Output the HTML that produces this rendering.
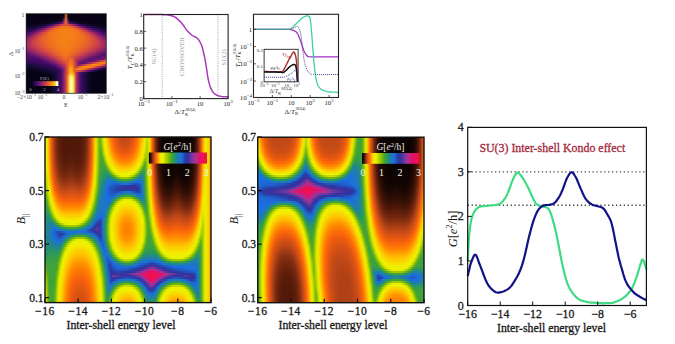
<!DOCTYPE html>
<html><head><meta charset="utf-8"><style>
html,body{margin:0;padding:0;background:#fff;width:675px;height:344px;overflow:hidden}
.hm{position:absolute;overflow:hidden}
.hm div{position:absolute;left:0;width:100%;height:2px}
</style></head><body>
<div class="hm" style="left:45px;top:137px;width:166px;height:166px"><div style="top:0px;background:linear-gradient(90deg,#ecf000 0px,#e8f000 2px,#ffad00 4px,#f8620b 6px,#c64a17 8px,#933513 10px,#73270f 12px,#611f0b 14px,#571b09 16px,#521908 18px,#511808 20px,#501808 22px,#501808 24px,#501808 26px,#501808 28px,#501808 30px,#501808 32px,#511908 34px,#541a09 36px,#5b1d0a 38px,#68220d 40px,#812d11 42px,#ab3f16 44px,#dd5412 46px,#fe8102 48px,#f8d900 50px,#cadf00 52px,#75b70f 54px,#80bb09 56px,#d2e500 58px,#f1ed00 60px,#fdcb00 62px,#ffa200 64px,#fd7f03 66px,#f9660a 68px,#e95a0f 70px,#d95313 72px,#cd4e15 74px,#c64b17 76px,#c34917 78px,#c24918 80px,#c34917 82px,#c84b16 84px,#d04f15 86px,#dd5412 88px,#ef5c0e 90px,#fa6d08 92px,#ff8800 94px,#ffae00 96px,#f9d400 98px,#edf000 100px,#bbd500 102px,#e8f000 104px,#ff9d00 106px,#e05611 108px,#923413 110px,#541a09 112px,#2d0d04 114px,#150602 116px,#0f0401 118px,#0c0401 120px,#0b0301 122px,#0a0301 124px,#0a0301 126px,#0a0301 128px,#0a0301 130px,#0a0301 132px,#0a0301 134px,#0a0301 136px,#0a0301 138px,#0a0301 140px,#0b0301 142px,#0c0401 144px,#0f0401 146px,#150602 148px,#2d0d04 150px,#541a09 152px,#923413 154px,#e05611 156px,#ff9d00 158px,#e8f000 160px,#f4e400 162px,#fec600 164px,#ff9e00 166px)"></div><div style="top:2px;background:linear-gradient(90deg,#ecf000 0px,#e8f000 2px,#ffad00 4px,#f8620b 6px,#c64a17 8px,#943513 10px,#73270f 12px,#611f0b 14px,#571b09 16px,#521908 18px,#511808 20px,#501808 22px,#501808 24px,#501808 26px,#501808 28px,#501808 30px,#501808 32px,#511908 34px,#541a09 36px,#5b1d0a 38px,#68220d 40px,#812d11 42px,#ab3f16 44px,#dd5512 46px,#fe8102 48px,#f8d900 50px,#cadf00 52px,#75b70f 54px,#7cb90b 56px,#cee300 58px,#f0ef00 60px,#fccc00 62px,#ffa500 64px,#fe8102 66px,#f96809 68px,#eb5b0f 70px,#db5312 72px,#cf4f15 74px,#c84c16 76px,#c54a17 78px,#c44a17 80px,#c54a17 82px,#ca4c16 84px,#d25014 86px,#df5511 88px,#f15d0d 90px,#fb6f07 92px,#ff8a00 94px,#ffb100 96px,#f9d600 98px,#ecf000 100px,#b7d400 102px,#e8f000 104px,#ff9d00 106px,#e05611 108px,#923413 110px,#551a09 112px,#2d0d04 114px,#150602 116px,#0f0401 118px,#0c0401 120px,#0b0301 122px,#0a0301 124px,#0a0301 126px,#0a0301 128px,#0a0301 130px,#0a0301 132px,#0a0301 134px,#0a0301 136px,#0a0301 138px,#0a0301 140px,#0b0301 142px,#0c0401 144px,#0f0401 146px,#150602 148px,#2d0d04 150px,#551a09 152px,#923413 154px,#e05611 156px,#ff9d00 158px,#e8f000 160px,#f4e400 162px,#fec500 164px,#ff9e00 166px)"></div><div style="top:4px;background:linear-gradient(90deg,#ecf000 0px,#e8f000 2px,#ffae00 4px,#f8620b 6px,#c64b17 8px,#943513 10px,#73270f 12px,#611f0b 14px,#571b09 16px,#531908 18px,#511808 20px,#501808 22px,#501808 24px,#501808 26px,#501808 28px,#501808 30px,#501808 32px,#511908 34px,#541a09 36px,#5b1d0a 38px,#69230d 40px,#812d11 42px,#ac3f16 44px,#dd5512 46px,#fe8202 48px,#f8d900 50px,#cadf00 52px,#75b70f 54px,#75b70f 56px,#cadf00 58px,#f0f000 60px,#fbcf00 62px,#ffa800 64px,#fe8401 66px,#fa6b09 68px,#ef5c0e 70px,#de5512 72px,#d25014 74px,#cb4d16 76px,#c84b16 78px,#c74b16 80px,#c84c16 82px,#cd4e15 84px,#d55113 86px,#e25711 88px,#f55f0d 90px,#fb7207 92px,#ff8e00 94px,#ffb500 96px,#f8d800 98px,#ebf000 100px,#b3d100 102px,#e8f000 104px,#ff9e00 106px,#e05611 108px,#933513 110px,#551a09 112px,#2d0e05 114px,#150602 116px,#0f0502 118px,#0c0401 120px,#0b0301 122px,#0a0301 124px,#0a0301 126px,#0a0301 128px,#0a0301 130px,#0a0301 132px,#0a0301 134px,#0a0301 136px,#0a0301 138px,#0a0301 140px,#0b0301 142px,#0c0401 144px,#0f0502 146px,#150602 148px,#2d0e05 150px,#551a09 152px,#933513 154px,#e05611 156px,#ff9e00 158px,#e8f000 160px,#f4e400 162px,#ffc500 164px,#ff9e00 166px)"></div><div style="top:6px;background:linear-gradient(90deg,#ecf000 0px,#e8f000 2px,#ffae00 4px,#f8620b 6px,#c64b17 8px,#943513 10px,#74270f 12px,#611f0b 14px,#571b09 16px,#531909 18px,#511808 20px,#501808 22px,#501808 24px,#501808 26px,#501808 28px,#501808 30px,#501808 32px,#521908 34px,#551a09 36px,#5c1d0a 38px,#69230d 40px,#822d11 42px,#ac3f16 44px,#de5512 46px,#fe8202 48px,#f8d900 50px,#c9df00 52px,#75b70f 54px,#6db413 56px,#c3db00 58px,#eef000 60px,#fad200 62px,#ffad00 64px,#ff8800 66px,#fb6f08 68px,#f35e0d 70px,#e25711 72px,#d65213 74px,#cf4e15 76px,#cc4d16 78px,#cb4d16 80px,#cc4d15 82px,#d14f14 84px,#d95313 86px,#e65810 88px,#f8610c 90px,#fc7605 92px,#ff9200 94px,#ffb900 96px,#f7dc00 98px,#eaf000 100px,#adce00 102px,#e8f000 104px,#ff9e00 106px,#e05611 108px,#933513 110px,#551a09 112px,#2d0e05 114px,#150602 116px,#0f0502 118px,#0c0401 120px,#0b0301 122px,#0a0301 124px,#0a0301 126px,#0a0301 128px,#0a0301 130px,#0a0301 132px,#0a0301 134px,#0a0301 136px,#0a0301 138px,#0a0301 140px,#0b0301 142px,#0c0401 144px,#0f0502 146px,#150602 148px,#2d0e05 150px,#551a09 152px,#933513 154px,#e05611 156px,#ff9e00 158px,#e8f000 160px,#f4e300 162px,#ffc500 164px,#ff9e00 166px)"></div><div style="top:8px;background:linear-gradient(90deg,#ecf000 0px,#e8f000 2px,#ffae00 4px,#f9630b 6px,#c74b17 8px,#953613 10px,#74280f 12px,#62200b 14px,#581b09 16px,#531909 18px,#511808 20px,#501808 22px,#501808 24px,#511808 26px,#501808 28px,#501808 30px,#511808 32px,#521908 34px,#551a09 36px,#5c1d0a 38px,#6a230d 40px,#832e11 42px,#ad4016 44px,#de5511 46px,#fe8202 48px,#f8da00 50px,#c9df00 52px,#75b70f 54px,#63b119 56px,#bcd600 58px,#edf000 60px,#f9d600 62px,#ffb300 64px,#ff8e00 66px,#fb7406 68px,#f8600c 70px,#e75910 72px,#db5412 74px,#d45114 76px,#d04f14 78px,#d04f15 80px,#d14f14 82px,#d65113 84px,#de5511 86px,#ec5b0f 88px,#f9650a 90px,#fd7b04 92px,#ff9800 94px,#ffbf00 96px,#f6e000 98px,#e8f000 100px,#a5cb00 102px,#e8f000 104px,#ff9e00 106px,#e15611 108px,#943513 110px,#561a09 112px,#2e0e05 114px,#160602 116px,#0f0502 118px,#0c0401 120px,#0b0301 122px,#0a0301 124px,#0a0301 126px,#0a0301 128px,#0a0301 130px,#0a0301 132px,#0a0301 134px,#0a0301 136px,#0a0301 138px,#0a0301 140px,#0b0301 142px,#0c0401 144px,#0f0502 146px,#160602 148px,#2e0e05 150px,#561a09 152px,#943513 154px,#e15611 156px,#ff9e00 158px,#e8f000 160px,#f4e300 162px,#ffc500 164px,#ff9e00 166px)"></div><div style="top:10px;background:linear-gradient(90deg,#ecf000 0px,#e8f000 2px,#ffaf00 4px,#f9640b 6px,#c84b16 8px,#963613 10px,#75280f 12px,#62200c 14px,#581c0a 16px,#531909 18px,#511908 20px,#501808 22px,#501808 24px,#511908 26px,#511808 28px,#501808 30px,#511808 32px,#521908 34px,#551a09 36px,#5d1d0a 38px,#6a230d 40px,#832e11 42px,#ae4016 44px,#df5511 46px,#fe8302 48px,#f7da00 50px,#c9df00 52px,#74b70f 54px,#56ad20 56px,#b3d100 58px,#ebf000 60px,#f7da00 62px,#ffba00 64px,#ff9500 66px,#fc7904 68px,#f9650a 70px,#ed5b0e 72px,#e15611 74px,#da5312 76px,#d65213 78px,#d65113 80px,#d75213 82px,#dc5412 84px,#e45810 86px,#f25d0d 88px,#fa6b09 90px,#fe8002 92px,#ff9f00 94px,#ffc500 96px,#f4e400 98px,#e4f000 100px,#a3c900 102px,#e8f000 104px,#ff9e00 106px,#e15611 108px,#943513 110px,#561b09 112px,#2e0e05 114px,#160702 116px,#0f0502 118px,#0c0401 120px,#0b0301 122px,#0a0301 124px,#0a0301 126px,#0a0301 128px,#0a0301 130px,#0b0301 132px,#0a0301 134px,#0a0301 136px,#0a0301 138px,#0a0301 140px,#0b0301 142px,#0c0401 144px,#0f0502 146px,#160702 148px,#2e0e05 150px,#561b09 152px,#943513 154px,#e15611 156px,#ff9e00 158px,#e8f000 160px,#f4e300 162px,#ffc500 164px,#ff9d00 166px)"></div><div style="top:12px;background:linear-gradient(90deg,#ecf000 0px,#e7f000 2px,#ffb000 4px,#f9640b 6px,#c84c16 8px,#983713 10px,#76280f 12px,#63200c 14px,#591c0a 16px,#541a09 18px,#521908 20px,#511808 22px,#511808 24px,#521908 26px,#511908 28px,#511808 30px,#511808 32px,#531908 34px,#561b09 36px,#5d1e0b 38px,#6b240d 40px,#852f11 42px,#af4116 44px,#e05611 46px,#fe8401 48px,#f7db00 50px,#c9de00 52px,#74b710 54px,#48a828 56px,#a8cc00 58px,#e9f000 60px,#f5e000 62px,#ffc200 64px,#ff9d00 66px,#fe8002 68px,#fa6c08 70px,#f55f0d 72px,#e9590f 74px,#e15611 76px,#de5512 78px,#dd5412 80px,#de5512 82px,#e35711 84px,#ec5b0f 86px,#f8610c 88px,#fb7107 90px,#ff8700 92px,#ffa700 94px,#fdcb00 96px,#f2ea00 98px,#dded00 100px,#a3c900 102px,#e8f000 104px,#ff9f00 106px,#e25611 108px,#953613 110px,#571b09 112px,#2f0e05 114px,#170702 116px,#100502 118px,#0d0401 120px,#0b0301 122px,#0a0301 124px,#0a0301 126px,#0a0301 128px,#0a0301 130px,#0b0301 132px,#0a0301 134px,#0a0301 136px,#0a0301 138px,#0a0301 140px,#0b0301 142px,#0d0401 144px,#100502 146px,#170702 148px,#2f0e05 150px,#571b09 152px,#953613 154px,#e25611 156px,#ff9f00 158px,#e8f000 160px,#f4e300 162px,#ffc500 164px,#ff9d00 166px)"></div><div style="top:14px;background:linear-gradient(90deg,#ebf000 0px,#e7f000 2px,#ffb100 4px,#f9650a 6px,#ca4c16 8px,#993714 10px,#782910 12px,#64210c 14px,#5a1c0a 16px,#551a09 18px,#521908 20px,#511908 22px,#521908 24px,#531909 26px,#521908 28px,#511908 30px,#521908 32px,#531909 34px,#571b09 36px,#5e1e0b 38px,#6d240d 40px,#862f11 42px,#b14216 44px,#e15611 46px,#fe8501 48px,#f7db00 50px,#c8de00 52px,#73b610 54px,#40a436 56px,#9bc600 58px,#e3f000 60px,#f3e600 62px,#fdc900 64px,#ffa600 66px,#ff8800 68px,#fb7406 70px,#f9650b 72px,#f15d0d 74px,#ea5a0f 76px,#e65810 78px,#e55810 80px,#e75910 82px,#eb5b0f 84px,#f45e0d 86px,#fa6909 88px,#fc7904 90px,#ff9000 92px,#ffb100 94px,#fbd100 96px,#f0f000 98px,#cfe400 100px,#a3c900 102px,#e8f000 104px,#ffa000 106px,#e25711 108px,#963613 110px,#581b0a 112px,#300e05 114px,#170702 116px,#100502 118px,#0d0401 120px,#0b0301 122px,#0a0301 124px,#0a0301 126px,#0a0301 128px,#0a0301 130px,#0b0301 132px,#0a0301 134px,#0a0301 136px,#0a0301 138px,#0a0301 140px,#0b0301 142px,#0d0401 144px,#100502 146px,#170702 148px,#300e05 150px,#581b0a 152px,#963613 154px,#e25711 156px,#ffa000 158px,#e8f000 160px,#f4e300 162px,#ffc500 164px,#ff9d00 166px)"></div><div style="top:16px;background:linear-gradient(90deg,#ebf000 0px,#e7f000 2px,#ffb300 4px,#f9670a 6px,#cb4d16 8px,#9b3814 10px,#792a10 12px,#66210c 14px,#5b1d0a 16px,#551a09 18px,#531909 20px,#521908 22px,#531909 24px,#551a09 26px,#541a09 28px,#521908 30px,#521908 32px,#541a09 34px,#581b09 36px,#601f0b 38px,#6e250e 40px,#883012 42px,#b34217 44px,#e35711 46px,#ff8601 48px,#f7dc00 50px,#c7dd00 52px,#72b611 54px,#40a337 56px,#8bbe03 58px,#d7e900 60px,#f1ee00 62px,#fbd000 64px,#ffb100 66px,#ff9200 68px,#fd7c03 70px,#fa6d08 72px,#f8620b 74px,#f35e0d 76px,#ef5c0e 78px,#ef5c0e 80px,#f05d0e 82px,#f55f0d 84px,#f9650a 86px,#fb7107 88px,#fe8202 90px,#ff9b00 92px,#ffbb00 94px,#f8d800 96px,#edf000 98px,#c0d800 100px,#a2c900 102px,#e8f000 104px,#ffa000 106px,#e35710 108px,#983713 110px,#591c0a 112px,#310f05 114px,#180702 116px,#100502 118px,#0d0401 120px,#0b0301 122px,#0b0301 124px,#0a0301 126px,#0a0301 128px,#0b0301 130px,#0c0301 132px,#0b0301 134px,#0a0301 136px,#0a0301 138px,#0b0301 140px,#0b0301 142px,#0d0401 144px,#100502 146px,#180702 148px,#310f05 150px,#591c0a 152px,#983713 154px,#e35710 156px,#ffa000 158px,#e8f000 160px,#f4e300 162px,#ffc500 164px,#ff9d00 166px)"></div><div style="top:18px;background:linear-gradient(90deg,#ebf000 0px,#e6f000 2px,#ffb500 4px,#f9680a 6px,#cd4d15 8px,#9d3914 10px,#7b2b10 12px,#67220c 14px,#5c1d0a 16px,#561b09 18px,#541a09 20px,#531909 22px,#541a09 24px,#571b09 26px,#551a09 28px,#531909 30px,#531909 32px,#551a09 34px,#591c0a 36px,#611f0b 38px,#70260e 40px,#8a3112 42px,#b64417 44px,#e45810 46px,#ff8800 48px,#f6de00 50px,#c6dd00 52px,#71b611 54px,#40a337 56px,#74b710 58px,#c5dc00 60px,#eef000 62px,#f8d800 64px,#ffbd00 66px,#ff9e00 68px,#ff8600 70px,#fc7705 72px,#fa6c08 74px,#f9650a 76px,#f8620b 78px,#f8610c 80px,#f8630b 82px,#f9670a 84px,#fb6f08 86px,#fd7b04 88px,#ff8d00 90px,#ffa700 92px,#fec600 94px,#f5e100 96px,#eaf000 98px,#afd000 100px,#a2c900 102px,#e7f000 104px,#ffa100 106px,#e45710 108px,#993714 110px,#5a1c0a 112px,#320f05 114px,#190803 116px,#100502 118px,#0d0401 120px,#0b0301 122px,#0b0301 124px,#0a0301 126px,#0a0301 128px,#0b0301 130px,#0c0401 132px,#0b0301 134px,#0a0301 136px,#0a0301 138px,#0b0301 140px,#0b0301 142px,#0d0401 144px,#100502 146px,#190803 148px,#320f05 150px,#5a1c0a 152px,#993714 154px,#e45710 156px,#ffa100 158px,#e7f000 160px,#f4e300 162px,#ffc500 164px,#ff9d00 166px)"></div><div style="top:20px;background:linear-gradient(90deg,#ebf000 0px,#e6f000 2px,#ffb700 4px,#fa6a09 6px,#cf4e15 8px,#a03a14 10px,#7e2c10 12px,#69230d 14px,#5e1e0b 16px,#581b09 18px,#551a09 20px,#541a09 22px,#561b09 24px,#591c0a 26px,#581b09 28px,#551a09 30px,#541a09 32px,#561b09 34px,#5a1c0a 36px,#63200c 38px,#72270e 40px,#8d3212 42px,#b94517 44px,#e65810 46px,#ff8a00 48px,#f6df00 50px,#c5dc00 52px,#6fb512 54px,#40a337 56px,#5aae1e 58px,#b2d100 60px,#eaf000 62px,#f5e100 64px,#fec800 66px,#ffac00 68px,#ff9300 70px,#fe8202 72px,#fc7705 74px,#fb7007 76px,#fa6d08 78px,#fa6c08 80px,#fa6e08 82px,#fb7207 84px,#fd7a04 86px,#ff8601 88px,#ff9a00 90px,#ffb400 92px,#fbcf00 94px,#f2ea00 96px,#e3f000 98px,#9cc600 100px,#a1c900 102px,#e7f000 104px,#ffa300 106px,#e55810 108px,#9b3814 110px,#5c1d0a 112px,#340f05 114px,#1a0803 116px,#110502 118px,#0d0401 120px,#0c0401 122px,#0b0301 124px,#0b0301 126px,#0b0301 128px,#0b0301 130px,#0d0401 132px,#0b0301 134px,#0b0301 136px,#0b0301 138px,#0b0301 140px,#0c0401 142px,#0d0401 144px,#110502 146px,#1a0803 148px,#340f05 150px,#5c1d0a 152px,#9b3814 154px,#e55810 156px,#ffa300 158px,#e7f000 160px,#f4e300 162px,#ffc500 164px,#ff9d00 166px)"></div><div style="top:22px;background:linear-gradient(90deg,#eaf000 0px,#e5f000 2px,#ffb900 4px,#fa6c08 6px,#d14f14 8px,#a33c15 10px,#802d11 12px,#6c240d 14px,#601f0b 16px,#591c0a 18px,#571b09 20px,#561b09 22px,#581c0a 24px,#5b1d0a 26px,#5a1c0a 28px,#571b09 30px,#561b09 32px,#581b09 34px,#5c1d0a 36px,#65210c 38px,#74280f 40px,#903312 42px,#bc4618 44px,#e9590f 46px,#ff8c00 48px,#f5e100 50px,#c4db00 52px,#6db413 54px,#40a338 56px,#43a531 58px,#9cc600 60px,#e2f000 62px,#f2eb00 64px,#fad200 66px,#ffbb00 68px,#ffa200 70px,#ff9000 72px,#fe8301 74px,#fd7c03 76px,#fc7904 78px,#fc7805 80px,#fc7a04 82px,#fd7e03 84px,#ff8601 86px,#ff9500 88px,#ffa900 90px,#ffc300 92px,#f8d900 94px,#eef000 96px,#cee300 98px,#83bc07 100px,#a1c800 102px,#e7f000 104px,#ffa400 106px,#e75910 108px,#9d3914 110px,#5e1e0b 112px,#351005 114px,#1c0803 116px,#110502 118px,#0e0401 120px,#0c0401 122px,#0b0301 124px,#0b0301 126px,#0b0301 128px,#0c0401 130px,#0e0401 132px,#0c0401 134px,#0b0301 136px,#0b0301 138px,#0b0301 140px,#0c0401 142px,#0e0401 144px,#110502 146px,#1c0803 148px,#351005 150px,#5e1e0b 152px,#9d3914 154px,#e75910 156px,#ffa400 158px,#e8f000 160px,#f4e300 162px,#ffc500 164px,#ff9d00 166px)"></div><div style="top:24px;background:linear-gradient(90deg,#eaf000 0px,#e4f000 2px,#ffbc00 4px,#fb6f08 6px,#d35014 8px,#a73d15 10px,#842e11 12px,#6e250e 14px,#62200b 16px,#5b1d0a 18px,#591c0a 20px,#591c0a 22px,#5b1d0a 24px,#5e1e0b 26px,#5d1e0a 28px,#5a1c0a 30px,#581c0a 32px,#5a1c0a 34px,#5e1e0b 36px,#67220c 38px,#77290f 40px,#933513 42px,#c04818 44px,#eb5b0f 46px,#ff8f00 48px,#f5e300 50px,#c2da00 52px,#6bb415 54px,#3fa338 56px,#3fa339 58px,#7fba09 60px,#cae000 62px,#edf000 64px,#f6dd00 66px,#fdc900 68px,#ffb300 70px,#ffa000 72px,#ff9300 74px,#ff8a00 76px,#ff8600 78px,#ff8601 80px,#ff8700 82px,#ff8c00 84px,#ff9600 86px,#ffa500 88px,#ffb900 90px,#fbcf00 92px,#f4e400 94px,#eaf000 96px,#b5d300 98px,#62b11a 100px,#a0c800 102px,#e6f000 104px,#ffa600 106px,#e8590f 108px,#9f3a14 110px,#601f0b 112px,#371005 114px,#1d0903 116px,#110502 118px,#0e0401 120px,#0c0401 122px,#0b0301 124px,#0b0301 126px,#0b0301 128px,#0d0401 130px,#0e0401 132px,#0d0401 134px,#0b0301 136px,#0b0301 138px,#0b0301 140px,#0c0401 142px,#0e0401 144px,#110502 146px,#1d0903 148px,#371005 150px,#601f0b 152px,#9f3a14 154px,#e8590f 156px,#ffa600 158px,#e8f000 160px,#f4e300 162px,#ffc500 164px,#ff9d00 166px)"></div><div style="top:26px;background:linear-gradient(90deg,#e9f000 0px,#e3f000 2px,#ffc000 4px,#fb7207 6px,#d65213 8px,#ab3f16 10px,#873012 12px,#71260e 14px,#65210c 16px,#5e1e0b 18px,#5b1d0a 20px,#5b1d0a 22px,#5f1e0b 24px,#62200b 26px,#611f0b 28px,#5d1d0a 30px,#5b1d0a 32px,#5c1d0a 34px,#611f0b 36px,#6a230d 38px,#7b2a10 40px,#973613 42px,#c34917 44px,#ee5c0e 46px,#ff9300 48px,#f4e500 50px,#c0d800 52px,#68b316 54px,#3fa339 56px,#3ea23b 58px,#5aae1e 60px,#aecf00 62px,#e9f000 64px,#f2e900 66px,#f9d500 68px,#ffc400 70px,#ffb200 72px,#ffa400 74px,#ff9c00 76px,#ff9800 78px,#ff9700 80px,#ff9900 82px,#ff9e00 84px,#ffa800 86px,#ffb700 88px,#fdc900 90px,#f7db00 92px,#f0f000 94px,#deef00 96px,#99c500 98px,#43a531 100px,#9fc800 102px,#e6f000 104px,#ffa700 106px,#ea5a0f 108px,#a23b15 110px,#62200b 112px,#391106 114px,#1f0903 116px,#120502 118px,#0f0401 120px,#0d0401 122px,#0c0301 124px,#0b0301 126px,#0c0401 128px,#0e0401 130px,#0f0502 132px,#0e0401 134px,#0c0401 136px,#0b0301 138px,#0c0301 140px,#0d0401 142px,#0f0401 144px,#120502 146px,#1f0903 148px,#391106 150px,#62200b 152px,#a23b15 154px,#ea5a0f 156px,#ffa700 158px,#e8f000 160px,#f4e300 162px,#ffc500 164px,#ff9d00 166px)"></div><div style="top:28px;background:linear-gradient(90deg,#e9f000 0px,#e2f000 2px,#ffc400 4px,#fc7506 6px,#da5312 8px,#b04116 10px,#8b3112 12px,#75280f 14px,#68220d 16px,#611f0b 18px,#5e1e0b 20px,#5f1e0b 22px,#62200c 24px,#66210c 26px,#65210c 28px,#601f0b 30px,#5e1e0b 32px,#5f1e0b 34px,#64200c 36px,#6d250e 38px,#7f2c11 40px,#9c3814 42px,#c64a17 44px,#f25d0d 46px,#ff9700 48px,#f3e800 50px,#bed700 52px,#65b218 54px,#3ea23b 56px,#3da23d 58px,#3ea23b 60px,#8fc001 62px,#d2e500 64px,#edf000 66px,#f5e200 68px,#fad100 70px,#ffc500 72px,#ffb800 74px,#ffaf00 76px,#ffab00 78px,#ffaa00 80px,#ffac00 82px,#ffb100 84px,#ffbb00 86px,#fec800 88px,#f9d600 90px,#f3e800 92px,#ebf000 94px,#bed700 96px,#73b610 98px,#41a435 100px,#9ec700 102px,#e6f000 104px,#ffa900 106px,#ec5b0f 108px,#a53c15 110px,#64210c 112px,#3b1206 114px,#210a03 116px,#130602 118px,#0f0502 120px,#0d0401 122px,#0c0401 124px,#0c0401 126px,#0d0401 128px,#0f0401 130px,#100502 132px,#0f0401 134px,#0d0401 136px,#0c0401 138px,#0c0401 140px,#0d0401 142px,#0f0502 144px,#130602 146px,#210a03 148px,#3b1206 150px,#64210c 152px,#a53c15 154px,#ec5b0f 156px,#ffa900 158px,#e8f000 160px,#f4e300 162px,#ffc500 164px,#ff9d00 166px)"></div><div style="top:30px;background:linear-gradient(90deg,#e8f000 0px,#e1f000 2px,#fec700 4px,#fc7805 6px,#dd5512 8px,#b54317 10px,#903313 12px,#792a10 14px,#6c240d 16px,#65210c 18px,#62200b 20px,#63200c 22px,#67220c 24px,#6a230d 26px,#69230d 28px,#65210c 30px,#62200b 32px,#63200c 34px,#67220c 36px,#71260e 38px,#832e11 40px,#a13b14 42px,#c94c16 44px,#f65f0c 46px,#ff9b00 48px,#f2eb00 50px,#bbd600 52px,#62b11a 54px,#3da23d 56px,#3ba140 58px,#399f44 60px,#5fb01b 62px,#adcf00 64px,#e7f000 66px,#f0f000 68px,#f6df00 70px,#fad300 72px,#fdca00 74px,#ffc400 76px,#ffc000 78px,#ffbf00 80px,#ffc100 82px,#ffc500 84px,#fccc00 86px,#f9d600 88px,#f4e400 90px,#eef000 92px,#daec00 94px,#9ac500 96px,#46a72b 98px,#40a436 100px,#9dc700 102px,#e5f000 104px,#ffac00 106px,#ee5c0e 108px,#a83e15 110px,#67220c 112px,#3e1206 114px,#230a03 116px,#130602 118px,#100502 120px,#0e0401 122px,#0d0401 124px,#0c0401 126px,#0d0401 128px,#100502 130px,#110502 132px,#100502 134px,#0d0401 136px,#0c0401 138px,#0d0401 140px,#0e0401 142px,#100502 144px,#130602 146px,#230a03 148px,#3e1206 150px,#67220c 152px,#a83e15 154px,#ee5c0e 156px,#ffac00 158px,#e8f000 160px,#f5e300 162px,#ffc500 164px,#ff9d00 166px)"></div><div style="top:32px;background:linear-gradient(90deg,#e7f000 0px,#dfef00 2px,#fdca00 4px,#fd7c03 6px,#e25611 8px,#bb4617 10px,#953613 12px,#7e2c10 14px,#70260e 16px,#69230d 18px,#66220c 20px,#68220d 22px,#6c240d 24px,#70260e 26px,#6e250e 28px,#6a230d 30px,#67220c 32px,#67220c 34px,#6c240d 36px,#76280f 38px,#883012 40px,#a63d15 42px,#cd4e15 44px,#f8620b 46px,#ffa000 48px,#f1ee00 50px,#b8d400 52px,#5eaf1c 54px,#3ba140 56px,#389f45 58px,#359d4b 60px,#3ca13f 62px,#82bb08 64px,#c3da00 66px,#eaf000 68px,#f0ef00 70px,#f5e200 72px,#f8d900 74px,#fad300 76px,#fbd000 78px,#fbd000 80px,#fbd100 82px,#f9d500 84px,#f7db00 86px,#f4e500 88px,#eff000 90px,#e6f000 92px,#b0d000 94px,#68b316 96px,#319b53 98px,#40a338 100px,#9cc600 102px,#e4f000 104px,#ffae00 106px,#f05d0e 108px,#ab3f16 110px,#6a230d 112px,#401306 114px,#250b04 116px,#140602 118px,#100502 120px,#0e0401 122px,#0d0401 124px,#0d0401 126px,#0e0401 128px,#110502 130px,#130602 132px,#110502 134px,#0e0401 136px,#0d0401 138px,#0d0401 140px,#0e0401 142px,#100502 144px,#140602 146px,#250b04 148px,#401306 150px,#6a230d 152px,#ab3f16 154px,#f05d0e 156px,#ffae00 158px,#e8f000 160px,#f5e300 162px,#ffc500 164px,#ff9c00 166px)"></div><div style="top:34px;background:linear-gradient(90deg,#e4f000 0px,#dbec00 2px,#fcce00 4px,#fe8102 6px,#e65810 8px,#c14818 10px,#9b3814 12px,#832e11 14px,#75280f 16px,#6e250e 18px,#6b240d 20px,#6d240e 22px,#72260e 24px,#75280f 26px,#74270f 28px,#6f250e 30px,#6c240d 32px,#6c240d 34px,#70260e 36px,#7b2a10 38px,#8e3212 40px,#ad4016 42px,#d25014 44px,#f9660a 46px,#ffa600 48px,#eff000 50px,#b5d200 52px,#59ae1f 54px,#39a044 56px,#359d4b 58px,#309b54 60px,#2c985c 62px,#47a829 64px,#95c200 66px,#cce100 68px,#eaf000 70px,#eff000 72px,#f2e900 74px,#f4e300 76px,#f5e100 78px,#f5e000 80px,#f5e100 82px,#f4e500 84px,#f2eb00 86px,#eef000 88px,#e8f000 90px,#bcd600 92px,#7fba0a 94px,#3da23d 96px,#2a9760 98px,#3fa339 100px,#9bc500 102px,#e4f000 104px,#ffb100 106px,#f35e0d 108px,#af4116 110px,#6e250e 112px,#431407 114px,#280c04 116px,#170702 118px,#110502 120px,#0f0401 122px,#0e0401 124px,#0e0401 126px,#0f0502 128px,#120502 130px,#140602 132px,#120502 134px,#0f0502 136px,#0e0401 138px,#0e0401 140px,#0f0401 142px,#110502 144px,#170702 146px,#280c04 148px,#431407 150px,#6e250e 152px,#af4116 154px,#f35e0d 156px,#ffb100 158px,#e8f000 160px,#f5e300 162px,#ffc500 164px,#ff9c00 166px)"></div><div style="top:36px;background:linear-gradient(90deg,#e2f000 0px,#d7e900 2px,#fad200 4px,#ff8601 6px,#eb5b0f 8px,#c64a17 10px,#a23b15 12px,#893112 14px,#7a2a10 16px,#73270f 18px,#71260e 20px,#73270f 22px,#782910 24px,#7c2b10 26px,#7a2a10 28px,#75280f 30px,#72260e 32px,#71260e 34px,#76280f 36px,#812d11 38px,#943513 40px,#b44317 42px,#d75213 44px,#fa6b09 46px,#ffac00 48px,#eef000 50px,#b1d100 52px,#54ac21 54px,#369e49 56px,#319b53 58px,#2a975f 60px,#27936b 62px,#2b985e 64px,#52ab23 66px,#96c300 68px,#c6dd00 70px,#e8f000 72px,#ecf000 74px,#eef000 76px,#eff000 78px,#eff000 80px,#eff000 82px,#eef000 84px,#ebf000 86px,#e3f000 88px,#b8d400 90px,#84bc07 92px,#43a532 94px,#269171 96px,#269270 98px,#3ea23b 100px,#99c500 102px,#e3f000 104px,#ffb400 106px,#f65f0c 108px,#b34317 110px,#71260e 112px,#471507 114px,#2b0d04 116px,#190803 118px,#120502 120px,#100502 122px,#0f0401 124px,#0f0502 126px,#110502 128px,#140602 130px,#180702 132px,#140602 134px,#110502 136px,#0f0502 138px,#0f0401 140px,#100502 142px,#120502 144px,#190803 146px,#2b0d04 148px,#471507 150px,#71260e 152px,#b34317 154px,#f65f0c 156px,#ffb400 158px,#e8f000 160px,#f5e300 162px,#ffc400 164px,#ff9c00 166px)"></div><div style="top:38px;background:linear-gradient(90deg,#deef00 0px,#d3e600 2px,#f9d700 4px,#ff8c00 6px,#f15d0d 8px,#cb4d16 10px,#aa3e15 12px,#903413 14px,#812d11 16px,#792a10 18px,#782910 20px,#7a2a10 22px,#7f2c11 24px,#832e11 26px,#812d11 28px,#7d2b10 30px,#782910 32px,#782910 34px,#7c2b10 36px,#883012 38px,#9b3814 40px,#bb4617 42px,#dc5412 44px,#fb7007 46px,#ffb200 48px,#ecf000 50px,#adce00 52px,#4eaa25 54px,#339c4f 56px,#2c985d 58px,#27936d 60px,#258d7e 62px,#23888a 64px,#2c985c 66px,#4aa927 68px,#86bd05 70px,#afcf00 72px,#cde200 74px,#e1f000 76px,#e7f000 78px,#e8f000 80px,#e6f000 82px,#ddee00 84px,#c5dc00 86px,#a4ca00 88px,#75b70f 90px,#41a436 92px,#27926e 94px,#22868f 96px,#248a84 98px,#3da23d 100px,#97c400 102px,#e2f000 104px,#ffb800 106px,#f8610c 108px,#b84517 110px,#75280f 112px,#4a1607 114px,#2e0e05 116px,#1c0803 118px,#130602 120px,#110502 122px,#100502 124px,#100502 126px,#120502 128px,#170702 130px,#1c0803 132px,#170702 134px,#120502 136px,#100502 138px,#100502 140px,#110502 142px,#130602 144px,#1c0803 146px,#2e0e05 148px,#4a1607 150px,#75280f 152px,#b84517 154px,#f8610c 156px,#ffb800 158px,#e8f000 160px,#f5e300 162px,#ffc400 164px,#ff9c00 166px)"></div><div style="top:40px;background:linear-gradient(90deg,#d8ea00 0px,#cee300 2px,#f7dc00 4px,#ff9300 6px,#f7600c 8px,#d14f14 10px,#b24216 12px,#983713 14px,#893012 16px,#812d11 18px,#7f2c11 20px,#822d11 22px,#873012 24px,#8b3112 26px,#893112 28px,#852f11 30px,#802d11 32px,#7f2c11 34px,#842e11 36px,#8f3312 38px,#a33c15 40px,#c34917 42px,#e25711 44px,#fc7605 46px,#ffba00 48px,#eaf000 50px,#a8cc00 52px,#48a828 54px,#309a56 56px,#279568 58px,#258d7e 60px,#228592 62px,#2080a2 64px,#20809f 66px,#27936b 68px,#3ca13e 70px,#5caf1d 72px,#81bb09 74px,#98c400 76px,#a1c900 78px,#a3ca00 80px,#9fc800 82px,#93c100 84px,#77b80e 86px,#4eaa24 88px,#359d4b 90px,#258e7a 92px,#1f7dac 94px,#1f7ea7 96px,#21829b 98px,#3ca13f 100px,#95c300 102px,#e1f000 104px,#ffbc00 106px,#f9640b 108px,#bd4718 110px,#7a2a10 112px,#4e1808 114px,#310f05 116px,#1f0903 118px,#140602 120px,#120502 122px,#110502 124px,#120502 126px,#140602 128px,#1c0803 130px,#210a03 132px,#1c0803 134px,#140602 136px,#120502 138px,#110502 140px,#120502 142px,#140602 144px,#1f0903 146px,#310f05 148px,#4e1808 150px,#7a2a10 152px,#bd4718 154px,#f9640b 156px,#ffbc00 158px,#e8f000 160px,#f5e300 162px,#ffc400 164px,#ff9c00 166px)"></div><div style="top:42px;background:linear-gradient(90deg,#d1e500 0px,#c9df00 2px,#f5e100 4px,#ff9b00 6px,#f9650a 8px,#d75213 10px,#bb4617 12px,#a13b14 14px,#913413 16px,#893112 18px,#883012 20px,#8b3112 22px,#903313 24px,#933513 26px,#923413 28px,#8d3212 30px,#893012 32px,#883012 34px,#8c3212 36px,#983713 38px,#ac4016 40px,#c94c16 42px,#e9590f 44px,#fd7c04 46px,#ffc200 48px,#e7f000 50px,#a3c900 52px,#45a62e 54px,#2c985d 56px,#269074 58px,#22868f 60px,#1f7ea6 62px,#1e7bb5 64px,#1d78bf 66px,#1e7cb1 68px,#23878d 70px,#279469 72px,#349d4e 74px,#3ea23c 76px,#43a532 78px,#44a630 80px,#42a434 82px,#3ba140 84px,#309a55 86px,#269073 88px,#218399 90px,#1d79bc 92px,#1c77c6 94px,#1d79bd 96px,#20819e 98px,#3aa042 100px,#93c200 102px,#e0f000 104px,#ffc000 106px,#f9670a 108px,#c24918 110px,#7f2c11 112px,#531909 114px,#351005 116px,#230a03 118px,#170702 120px,#130602 122px,#120502 124px,#130602 126px,#180702 128px,#210a03 130px,#260b04 132px,#210a03 134px,#180702 136px,#130602 138px,#120502 140px,#130602 142px,#170702 144px,#230a03 146px,#351005 148px,#531909 150px,#7f2c11 152px,#c24918 154px,#f9670a 156px,#ffc000 158px,#e8f000 160px,#f5e300 162px,#ffc400 164px,#ff9c00 166px)"></div><div style="top:44px;background:linear-gradient(90deg,#c9df00 0px,#c3da00 2px,#f3e700 4px,#ffa300 6px,#fa6c08 8px,#de5512 10px,#c34917 12px,#aa3f16 14px,#9a3814 16px,#923413 18px,#913413 20px,#943513 22px,#993714 24px,#9d3914 26px,#9c3814 28px,#973613 30px,#923413 32px,#913413 34px,#953613 36px,#a13b14 38px,#b64417 40px,#cf4f15 42px,#f05d0e 44px,#fe8301 46px,#fec800 48px,#e4f000 50px,#9dc700 52px,#41a434 54px,#289665 56px,#248c80 58px,#2080a0 60px,#1e7ab7 62px,#1c76c8 64px,#1b73d4 66px,#1a71db 68px,#1b74d1 70px,#1e7ab9 72px,#1f7ea7 74px,#218398 76px,#22878e 78px,#23878c 80px,#228690 82px,#21829c 84px,#1f7dac 86px,#1d78c0 88px,#1b72d9 90px,#1c6ad8 92px,#1a70e0 94px,#1b73d5 96px,#2080a1 98px,#39a044 100px,#91c000 102px,#ddee00 104px,#ffc400 106px,#fa6b09 108px,#c54a17 110px,#842e11 112px,#571b09 114px,#3a1106 116px,#270c04 118px,#1b0803 120px,#150602 122px,#140602 124px,#160702 126px,#1d0903 128px,#260b04 130px,#2b0d04 132px,#260b04 134px,#1d0903 136px,#160702 138px,#140602 140px,#150602 142px,#1b0803 144px,#270c04 146px,#3a1106 148px,#571b09 150px,#842e11 152px,#c54a17 154px,#fa6b09 156px,#ffc400 158px,#e8f000 160px,#f5e300 162px,#ffc400 164px,#ff9c00 166px)"></div><div style="top:46px;background:linear-gradient(90deg,#c1d900 0px,#bcd600 2px,#f1ee00 4px,#ffac00 6px,#fb7306 8px,#e65810 10px,#ca4c16 12px,#b54317 14px,#a53c15 16px,#9d3914 18px,#9b3814 20px,#9f3a14 22px,#a43c15 24px,#a73d15 26px,#a63d15 28px,#a13b14 30px,#9d3914 32px,#9b3814 34px,#a03a14 36px,#ab3f16 38px,#c14818 40px,#d75213 42px,#f8600c 44px,#ff8b00 46px,#fbcf00 48px,#e1f000 50px,#97c300 52px,#3ea23c 54px,#27936d 56px,#23878c 58px,#1f7dac 60px,#1c77c6 62px,#1b72da 64px,#1c6ad9 66px,#1e63d1 68px,#1f5fcb 70px,#205bc7 72px,#1d65d3 74px,#1a6fde 76px,#1a71db 78px,#1b72da 80px,#1a71dd 82px,#1b6cdb 84px,#1e61ce 86px,#2352bd 88px,#254ab4 90px,#2350ba 92px,#2158c4 94px,#1d66d5 96px,#207fa3 98px,#379f47 100px,#8ebf01 102px,#dbec00 104px,#fec800 106px,#fb6f07 108px,#ca4c16 110px,#8a3112 112px,#5c1d0a 114px,#3e1306 116px,#2b0d04 118px,#1f0903 120px,#190803 122px,#180702 124px,#1b0803 126px,#230a03 128px,#2c0d04 130px,#300e05 132px,#2c0d04 134px,#230a03 136px,#1b0803 138px,#180702 140px,#190803 142px,#1f0903 144px,#2b0d04 146px,#3e1306 148px,#5c1d0a 150px,#8a3112 152px,#ca4c16 154px,#fb6f07 156px,#fec800 158px,#e8f000 160px,#f5e300 162px,#ffc400 164px,#ff9c00 166px)"></div><div style="top:48px;background:linear-gradient(90deg,#b8d400 0px,#b5d300 2px,#eef000 4px,#ffb600 6px,#fd7b04 8px,#ee5c0e 10px,#d25014 12px,#c04818 14px,#b04116 16px,#a83e15 18px,#a73d15 20px,#aa3f15 22px,#af4116 24px,#b24216 26px,#b14216 28px,#ac4016 30px,#a83e15 32px,#a73d15 34px,#ab3f16 36px,#b74417 38px,#c84c16 40px,#df5511 42px,#f9670a 44px,#ff9500 46px,#f9d500 48px,#dbec00 50px,#90c000 52px,#39a043 54px,#269075 56px,#218397 58px,#1e7ab7 60px,#1b73d2 62px,#1c69d8 64px,#1f5dca 66px,#2256c1 68px,#2350ba 70px,#254bb5 72px,#2646af 74px,#2841a8 76px,#2a3ba1 78px,#2b39a0 80px,#2c39a0 82px,#2e37a0 84px,#3036a0 86px,#2f37a0 88px,#2d38a0 90px,#2a3aa0 92px,#2744ab 94px,#1d64d2 96px,#1f7fa6 98px,#369e4a 100px,#8abe04 102px,#d8ea00 104px,#fdcb00 106px,#fb7306 108px,#ce4e15 110px,#903413 112px,#62200b 114px,#431407 116px,#300e05 118px,#240b04 120px,#1e0903 122px,#1d0903 124px,#210a03 126px,#290c04 128px,#320f05 130px,#361005 132px,#320f05 134px,#290c04 136px,#210a03 138px,#1d0903 140px,#1e0903 142px,#240b04 144px,#300e05 146px,#431407 148px,#62200b 150px,#903413 152px,#ce4e15 154px,#fb7306 156px,#fdcb00 158px,#e8f000 160px,#f5e300 162px,#ffc400 164px,#ff9c00 166px)"></div><div style="top:50px;background:linear-gradient(90deg,#adcf00 0px,#adcf00 2px,#ebf000 4px,#ffc100 6px,#fe8401 8px,#f75f0c 10px,#db5312 12px,#c84c16 14px,#bc4618 16px,#b44317 18px,#b34216 20px,#b64417 22px,#bb4617 24px,#be4718 26px,#bd4718 28px,#b84517 30px,#b44317 32px,#b34216 34px,#b74417 36px,#c24918 38px,#d04f14 40px,#e75910 42px,#fb7007 44px,#ff9f00 46px,#f7dd00 48px,#d3e600 50px,#85bc06 52px,#359d4c 54px,#258d7c 56px,#2080a0 58px,#1d78bf 60px,#1a71db 62px,#1e61cf 64px,#2255c0 66px,#244eb7 68px,#2648b0 70px,#2742aa 72px,#293da3 74px,#2c39a0 76px,#2f37a0 78px,#3235a0 80px,#3434a0 82px,#3633a0 84px,#3732a0 86px,#3633a0 88px,#3434a0 90px,#3036a0 92px,#2b39a0 94px,#1e62d0 96px,#1f7ea8 98px,#349d4e 100px,#85bc06 102px,#d5e700 104px,#fbcf00 106px,#fc7805 108px,#d35014 110px,#973713 112px,#68220d 114px,#491607 116px,#351005 118px,#290c04 120px,#230a03 122px,#220a03 124px,#270c04 126px,#2f0e05 128px,#381106 130px,#3d1206 132px,#381106 134px,#2f0e05 136px,#270c04 138px,#220a03 140px,#230a03 142px,#290c04 144px,#351005 146px,#491607 148px,#68220d 150px,#973713 152px,#d35014 154px,#fc7805 156px,#fbcf00 158px,#e8f000 160px,#f5e300 162px,#ffc400 164px,#ff9c00 166px)"></div><div style="top:52px;background:linear-gradient(90deg,#a2c900 0px,#a5ca00 2px,#e8f000 4px,#fdca00 6px,#ff8e00 8px,#f9670a 10px,#e45710 12px,#d14f14 14px,#c64b17 16px,#c14818 18px,#c04818 20px,#c24918 22px,#c54a17 24px,#c74b17 26px,#c64b17 28px,#c34917 30px,#c14818 32px,#c04818 34px,#c34917 36px,#cb4d16 38px,#d95313 40px,#f15d0e 42px,#fc7805 44px,#ffab00 46px,#f4e500 48px,#cadf00 50px,#79b80d 52px,#309a55 54px,#248a84 56px,#1f7fa6 58px,#1d77c5 60px,#1a6fdf 62px,#1f5eca 64px,#2353bd 66px,#254cb5 68px,#2647af 70px,#2842a9 72px,#293ca3 74px,#2c39a0 76px,#2f37a0 78px,#2c39a0 80px,#2b39a0 82px,#2c39a0 84px,#2e37a0 86px,#3335a0 88px,#3434a0 90px,#3036a0 92px,#2b39a0 94px,#1f60cd 96px,#1f7dab 98px,#329c52 100px,#81bb09 102px,#d1e500 104px,#fad300 106px,#fd7d03 108px,#d85213 110px,#9f3a14 112px,#6e250e 114px,#4f1808 116px,#3b1206 118px,#2e0e05 120px,#290c04 122px,#280c04 124px,#2d0d04 126px,#361005 128px,#3f1306 130px,#431407 132px,#3f1306 134px,#361005 136px,#2d0d04 138px,#280c04 140px,#290c04 142px,#2e0e05 144px,#3b1206 146px,#4f1808 148px,#6e250e 150px,#9f3a14 152px,#d85213 154px,#fd7d03 156px,#fad300 158px,#e8f000 160px,#f5e300 162px,#ffc400 164px,#ff9c00 166px)"></div><div style="top:54px;background:linear-gradient(90deg,#96c300 0px,#9bc600 2px,#e3f000 4px,#fad200 6px,#ff9900 8px,#fb7107 10px,#ee5c0e 12px,#db5312 14px,#cf4f15 16px,#ca4c16 18px,#c94c16 20px,#cb4d16 22px,#ce4e15 24px,#d04f15 26px,#cf4e15 28px,#cc4d15 30px,#ca4c16 32px,#c94c16 34px,#cc4d15 36px,#d45114 38px,#e35710 40px,#f8620b 42px,#fe8202 44px,#ffb700 46px,#f1ed00 48px,#c0d800 50px,#6cb414 52px,#2b975f 54px,#23878c 56px,#1f7dab 58px,#1c76c9 60px,#1b6edd 62px,#1f5ecb 64px,#2255c0 66px,#2350ba 68px,#244db6 70px,#254ab2 72px,#244db7 74px,#1f5ecb 76px,#1c6bda 78px,#1a71dd 80px,#1b72da 82px,#1a71dc 84px,#1b6cdb 86px,#1f60cd 88px,#244fb9 90px,#2a3ba1 92px,#2744ab 94px,#1f5dca 96px,#1f7cae 98px,#309a56 100px,#7bb90b 102px,#cde200 104px,#f8d700 106px,#fe8202 108px,#dd5512 110px,#a63d15 112px,#75280f 114px,#561a09 116px,#411306 118px,#341005 120px,#2f0e05 122px,#2f0e05 124px,#341005 126px,#3d1206 128px,#461507 130px,#4a1607 132px,#461507 134px,#3d1206 136px,#341005 138px,#2f0e05 140px,#2f0e05 142px,#341005 144px,#411306 146px,#561a09 148px,#75280f 150px,#a63d15 152px,#dd5512 154px,#fe8202 156px,#f8d700 158px,#e8f000 160px,#f5e300 162px,#ffc400 164px,#ff9c00 166px)"></div><div style="top:56px;background:linear-gradient(90deg,#85bc06 0px,#91c100 2px,#dbec00 4px,#f7db00 6px,#ffa600 8px,#fd7b04 10px,#f8600c 12px,#e55810 14px,#d95313 16px,#d45114 18px,#d35014 20px,#d45114 22px,#d75213 24px,#d95313 26px,#d85213 28px,#d65113 30px,#d35014 32px,#d35014 34px,#d65113 36px,#de5511 38px,#ee5c0e 40px,#fa6c08 42px,#ff8d00 44px,#ffc400 46px,#edf000 48px,#b6d300 50px,#5eaf1c 52px,#27946a 54px,#218495 56px,#1e7cb1 58px,#1c75cc 60px,#1b6edd 62px,#1e61ce 64px,#205bc7 66px,#2159c5 68px,#2159c4 70px,#1b6ddc 72px,#1c76c7 74px,#1f7cb0 76px,#20819e 78px,#228691 80px,#23878c 82px,#228690 84px,#20819c 86px,#1f7dae 88px,#1d77c4 90px,#1a70df 92px,#2158c4 94px,#1d65d3 96px,#1e7cb2 98px,#2d995a 100px,#76b70e 102px,#c9df00 104px,#f7dc00 106px,#ff8700 108px,#e35711 110px,#af4116 112px,#7d2b10 114px,#5d1d0a 116px,#481507 118px,#3b1206 120px,#351005 122px,#361005 124px,#3b1206 126px,#441507 128px,#4e1708 130px,#521908 132px,#4e1708 134px,#441507 136px,#3b1206 138px,#361005 140px,#351005 142px,#3b1206 144px,#481507 146px,#5d1d0a 148px,#7d2b10 150px,#af4116 152px,#e35711 154px,#ff8700 156px,#f7dc00 158px,#e8f000 160px,#f5e300 162px,#ffc400 164px,#ff9c00 166px)"></div><div style="top:58px;background:linear-gradient(90deg,#71b611 0px,#82bb08 2px,#cfe400 4px,#f4e500 6px,#ffb400 8px,#ff8501 10px,#fa6b09 12px,#f05d0e 14px,#e45810 16px,#de5511 18px,#dd5512 20px,#df5511 22px,#e15611 24px,#e35711 26px,#e25711 28px,#e05611 30px,#de5512 32px,#dd5512 34px,#e15611 36px,#e95a0f 38px,#f8610c 40px,#fc7705 42px,#ff9a00 44px,#fccd00 46px,#eaf000 48px,#aacd00 50px,#4faa24 52px,#268f77 54px,#2080a0 56px,#1e7ab7 58px,#1c74cf 60px,#1a6fdf 62px,#1d66d5 64px,#1d64d2 66px,#1d66d4 68px,#1c75cc 70px,#1f7ea7 72px,#248c7f 74px,#2c985c 76px,#39a043 78px,#41a434 80px,#44a630 82px,#42a533 84px,#3ba041 86px,#2e9959 88px,#258e7b 90px,#207fa4 92px,#1c76c8 94px,#1b73d5 96px,#1e7bb5 98px,#2b985f 100px,#70b512 102px,#c5dc00 104px,#f5e100 106px,#ff8e00 108px,#e95a0f 110px,#b84417 112px,#852f11 114px,#64210c 116px,#4f1808 118px,#421407 120px,#3d1206 122px,#3d1206 124px,#431407 126px,#4d1708 128px,#561a09 130px,#591c0a 132px,#561a09 134px,#4d1708 136px,#431407 138px,#3d1206 140px,#3d1206 142px,#421407 144px,#4f1808 146px,#64210c 148px,#852f11 150px,#b84417 152px,#e95a0f 154px,#ff8e00 156px,#f5e100 158px,#e8f000 160px,#f5e300 162px,#ffc400 164px,#ff9c00 166px)"></div><div style="top:60px;background:linear-gradient(90deg,#5bae1d 0px,#71b611 2px,#c3da00 4px,#f0ef00 6px,#ffc200 8px,#ff9300 10px,#fc7606 12px,#f9640b 14px,#f05c0e 16px,#ea5a0f 18px,#e8590f 20px,#ea5a0f 22px,#ec5b0f 24px,#ed5b0e 26px,#ed5b0e 28px,#eb5a0f 30px,#e9590f 32px,#e9590f 34px,#ec5b0f 36px,#f55f0d 38px,#fa6b09 40px,#fe8202 42px,#ffa800 44px,#f9d700 46px,#e4f000 48px,#9ec700 50px,#44a62f 52px,#248a84 54px,#1f7ea8 56px,#1d79bd 58px,#1b74d0 60px,#1a70de 62px,#1b6ddd 64px,#1a6fdf 66px,#1d77c3 68px,#228593 70px,#2c985d 72px,#44a630 74px,#6db414 76px,#8fc000 78px,#9ec700 80px,#a3ca00 82px,#9fc800 84px,#92c100 86px,#71b611 88px,#46a72c 90px,#2e9958 92px,#22878e 94px,#1d79bd 96px,#1f7cb0 98px,#289664 100px,#6ab315 102px,#c0d800 104px,#f3e600 106px,#ff9600 108px,#f05c0e 110px,#c14818 112px,#8e3312 114px,#6c240d 116px,#571b09 118px,#4a1607 120px,#451507 122px,#461507 124px,#4c1708 126px,#551a09 128px,#5e1e0b 130px,#62200b 132px,#5e1e0b 134px,#551a09 136px,#4c1708 138px,#461507 140px,#451507 142px,#4a1607 144px,#571b09 146px,#6c240d 148px,#8e3312 150px,#c14818 152px,#f05c0e 154px,#ff9600 156px,#f3e600 158px,#e8f000 160px,#f5e200 162px,#ffc400 164px,#ff9c00 166px)"></div><div style="top:62px;background:linear-gradient(90deg,#46a72c 0px,#5fb01b 2px,#b5d200 4px,#ecf000 6px,#fccd00 8px,#ffa100 10px,#fe8102 12px,#fb6f08 14px,#f9640b 16px,#f65f0c 18px,#f45e0d 20px,#f55f0d 22px,#f7600c 24px,#f8600c 26px,#f8600c 28px,#f65f0c 30px,#f45e0d 32px,#f45e0d 34px,#f8600c 36px,#f96809 38px,#fc7705 40px,#ff8f00 42px,#ffb700 44px,#f5e100 46px,#d9eb00 48px,#91c000 50px,#3ca13e 52px,#228592 54px,#1f7cb0 56px,#1d77c2 58px,#1b74d1 60px,#1b71da 62px,#1b71da 64px,#1c76c7 66px,#228690 68px,#329c51 70px,#5aae1e 72px,#96c300 74px,#bcd600 76px,#d9eb00 78px,#e5f000 80px,#e8f000 82px,#e6f000 84px,#dbec00 86px,#bfd800 88px,#9ac500 90px,#61b01a 92px,#359d4b 94px,#23888a 96px,#21829b 98px,#27946a 100px,#63b119 102px,#bbd600 104px,#f2ec00 106px,#ff9e00 108px,#f75f0c 110px,#c74b16 112px,#983713 114px,#75280f 116px,#5f1e0b 118px,#521908 120px,#4d1708 122px,#4e1708 124px,#551a09 126px,#5e1e0b 128px,#66220c 130px,#6a230d 132px,#66220c 134px,#5e1e0b 136px,#551a09 138px,#4e1708 140px,#4d1708 142px,#521908 144px,#5f1e0b 146px,#75280f 148px,#983713 150px,#c74b16 152px,#f75f0c 154px,#ff9e00 156px,#f2ec00 158px,#e8f000 160px,#f5e200 162px,#ffc400 164px,#ff9c00 166px)"></div><div style="top:64px;background:linear-gradient(90deg,#3da23c 0px,#4ca926 2px,#a6cb00 4px,#e7f000 6px,#f8d800 8px,#ffb100 10px,#ff8f00 12px,#fd7b04 14px,#fb6f07 16px,#fa6909 18px,#f9680a 20px,#f9680a 22px,#fa6a09 24px,#fa6b09 26px,#fa6b09 28px,#fa6909 30px,#f9680a 32px,#f9680a 34px,#fa6c08 36px,#fc7406 38px,#fe8301 40px,#ff9e00 42px,#fec600 44px,#f1ed00 46px,#cadf00 48px,#7dba0b 50px,#349d4d 52px,#2080a1 54px,#1e7bb6 56px,#1c77c5 58px,#1b74d1 60px,#1b73d5 62px,#1b74d1 64px,#20819e 66px,#2f9a57 68px,#5eaf1c 70px,#a2c900 72px,#d3e600 74px,#e9f000 76px,#ecf000 78px,#edf000 80px,#edf000 82px,#edf000 84px,#ecf000 86px,#e9f000 88px,#d8ea00 90px,#a7cb00 92px,#66b218 94px,#339c50 96px,#248a84 98px,#269270 100px,#5caf1d 102px,#b6d300 104px,#eff000 106px,#ffa600 108px,#f9650a 110px,#ce4e15 112px,#a23b15 114px,#7e2c10 116px,#68220d 118px,#5b1d0a 120px,#561b09 122px,#571b09 124px,#5e1e0b 126px,#67220c 128px,#6f250e 130px,#73270f 132px,#6f250e 134px,#67220c 136px,#5e1e0b 138px,#571b09 140px,#561b09 142px,#5b1d0a 144px,#68220d 146px,#7e2c10 148px,#a23b15 150px,#ce4e15 152px,#f9650a 154px,#ffa600 156px,#eff000 158px,#e8f000 160px,#f5e200 162px,#ffc400 164px,#ff9c00 166px)"></div><div style="top:66px;background:linear-gradient(90deg,#3ca13f 0px,#40a436 2px,#96c300 4px,#ddee00 6px,#f4e300 8px,#ffc100 10px,#ff9f00 12px,#ff8800 14px,#fd7c04 16px,#fc7606 18px,#fb7306 20px,#fb7406 22px,#fc7506 24px,#fc7605 26px,#fc7605 28px,#fc7406 30px,#fb7306 32px,#fc7406 34px,#fc7805 36px,#fe8102 38px,#ff9200 40px,#ffaf00 42px,#fad100 44px,#edf000 46px,#b9d500 48px,#67b217 50px,#2b985e 52px,#1f7ea8 54px,#1e79ba 56px,#1c76c8 58px,#1c74cf 60px,#1c74cf 62px,#1e7bb4 64px,#27936c 66px,#4ca926 68px,#9cc600 70px,#d6e800 72px,#eaf000 74px,#eef000 76px,#f0ef00 78px,#f2eb00 80px,#f2ea00 82px,#f2eb00 84px,#f1ee00 86px,#eef000 88px,#ebf000 90px,#dbec00 92px,#a2c900 94px,#55ac21 96px,#289665 98px,#289665 100px,#54ac21 102px,#b0d000 104px,#edf000 106px,#ffaf00 108px,#fa6c08 110px,#d65113 112px,#ad4016 114px,#883012 116px,#71260e 118px,#65210c 120px,#601f0b 122px,#611f0b 124px,#68220c 126px,#71260e 128px,#792a10 130px,#7d2b10 132px,#792a10 134px,#71260e 136px,#68220c 138px,#611f0b 140px,#601f0b 142px,#65210c 144px,#71260e 146px,#883012 148px,#ad4016 150px,#d65113 152px,#fa6c08 154px,#ffaf00 156px,#edf000 158px,#e8f000 160px,#f5e200 162px,#ffc400 164px,#ff9c00 166px)"></div><div style="top:68px;background:linear-gradient(90deg,#3aa043 0px,#3aa042 2px,#80bb09 4px,#cae000 6px,#f0f000 8px,#fcce00 10px,#ffb000 12px,#ff9800 14px,#ff8900 16px,#fe8202 18px,#fe8002 20px,#fe8002 22px,#fe8102 24px,#fe8202 26px,#fe8202 28px,#fe8002 30px,#fe8003 32px,#fe8102 34px,#fe8501 36px,#ff8f00 38px,#ffa200 40px,#ffc000 42px,#f6dd00 44px,#e7f000 46px,#a7cb00 48px,#50ab24 50px,#269171 52px,#1f7dad 54px,#1d79be 56px,#1c76c9 58px,#1c75cd 60px,#1c75ca 62px,#228690 64px,#3ba041 66px,#84bc07 68px,#c7dd00 70px,#eaf000 72px,#eff000 74px,#f2e900 76px,#f4e300 78px,#f6df00 80px,#f6de00 82px,#f6df00 84px,#f5e300 86px,#f2e900 88px,#eff000 90px,#ebf000 92px,#cde200 94px,#8dbf02 96px,#3fa339 98px,#2e9a58 100px,#4ca926 102px,#aacd00 104px,#eaf000 106px,#ffb800 108px,#fb7406 110px,#dd5512 112px,#b84517 114px,#933513 116px,#7c2b10 118px,#6f250e 120px,#6a230d 122px,#6b240d 124px,#72270e 126px,#7b2a10 128px,#832e11 130px,#872f11 132px,#832e11 134px,#7b2a10 136px,#72270e 138px,#6b240d 140px,#6a230d 142px,#6f250e 144px,#7c2b10 146px,#933513 148px,#b84517 150px,#dd5512 152px,#fb7406 154px,#ffb800 156px,#eaf000 158px,#e8f000 160px,#f5e200 162px,#ffc400 164px,#ff9c00 166px)"></div><div style="top:70px;background:linear-gradient(90deg,#379e49 0px,#379e48 2px,#65b218 4px,#b6d300 6px,#ebf000 8px,#f7da00 10px,#ffc100 12px,#ffa900 14px,#ff9a00 16px,#ff9100 18px,#ff8e00 20px,#ff8e00 22px,#ff8f00 24px,#ff9000 26px,#ff8f00 28px,#ff8e00 30px,#ff8d00 32px,#ff8f00 34px,#ff9500 36px,#ffa000 38px,#ffb400 40px,#fccd00 42px,#f2ea00 44px,#d9eb00 46px,#93c200 48px,#40a436 50px,#248a85 52px,#1e7bb2 54px,#1d78c2 56px,#1c75cb 58px,#1c75cd 60px,#1e7ab7 62px,#27946a 64px,#58ad1f 66px,#acce00 68px,#e7f000 70px,#eef000 72px,#f3e800 74px,#f6df00 76px,#f8d800 78px,#f9d400 80px,#fad300 82px,#f9d400 84px,#f8d800 86px,#f6de00 88px,#f3e700 90px,#eff000 92px,#e9f000 94px,#b2d100 96px,#62b11a 98px,#349d4e 100px,#46a72c 102px,#a3ca00 104px,#e7f000 106px,#ffc200 108px,#fd7c04 110px,#e65810 112px,#c34917 114px,#9f3a14 116px,#873011 118px,#7a2a10 120px,#75280f 122px,#76280f 124px,#7d2b10 126px,#862f11 128px,#8e3312 130px,#913413 132px,#8e3312 134px,#862f11 136px,#7d2b10 138px,#76280f 140px,#75280f 142px,#7a2a10 144px,#873011 146px,#9f3a14 148px,#c34917 150px,#e65810 152px,#fd7c04 154px,#ffc200 156px,#e7f000 158px,#e8f000 160px,#f5e200 162px,#ffc400 164px,#ff9c00 166px)"></div><div style="top:72px;background:linear-gradient(90deg,#339c50 0px,#339c4f 2px,#49a827 4px,#a0c800 6px,#e2f000 8px,#f3e700 10px,#fbcf00 12px,#ffbb00 14px,#ffab00 16px,#ffa200 18px,#ff9e00 20px,#ff9e00 22px,#ff9e00 24px,#ff9f00 26px,#ff9f00 28px,#ff9e00 30px,#ff9e00 32px,#ffa000 34px,#ffa600 36px,#ffb200 38px,#fec600 40px,#f7da00 42px,#edf000 44px,#c2d900 46px,#77b80e 48px,#349d4d 50px,#21829b 52px,#1e7ab8 54px,#1c76c7 56px,#1c75ce 58px,#1c75cd 60px,#20809f 62px,#369e49 64px,#82bb08 66px,#cce100 68px,#ebf000 70px,#f1ec00 72px,#f6df00 74px,#f9d500 76px,#fcce00 78px,#fdca00 80px,#fdc900 82px,#fdca00 84px,#fcce00 86px,#f9d400 88px,#f6de00 90px,#f2ea00 92px,#ecf000 94px,#d3e600 96px,#8cbf02 98px,#3ba141 100px,#41a434 102px,#9cc600 104px,#e4f000 106px,#fdca00 108px,#fe8401 110px,#ee5c0e 112px,#cb4d16 114px,#ab3f16 116px,#933513 118px,#852f11 120px,#802d11 122px,#822d11 124px,#893012 126px,#913413 128px,#993714 130px,#9c3914 132px,#993714 134px,#913413 136px,#893012 138px,#822d11 140px,#802d11 142px,#852f11 144px,#933513 146px,#ab3f16 148px,#cb4d16 150px,#ee5c0e 152px,#fe8401 154px,#fdca00 156px,#e4f000 158px,#e8f000 160px,#f5e200 162px,#ffc400 164px,#ff9c00 166px)"></div><div style="top:74px;background:linear-gradient(90deg,#2e9959 0px,#2f9a57 2px,#3ba140 4px,#85bc06 6px,#cae000 8px,#eef000 10px,#f7dc00 12px,#fdcb00 14px,#ffbe00 16px,#ffb400 18px,#ffb000 20px,#ffaf00 22px,#ffaf00 24px,#ffb000 26px,#ffaf00 28px,#ffaf00 30px,#ffaf00 32px,#ffb200 34px,#ffb800 36px,#ffc500 38px,#fad300 40px,#f3e800 42px,#e7f000 44px,#a9cc00 46px,#58ad1f 48px,#289664 50px,#1f7dad 52px,#1d78c0 54px,#1c75ce 56px,#1b73d3 58px,#1c75ce 60px,#248b82 62px,#46a72d 64px,#a0c800 66px,#e4f000 68px,#eff000 70px,#f4e300 72px,#f9d600 74px,#fccc00 76px,#ffc500 78px,#ffbf00 80px,#ffbe00 82px,#ffbf00 84px,#ffc400 86px,#fdcb00 88px,#f9d500 90px,#f5e200 92px,#eff000 94px,#e8f000 96px,#a7cc00 98px,#4ca926 100px,#3da23d 102px,#95c200 104px,#e0f000 106px,#fbd100 108px,#ff8d00 110px,#f7600c 112px,#d45014 114px,#b94517 116px,#a03a14 118px,#923413 120px,#8d3212 122px,#8e3312 124px,#953513 126px,#9d3914 128px,#a53c15 130px,#a83e15 132px,#a53c15 134px,#9d3914 136px,#953513 138px,#8e3312 140px,#8d3212 142px,#923413 144px,#a03a14 146px,#b94517 148px,#d45014 150px,#f7600c 152px,#ff8d00 154px,#fbd100 156px,#e0f000 158px,#e8f000 160px,#f5e200 162px,#ffc400 164px,#ff9c00 166px)"></div><div style="top:76px;background:linear-gradient(90deg,#299761 0px,#2a9760 2px,#2d995a 4px,#61b01a 6px,#aecf00 8px,#e8f000 10px,#f2ea00 12px,#f8d800 14px,#fccd00 16px,#fec600 18px,#ffc200 20px,#ffc000 22px,#ffc000 24px,#ffc100 26px,#ffc100 28px,#ffc000 30px,#ffc100 32px,#ffc400 34px,#fdc900 36px,#fad200 38px,#f5e000 40px,#eef000 42px,#cfe300 44px,#8dbf02 46px,#40a437 48px,#248c7f 50px,#1e7ab8 52px,#1c75cb 54px,#1b72d8 56px,#1a71db 58px,#1d79bc 60px,#27946a 62px,#60b01b 64px,#b7d300 66px,#eaf000 68px,#f1ec00 70px,#f7dc00 72px,#fbce00 74px,#ffc400 76px,#ffb900 78px,#ffb300 80px,#ffb100 82px,#ffb200 84px,#ffb800 86px,#ffc300 88px,#fccd00 90px,#f7da00 92px,#f2eb00 94px,#ebf000 96px,#bed700 98px,#6ab315 100px,#3ea23b 102px,#8cbf02 104px,#d7ea00 106px,#f8d900 108px,#ff9800 110px,#f9680a 112px,#dd5412 114px,#c44a17 116px,#ad4016 118px,#9f3a14 120px,#9a3814 122px,#9b3814 124px,#a23b15 126px,#aa3f15 128px,#b14216 130px,#b44317 132px,#b14216 134px,#aa3f15 136px,#a23b15 138px,#9b3814 140px,#9a3814 142px,#9f3a14 144px,#ad4016 146px,#c44a17 148px,#dd5412 150px,#f9680a 152px,#ff9800 154px,#f8d900 156px,#d7ea00 158px,#e8f000 160px,#f5e200 162px,#ffc400 164px,#ff9c00 166px)"></div><div style="top:78px;background:linear-gradient(90deg,#27946a 0px,#279469 2px,#279568 4px,#42a532 6px,#8fc000 8px,#cee300 10px,#edf000 12px,#f3e600 14px,#f7da00 16px,#fad300 18px,#fbcf00 20px,#fcce00 22px,#fcce00 24px,#fcce00 26px,#fcce00 28px,#fcce00 30px,#fbce00 32px,#fbd100 34px,#f9d600 36px,#f6e000 38px,#f1ee00 40px,#e7f000 42px,#aecf00 44px,#65b218 46px,#309b55 48px,#20819c 50px,#1c76c7 52px,#1b72da 54px,#1b6cdb 56px,#1c6bda 58px,#1f7dad 60px,#309a55 62px,#7ab90c 64px,#cae000 66px,#ecf000 68px,#f3e600 70px,#f9d500 72px,#fec800 74px,#ffb900 76px,#ffae00 78px,#ffa700 80px,#ffa500 82px,#ffa700 84px,#ffad00 86px,#ffb800 88px,#fec600 90px,#fad400 92px,#f4e400 94px,#edf000 96px,#d2e500 98px,#84bc07 100px,#3fa33a 102px,#80bb09 104px,#cfe300 106px,#f5e100 108px,#ffa400 110px,#fb7107 112px,#e75910 114px,#cd4e15 116px,#bb4617 118px,#ad4016 120px,#a73d15 122px,#a93e15 124px,#af4116 126px,#b74417 128px,#be4718 130px,#c04818 132px,#be4718 134px,#b74417 136px,#af4116 138px,#a93e15 140px,#a73d15 142px,#ad4016 144px,#bb4617 146px,#cd4e15 148px,#e75910 150px,#fb7107 152px,#ffa400 154px,#f5e100 156px,#cfe300 158px,#e8f000 160px,#f5e200 162px,#ffc400 164px,#ff9c00 166px)"></div><div style="top:80px;background:linear-gradient(90deg,#269172 0px,#269172 2px,#269172 4px,#309b54 6px,#62b11a 8px,#a9cd00 10px,#e3f000 12px,#eef000 14px,#f3e800 16px,#f5e100 18px,#f7dd00 20px,#f7db00 22px,#f7db00 24px,#f7db00 26px,#f7db00 28px,#f7db00 30px,#f7dc00 32px,#f6de00 34px,#f4e400 36px,#f1ee00 38px,#ebf000 40px,#c7dd00 42px,#8abe03 44px,#42a533 46px,#269076 48px,#1e7bb4 50px,#1b72da 52px,#1d66d4 54px,#1f5ecb 56px,#1c6ad8 58px,#2080a0 60px,#399f45 62px,#8fc001 64px,#daec00 66px,#eef000 68px,#f5e100 70px,#fbd000 72px,#ffc100 74px,#ffb000 76px,#ffa400 78px,#ff9d00 80px,#ff9b00 82px,#ff9d00 84px,#ffa300 86px,#ffae00 88px,#ffbf00 90px,#fbce00 92px,#f6df00 94px,#eff000 96px,#e1f000 98px,#97c300 100px,#3fa338 102px,#73b610 104px,#c5dc00 106px,#f2e900 108px,#ffb000 110px,#fd7b04 112px,#f15d0e 114px,#d75213 116px,#c74b17 118px,#bc4617 120px,#b64417 122px,#b74417 124px,#bd4718 126px,#c34917 128px,#c74b16 130px,#c94c16 132px,#c74b16 134px,#c34917 136px,#bd4718 138px,#b74417 140px,#b64417 142px,#bc4617 144px,#c74b17 146px,#d75213 148px,#f15d0e 150px,#fd7b04 152px,#ffb000 154px,#f2e900 156px,#c5dc00 158px,#e8f000 160px,#f5e200 162px,#ffc400 164px,#ff9c00 166px)"></div><div style="top:82px;background:linear-gradient(90deg,#258f78 0px,#258e7a 2px,#258d7c 4px,#258e79 6px,#3ea23b 8px,#7cb90b 10px,#b8d400 12px,#e8f000 14px,#edf000 16px,#f0ef00 18px,#f2eb00 20px,#f3e800 22px,#f3e800 24px,#f3e800 26px,#f3e800 28px,#f3e800 30px,#f2e900 32px,#f1ec00 34px,#eff000 36px,#ebf000 38px,#d4e700 40px,#9dc600 42px,#57ad20 44px,#2e9959 46px,#21829a 48px,#1c75cd 50px,#1e62d0 52px,#2254bf 54px,#244db7 56px,#1a71de 58px,#228593 60px,#40a337 62px,#9bc600 64px,#e4f000 66px,#f0f000 68px,#f7dd00 70px,#fdcb00 72px,#ffb900 74px,#ffa800 76px,#ff9c00 78px,#ff9400 80px,#ff9200 82px,#ff9400 84px,#ff9b00 86px,#ffa700 88px,#ffb700 90px,#fdca00 92px,#f7db00 94px,#f1ee00 96px,#e7f000 98px,#a3c900 100px,#45a62e 102px,#66b217 104px,#bbd600 106px,#eff000 108px,#ffbc00 110px,#fe8501 112px,#f9630b 114px,#e15611 116px,#d14f14 118px,#c74b17 120px,#c34917 122px,#c44a17 124px,#c74b16 126px,#cc4d15 128px,#d04f15 130px,#d14f14 132px,#d04f15 134px,#cc4d15 136px,#c74b16 138px,#c44a17 140px,#c34917 142px,#c74b17 144px,#d14f14 146px,#e15611 148px,#f9630b 150px,#fe8501 152px,#ffbc00 154px,#eff000 156px,#bbd600 158px,#e8f000 160px,#f5e200 162px,#ffc400 164px,#ff9c00 166px)"></div><div style="top:84px;background:linear-gradient(90deg,#258d7e 0px,#248b81 2px,#238987 4px,#228690 6px,#289566 8px,#45a62d 10px,#85bc06 12px,#b8d400 14px,#e3f000 16px,#eaf000 18px,#ecf000 20px,#edf000 22px,#eef000 24px,#eef000 26px,#eef000 28px,#eef000 30px,#edf000 32px,#ecf000 34px,#e9f000 36px,#cfe300 38px,#a0c800 40px,#63b119 42px,#369e49 44px,#248a83 46px,#1e7ab8 48px,#1c6ad9 50px,#254cb5 52px,#293fa6 54px,#2a3ba1 56px,#1b72d6 58px,#238988 60px,#45a72d 62px,#a5ca00 64px,#e8f000 66px,#f1ed00 68px,#f8d900 70px,#fec800 72px,#ffb300 74px,#ffa200 76px,#ff9500 78px,#ff8d00 80px,#ff8a00 82px,#ff8c00 84px,#ff9400 86px,#ffa000 88px,#ffb200 90px,#fec600 92px,#f8d700 94px,#f2eb00 96px,#e9f000 98px,#acce00 100px,#4daa25 102px,#58ad1f 104px,#b0d000 106px,#ecf000 108px,#fec700 110px,#ff9000 112px,#fa6d08 114px,#ec5b0f 116px,#db5412 118px,#d14f14 120px,#cd4e15 122px,#cd4e15 124px,#d14f14 126px,#d55113 128px,#d95313 130px,#da5312 132px,#d95313 134px,#d55113 136px,#d14f14 138px,#cd4e15 140px,#cd4e15 142px,#d14f14 144px,#db5412 146px,#ec5b0f 148px,#fa6d08 150px,#ff9000 152px,#fec700 154px,#ecf000 156px,#b0d000 158px,#e8f000 160px,#f5e200 162px,#ffc400 164px,#ff9c00 166px)"></div><div style="top:86px;background:linear-gradient(90deg,#248b82 0px,#238987 2px,#228690 4px,#20809f 6px,#218496 8px,#2a9761 10px,#44a630 12px,#78b80d 14px,#a5ca00 16px,#c5db00 18px,#dced00 20px,#e5f000 22px,#e7f000 24px,#e8f000 26px,#e8f000 28px,#e6f000 30px,#e2f000 32px,#d1e500 34px,#b6d300 36px,#92c100 38px,#5caf1d 40px,#379e48 42px,#258e7b 44px,#1f7dad 46px,#1b72d7 48px,#2353bd 50px,#2d38a0 52px,#3235a0 54px,#283fa6 56px,#1b74d1 58px,#248b81 60px,#4ba926 62px,#acce00 64px,#e9f000 66px,#f2eb00 68px,#f9d700 70px,#ffc500 72px,#ffaf00 74px,#ff9d00 76px,#ff8f00 78px,#ff8700 80px,#fe8501 82px,#ff8700 84px,#ff8e00 86px,#ff9b00 88px,#ffad00 90px,#ffc300 92px,#f9d500 94px,#f2e900 96px,#eaf000 98px,#b3d200 100px,#56ad20 102px,#49a827 104px,#a5cb00 106px,#e8f000 108px,#fbd100 110px,#ff9d00 112px,#fc7705 114px,#f7600c 116px,#e65810 118px,#dc5412 120px,#d85213 122px,#d85213 124px,#db5312 126px,#df5511 128px,#e25711 130px,#e45710 132px,#e25711 134px,#df5511 136px,#db5312 138px,#d85213 140px,#d85213 142px,#dc5412 144px,#e65810 146px,#f7600c 148px,#fc7705 150px,#ff9d00 152px,#fbd100 154px,#e8f000 156px,#a5cb00 158px,#e8f000 160px,#f5e200 162px,#ffc400 164px,#ff9c00 166px)"></div><div style="top:88px;background:linear-gradient(90deg,#238a86 0px,#23878d 2px,#218299 4px,#1f7ea9 6px,#1d79bc 8px,#21829a 10px,#27926e 12px,#389f45 14px,#51ab23 16px,#76b70f 18px,#91c000 20px,#9dc600 22px,#a2c900 24px,#a3ca00 26px,#a3c900 28px,#a0c800 30px,#98c400 32px,#85bc06 34px,#64b118 36px,#42a533 38px,#2e9959 40px,#248a84 42px,#1f7dad 44px,#1b74d1 46px,#205cc9 48px,#2a3aa0 50px,#3831a0 52px,#4131a0 54px,#2842aa 56px,#1c75cd 58px,#258d7c 60px,#51ab23 62px,#b0d000 64px,#eaf000 66px,#f2e900 68px,#f9d500 70px,#ffc300 72px,#ffac00 74px,#ff9a00 76px,#ff8c00 78px,#fe8401 80px,#fe8102 82px,#fe8301 84px,#ff8b00 86px,#ff9800 88px,#ffaa00 90px,#ffc100 92px,#fad300 94px,#f3e700 96px,#ebf000 98px,#b8d400 100px,#5caf1d 102px,#42a434 104px,#99c500 106px,#e1f000 108px,#f7da00 110px,#ffab00 112px,#fe8202 114px,#fa6a09 116px,#f15d0d 118px,#e75910 120px,#e25711 122px,#e25711 124px,#e55810 126px,#e9590f 128px,#ec5b0f 130px,#ed5b0e 132px,#ec5b0f 134px,#e9590f 136px,#e55810 138px,#e25711 140px,#e25711 142px,#e75910 144px,#f15d0d 146px,#fa6a09 148px,#fe8202 150px,#ffab00 152px,#f7da00 154px,#e1f000 156px,#a3ca00 158px,#e8f000 160px,#f5e200 162px,#ffc400 164px,#ff9c00 166px)"></div><div style="top:90px;background:linear-gradient(90deg,#238889 0px,#228592 2px,#2080a1 4px,#1e7cb2 6px,#1c76c8 8px,#1c76c9 10px,#1f7dad 12px,#228690 14px,#269170 16px,#2f9a56 18px,#3aa043 20px,#40a436 22px,#43a531 24px,#44a630 26px,#44a630 28px,#42a533 30px,#3ea23c 32px,#359d4c 34px,#299762 36px,#248c80 38px,#2080a0 40px,#1d79bb 42px,#1b72d8 44px,#205cc9 46px,#2840a7 48px,#3533a0 50px,#5235a0 52px,#4a33a0 54px,#2744ab 56px,#1c75cc 58px,#258e79 60px,#54ac21 62px,#b2d100 64px,#eaf000 66px,#f3e900 68px,#f9d400 70px,#ffc200 72px,#ffab00 74px,#ff9800 76px,#ff8a00 78px,#fe8202 80px,#fd7f03 82px,#fe8102 84px,#ff8900 86px,#ff9700 88px,#ffa900 90px,#ffbf00 92px,#fad200 94px,#f3e600 96px,#ebf000 98px,#bad500 100px,#5fb01b 102px,#40a337 104px,#8bbe03 106px,#d5e800 108px,#f4e400 110px,#ffb900 112px,#ff8f00 114px,#fc7506 116px,#f9650b 118px,#f25e0d 120px,#ee5c0e 122px,#ed5b0e 124px,#ef5c0e 126px,#f35e0d 128px,#f65f0c 130px,#f7600c 132px,#f65f0c 134px,#f35e0d 136px,#ef5c0e 138px,#ed5b0e 140px,#ee5c0e 142px,#f25e0d 144px,#f9650b 146px,#fc7506 148px,#ff8f00 150px,#ffb900 152px,#f4e400 154px,#d5e800 156px,#a3ca00 158px,#e8f000 160px,#f5e200 162px,#ffc400 164px,#ff9c00 166px)"></div><div style="top:92px;background:linear-gradient(90deg,#23888b 0px,#218495 2px,#207fa5 4px,#1e7ab8 6px,#1b74d1 8px,#1d67d5 10px,#1b6ddd 12px,#1c74cf 14px,#1d79bd 16px,#1f7dac 18px,#20819f 20px,#228593 22px,#22878d 24px,#23878c 26px,#23878c 28px,#22868f 30px,#218398 32px,#207fa5 34px,#1e7bb4 36px,#1c77c6 38px,#1b72d9 40px,#1d64d2 42px,#2351bb 44px,#2a3ba1 46px,#3434a0 48px,#4833a0 50px,#5e37a0 52px,#4a33a0 54px,#2744ac 56px,#1c75cb 58px,#258e79 60px,#55ac21 62px,#b3d100 64px,#eaf000 66px,#f3e800 68px,#fad400 70px,#ffc100 72px,#ffab00 74px,#ff9800 76px,#ff8a00 78px,#fe8102 80px,#fd7e03 82px,#fe8102 84px,#ff8900 86px,#ff9600 88px,#ffa900 90px,#ffbf00 92px,#fad200 94px,#f3e600 96px,#ebf000 98px,#bad500 100px,#5fb01b 102px,#40a337 104px,#79b80d 106px,#c7dd00 108px,#f1ee00 110px,#fec700 112px,#ff9d00 114px,#fe8002 116px,#fb7007 118px,#f9660a 120px,#f8610c 122px,#f8600c 124px,#f8620b 126px,#f9650b 128px,#f9670a 130px,#f96809 132px,#f9670a 134px,#f9650b 136px,#f8620b 138px,#f8600c 140px,#f8610c 142px,#f9660a 144px,#fb7007 146px,#fe8002 148px,#ff9d00 150px,#fec700 152px,#f1ee00 154px,#c7dd00 156px,#a3ca00 158px,#e8f000 160px,#f5e200 162px,#ffc400 164px,#ff9c00 166px)"></div><div style="top:94px;background:linear-gradient(90deg,#23878c 0px,#218397 2px,#1f7ea7 4px,#1d79bc 6px,#1b72d6 8px,#1e62cf 10px,#2450ba 12px,#254bb4 14px,#2256c1 16px,#1e61ce 18px,#1c6ad9 20px,#1a70df 22px,#1a71db 24px,#1b72da 26px,#1b71da 28px,#1a71dc 30px,#1a70de 32px,#1b71da 34px,#1b71da 36px,#1a70de 38px,#1b6bdb 40px,#1e63d1 42px,#205ac6 44px,#244fb8 46px,#2840a7 48px,#2f37a0 50px,#3931a0 52px,#4a33a0 54px,#2743ab 56px,#1c75cc 58px,#258e7a 60px,#53ac22 62px,#b1d100 64px,#eaf000 66px,#f2e900 68px,#f9d500 70px,#ffc200 72px,#ffab00 74px,#ff9900 76px,#ff8b00 78px,#fe8302 80px,#fe8003 82px,#fe8202 84px,#ff8a00 86px,#ff9700 88px,#ffa900 90px,#ffc000 92px,#fad300 94px,#f3e700 96px,#ebf000 98px,#b9d500 100px,#5eaf1c 102px,#40a337 104px,#65b218 106px,#b8d400 108px,#ecf000 110px,#fbd100 112px,#ffac00 114px,#ff8d00 116px,#fd7b04 118px,#fb7107 120px,#fa6c08 122px,#fa6b09 124px,#fa6c08 126px,#fb6f08 128px,#fb7107 130px,#fb7207 132px,#fb7107 134px,#fb6f08 136px,#fa6c08 138px,#fa6b09 140px,#fa6c08 142px,#fb7107 144px,#fd7b04 146px,#ff8d00 148px,#ffac00 150px,#fbd100 152px,#ecf000 154px,#b8d400 156px,#a3ca00 158px,#e8f000 160px,#f5e200 162px,#ffc400 164px,#ff9c00 166px)"></div><div style="top:96px;background:linear-gradient(90deg,#23878c 0px,#218397 2px,#1f7ea7 4px,#1d79bc 6px,#1b72d6 8px,#1e62cf 10px,#2450ba 12px,#2743ab 14px,#293ca2 16px,#2b39a0 18px,#2352bc 20px,#1c69d7 22px,#1b74d1 24px,#1d79be 26px,#1f7dad 28px,#20809f 30px,#228592 32px,#23878d 34px,#23878d 36px,#228592 38px,#20809f 40px,#1f7dad 42px,#1d79be 44px,#1b74d1 46px,#1c69d7 48px,#2352bc 50px,#2b39a0 52px,#3732a0 54px,#2841a8 56px,#1c74cf 58px,#258d7e 60px,#4faa24 62px,#aecf00 64px,#e9f000 66px,#f2ea00 68px,#f9d600 70px,#ffc400 72px,#ffae00 74px,#ff9b00 76px,#ff8d00 78px,#ff8501 80px,#fe8302 82px,#fe8501 84px,#ff8c00 86px,#ff9a00 88px,#ffac00 90px,#ffc200 92px,#fad400 94px,#f3e800 96px,#eaf000 98px,#b6d300 100px,#59ae1e 102px,#40a337 104px,#50ab23 106px,#a8cc00 108px,#e8f000 110px,#f7dc00 112px,#ffbb00 114px,#ff9c00 116px,#ff8700 118px,#fd7c04 120px,#fc7705 122px,#fc7606 124px,#fc7705 126px,#fc7905 128px,#fd7b04 130px,#fd7c04 132px,#fd7b04 134px,#fc7905 136px,#fc7705 138px,#fc7606 140px,#fc7705 142px,#fd7c04 144px,#ff8700 146px,#ff9c00 148px,#ffbb00 150px,#f7dc00 152px,#e8f000 154px,#a8cc00 156px,#a3ca00 158px,#e8f000 160px,#f5e200 162px,#ffc400 164px,#ff9c00 166px)"></div><div style="top:98px;background:linear-gradient(90deg,#23888b 0px,#218496 2px,#207fa5 4px,#1e7ab8 6px,#1b74d2 8px,#1d67d5 10px,#2256c1 12px,#254ab3 14px,#2743ab 16px,#2157c2 18px,#1b71da 20px,#1e79ba 22px,#21829c 24px,#258e79 26px,#2c985c 28px,#389f46 30px,#40a437 32px,#44a630 34px,#44a630 36px,#40a437 38px,#389f46 40px,#2c985c 42px,#258e79 44px,#21829c 46px,#1e79ba 48px,#1b71da 50px,#2157c2 52px,#2b39a0 54px,#293da4 56px,#1b73d3 58px,#248a84 60px,#48a829 62px,#a9cc00 64px,#e9f000 66px,#f1ec00 68px,#f8d800 70px,#fec600 72px,#ffb100 74px,#ff9f00 76px,#ff9200 78px,#ff8a00 80px,#ff8700 82px,#ff8900 84px,#ff9100 86px,#ff9e00 88px,#ffaf00 90px,#ffc500 92px,#f9d600 94px,#f2ea00 96px,#eaf000 98px,#b0d000 100px,#52ab23 102px,#40a338 104px,#42a533 106px,#97c300 108px,#ddee00 110px,#f3e700 112px,#fdc900 114px,#ffab00 116px,#ff9500 118px,#ff8800 120px,#fe8202 122px,#fe8102 124px,#fe8102 126px,#fe8301 128px,#fe8501 130px,#ff8601 132px,#fe8501 134px,#fe8301 136px,#fe8102 138px,#fe8102 140px,#fe8202 142px,#ff8800 144px,#ff9500 146px,#ffab00 148px,#fdc900 150px,#f3e700 152px,#ddee00 154px,#97c300 156px,#a3ca00 158px,#e8f000 160px,#f5e200 162px,#ffc400 164px,#ff9c00 166px)"></div><div style="top:100px;background:linear-gradient(90deg,#23888a 0px,#228592 2px,#2080a1 4px,#1e7bb2 6px,#1c76c9 8px,#1a70df 10px,#1e61ce 12px,#2256c2 14px,#2352bc 16px,#1b71da 18px,#1e7bb3 20px,#238987 22px,#2e995a 24px,#43a531 26px,#68b316 28px,#8bbe03 30px,#9cc600 32px,#a3c900 34px,#a3c900 36px,#9cc600 38px,#8bbe03 40px,#68b316 42px,#43a531 44px,#2e995a 46px,#238987 48px,#1e7bb3 50px,#1b71da 52px,#2352bc 54px,#2b3aa0 56px,#1b72da 58px,#23878d 60px,#43a532 62px,#a0c800 64px,#e6f000 66px,#f0ef00 68px,#f7db00 70px,#fdc900 72px,#ffb600 74px,#ffa500 76px,#ff9800 78px,#ff9000 80px,#ff8e00 82px,#ff9000 84px,#ff9700 86px,#ffa300 88px,#ffb400 90px,#fec800 92px,#f8d900 94px,#f1ed00 96px,#e8f000 98px,#a8cc00 100px,#48a829 102px,#3fa338 104px,#3fa338 106px,#80bb09 108px,#cadf00 110px,#eff000 112px,#fad300 114px,#ffbb00 116px,#ffa500 118px,#ff9700 120px,#ff9000 122px,#ff8d00 124px,#ff8d00 126px,#ff8f00 128px,#ff9100 130px,#ff9200 132px,#ff9100 134px,#ff8f00 136px,#ff8d00 138px,#ff8d00 140px,#ff9000 142px,#ff9700 144px,#ffa500 146px,#ffbb00 148px,#fad300 150px,#eff000 152px,#cadf00 154px,#80bb09 156px,#a3ca00 158px,#e8f000 160px,#f5e300 162px,#ffc400 164px,#ff9c00 166px)"></div><div style="top:102px;background:linear-gradient(90deg,#238987 0px,#22878e 2px,#21829a 4px,#1f7eaa 6px,#1d79bc 8px,#1c74d0 10px,#1a70e0 12px,#1d67d6 14px,#1b6cdb 16px,#1e7ab8 18px,#238a86 20px,#339c50 22px,#55ac21 24px,#90c000 26px,#b6d300 28px,#d5e700 30px,#e4f000 32px,#e8f000 34px,#e8f000 36px,#e4f000 38px,#d5e700 40px,#b6d300 42px,#90c000 44px,#55ac21 46px,#339c50 48px,#238a86 50px,#1e7ab8 52px,#1b6cdb 54px,#2744ac 56px,#1b6edd 58px,#218299 60px,#3ca23e 62px,#96c300 64px,#e1f000 66px,#eff000 68px,#f6df00 70px,#fcce00 72px,#ffbd00 74px,#ffac00 76px,#ffa000 78px,#ff9800 80px,#ff9600 82px,#ff9800 84px,#ff9f00 86px,#ffaa00 88px,#ffbb00 90px,#fccc00 92px,#f7dd00 94px,#f0f000 96px,#e4f000 98px,#9dc700 100px,#41a435 102px,#3fa339 104px,#3fa339 106px,#66b217 108px,#b5d300 110px,#ebf000 112px,#f6df00 114px,#fdc900 116px,#ffb400 118px,#ffa600 120px,#ff9e00 122px,#ff9b00 124px,#ff9b00 126px,#ff9c00 128px,#ff9e00 130px,#ff9f00 132px,#ff9e00 134px,#ff9c00 136px,#ff9b00 138px,#ff9b00 140px,#ff9e00 142px,#ffa600 144px,#ffb400 146px,#fdc900 148px,#f6df00 150px,#ebf000 152px,#b5d300 154px,#66b217 156px,#a3ca00 158px,#e8f000 160px,#f5e300 162px,#ffc400 164px,#ff9c00 166px)"></div><div style="top:104px;background:linear-gradient(90deg,#248a84 0px,#238889 2px,#228591 4px,#2080a0 6px,#1f7cae 8px,#1d79be 10px,#1c75ca 12px,#1b73d3 14px,#1c76c8 16px,#228494 18px,#2f9a57 20px,#55ac21 22px,#98c400 24px,#c9df00 26px,#e8f000 28px,#ebf000 30px,#ecf000 32px,#ecf000 34px,#ecf000 36px,#ecf000 38px,#ebf000 40px,#e8f000 42px,#c9df00 44px,#98c400 46px,#55ac21 48px,#2f9a57 50px,#228494 52px,#1c76c8 54px,#205bc7 56px,#1d65d3 58px,#1f7ea6 60px,#349d4d 62px,#85bc06 64px,#d3e600 66px,#edf000 68px,#f4e300 70px,#fad300 72px,#ffc500 74px,#ffb400 76px,#ffa900 78px,#ffa200 80px,#ffa000 82px,#ffa100 84px,#ffa800 86px,#ffb300 88px,#ffc300 90px,#fbd100 92px,#f5e200 94px,#eef000 96px,#daec00 98px,#8fc000 100px,#3fa33a 102px,#3ea33a 104px,#3ea33a 106px,#4aa927 108px,#9fc800 110px,#e2f000 112px,#f2ea00 114px,#fad400 116px,#ffc400 118px,#ffb600 120px,#ffad00 122px,#ffa900 124px,#ffa900 126px,#ffaa00 128px,#ffab00 130px,#ffac00 132px,#ffab00 134px,#ffaa00 136px,#ffa900 138px,#ffa900 140px,#ffad00 142px,#ffb600 144px,#ffc400 146px,#fad400 148px,#f2ea00 150px,#e2f000 152px,#9fc800 154px,#4aa927 156px,#a3ca00 158px,#e8f000 160px,#f5e300 162px,#ffc400 164px,#ff9c00 166px)"></div><div style="top:106px;background:linear-gradient(90deg,#248c80 0px,#248b83 2px,#238988 4px,#228592 6px,#20809f 8px,#1f7dab 10px,#1e7bb5 12px,#1d79bb 14px,#1f7dab 16px,#27936c 18px,#46a72c 20px,#90c000 22px,#c8de00 24px,#e9f000 26px,#ecf000 28px,#eef000 30px,#f0f000 32px,#f0f000 34px,#f0f000 36px,#f0f000 38px,#eef000 40px,#ecf000 42px,#e9f000 44px,#c8de00 46px,#90c000 48px,#46a72c 50px,#27936c 52px,#1f7dab 54px,#1a70df 56px,#215ac6 58px,#1e7bb4 60px,#2b985f 62px,#6db413 64px,#c1d900 66px,#ebf000 68px,#f2e900 70px,#f8d900 72px,#fdcb00 74px,#ffbe00 76px,#ffb300 78px,#ffad00 80px,#ffab00 82px,#ffac00 84px,#ffb200 86px,#ffbd00 88px,#fdca00 90px,#f8d700 92px,#f3e700 94px,#ecf000 96px,#c8de00 98px,#78b80d 100px,#3ea23c 102px,#3da23c 104px,#3da23c 106px,#3da23c 108px,#85bc06 110px,#cae000 112px,#edf000 114px,#f6df00 116px,#fbcf00 118px,#ffc500 120px,#ffbd00 122px,#ffb800 124px,#ffb700 126px,#ffb800 128px,#ffb900 130px,#ffba00 132px,#ffb900 134px,#ffb800 136px,#ffb700 138px,#ffb800 140px,#ffbd00 142px,#ffc500 144px,#fbcf00 146px,#f6df00 148px,#edf000 150px,#cae000 152px,#85bc06 154px,#44a630 156px,#a3ca00 158px,#e8f000 160px,#f5e300 162px,#ffc400 164px,#ff9c00 166px)"></div><div style="top:108px;background:linear-gradient(90deg,#258d7c 0px,#258d7d 2px,#248c7f 4px,#248a84 6px,#23878d 8px,#218396 10px,#20809f 12px,#207fa4 14px,#23878c 16px,#389f47 18px,#74b70f 20px,#b8d400 22px,#e8f000 24px,#edf000 26px,#f0f000 28px,#f2ea00 30px,#f3e700 32px,#f3e600 34px,#f3e600 36px,#f3e700 38px,#f2ea00 40px,#f0f000 42px,#edf000 44px,#e8f000 46px,#b8d400 48px,#74b70f 50px,#389f47 52px,#23878c 54px,#1c76c7 56px,#2157c2 58px,#1d77c5 60px,#269076 62px,#52ab23 64px,#acce00 66px,#e9f000 68px,#f0f000 70px,#f6e000 72px,#fad200 74px,#fec800 76px,#ffbf00 78px,#ffb900 80px,#ffb700 82px,#ffb900 84px,#ffbe00 86px,#fec700 88px,#fbd100 90px,#f6de00 92px,#f1ee00 94px,#e9f000 96px,#b3d200 98px,#5caf1d 100px,#3ca13f 102px,#3ca13f 104px,#3ca13f 106px,#3ca13f 108px,#63b119 110px,#afd000 112px,#e8f000 114px,#f2eb00 116px,#f7db00 118px,#fbd000 120px,#fdca00 122px,#fec600 124px,#ffc500 126px,#fec600 128px,#fec600 130px,#fec600 132px,#fec600 134px,#fec600 136px,#ffc500 138px,#fec600 140px,#fdca00 142px,#fbd000 144px,#f7db00 146px,#f2eb00 148px,#e8f000 150px,#afd000 152px,#63b119 154px,#44a630 156px,#a3ca00 158px,#e8f000 160px,#f5e300 162px,#ffc400 164px,#ff9c00 166px)"></div><div style="top:110px;background:linear-gradient(90deg,#258f77 0px,#258f77 2px,#268f76 4px,#258f78 6px,#258d7b 8px,#248b81 10px,#238986 12px,#23888a 14px,#27946a 16px,#4daa25 18px,#9dc700 20px,#ddee00 22px,#ecf000 24px,#f1ef00 26px,#f3e600 28px,#f5e100 30px,#f6de00 32px,#f6dd00 34px,#f6dd00 36px,#f6de00 38px,#f5e100 40px,#f3e600 42px,#f1ef00 44px,#ecf000 46px,#ddee00 48px,#9dc700 50px,#4daa25 52px,#27946a 54px,#1f7cb0 56px,#1c69d8 58px,#1b72d8 60px,#228690 62px,#3ea23a 64px,#94c200 66px,#daec00 68px,#edf000 70px,#f3e700 72px,#f7da00 74px,#fbd000 76px,#fdc900 78px,#fec600 80px,#ffc400 82px,#ffc500 84px,#fdc900 86px,#fbd000 88px,#f8d900 90px,#f3e600 92px,#eef000 94px,#e1f000 96px,#9bc500 98px,#43a532 100px,#39a044 102px,#39a044 104px,#399f44 106px,#39a044 108px,#44a62f 110px,#93c100 112px,#d2e600 114px,#edf000 116px,#f3e700 118px,#f7dc00 120px,#f9d500 122px,#fbd100 124px,#fbd000 126px,#fbcf00 128px,#fbd000 130px,#fbd000 132px,#fbd000 134px,#fbcf00 136px,#fbd000 138px,#fbd100 140px,#f9d500 142px,#f7dc00 144px,#f3e700 146px,#edf000 148px,#d2e600 150px,#93c100 152px,#44a62f 154px,#44a630 156px,#a3ca00 158px,#e8f000 160px,#f5e300 162px,#ffc400 164px,#ff9c00 166px)"></div><div style="top:112px;background:linear-gradient(90deg,#269172 0px,#269270 2px,#27926e 4px,#27936c 6px,#27936c 8px,#27926e 10px,#269171 12px,#269173 14px,#359d4c 16px,#74b70f 18px,#bdd600 20px,#eaf000 22px,#f0f000 24px,#f3e600 26px,#f6de00 28px,#f8d800 30px,#f9d500 32px,#f9d400 34px,#f9d400 36px,#f9d500 38px,#f8d800 40px,#f6de00 42px,#f3e600 44px,#f0f000 46px,#eaf000 48px,#bdd600 50px,#74b70f 52px,#359d4c 54px,#218397 56px,#1b73d4 58px,#1c68d7 60px,#1f7dab 62px,#2e9959 64px,#6eb513 66px,#bcd600 68px,#eaf000 70px,#f0f000 72px,#f4e400 74px,#f8da00 76px,#fad300 78px,#fbcf00 80px,#fcce00 82px,#fbcf00 84px,#fad300 86px,#f8d900 88px,#f5e200 90px,#f0ef00 92px,#eaf000 94px,#c3da00 96px,#77b80e 98px,#359e4b 100px,#359d4b 102px,#359d4c 104px,#349d4d 106px,#359d4d 108px,#359d4c 110px,#6ab315 112px,#b0d000 114px,#e8f000 116px,#eff000 118px,#f3e700 120px,#f6e000 122px,#f7dc00 124px,#f8da00 126px,#f8da00 128px,#f8da00 130px,#f8da00 132px,#f8da00 134px,#f8da00 136px,#f8da00 138px,#f7dc00 140px,#f6e000 142px,#f3e700 144px,#eff000 146px,#e8f000 148px,#b0d000 150px,#6ab315 152px,#389f46 154px,#44a630 156px,#a3ca00 158px,#e8f000 160px,#f5e300 162px,#ffc400 164px,#ff9c00 166px)"></div><div style="top:114px;background:linear-gradient(90deg,#27936c 0px,#279469 2px,#289665 4px,#299762 6px,#2a9760 8px,#2a975f 10px,#2a9760 12px,#2a9761 14px,#44a630 16px,#97c300 18px,#daec00 20px,#edf000 22px,#f2e900 24px,#f6dd00 26px,#f9d500 28px,#fbd000 30px,#fccd00 32px,#fccc00 34px,#fccc00 36px,#fccd00 38px,#fbd000 40px,#f9d500 42px,#f6dd00 44px,#f2e900 46px,#edf000 48px,#daec00 50px,#97c300 52px,#44a630 54px,#258d7c 56px,#1d78c1 58px,#1c6bda 60px,#1d77c5 62px,#258d7c 64px,#45a62d 66px,#9ac500 68px,#dbed00 70px,#ecf000 72px,#f1ed00 74px,#f4e400 76px,#f6de00 78px,#f8da00 80px,#f8d900 82px,#f8da00 84px,#f6dd00 86px,#f4e300 88px,#f1ec00 90px,#edf000 92px,#e1f000 94px,#a1c800 96px,#4ba926 98px,#2f9a56 100px,#2f9a57 102px,#2e9958 104px,#2d995a 106px,#2e9959 108px,#2e9a58 110px,#43a531 112px,#8bbe03 114px,#c6dc00 116px,#eaf000 118px,#eff000 120px,#f2eb00 122px,#f3e700 124px,#f4e500 126px,#f4e400 128px,#f4e400 130px,#f4e400 132px,#f4e400 134px,#f4e400 136px,#f4e500 138px,#f3e700 140px,#f2eb00 142px,#eff000 144px,#eaf000 146px,#c6dc00 148px,#8bbe03 150px,#43a531 152px,#339c4f 154px,#44a630 156px,#a3c900 158px,#e8f000 160px,#f5e300 162px,#ffc400 164px,#ff9c00 166px)"></div><div style="top:116px;background:linear-gradient(90deg,#289664 0px,#2a9761 2px,#2c985d 4px,#2e9959 6px,#309a56 8px,#309b54 10px,#319b53 12px,#319b53 14px,#5eaf1c 16px,#b0d000 18px,#e9f000 20px,#f0f000 22px,#f5e100 24px,#f9d500 26px,#fccd00 28px,#fec800 30px,#ffc500 32px,#ffc400 34px,#ffc400 36px,#ffc500 38px,#fec800 40px,#fccd00 42px,#f9d500 44px,#f5e100 46px,#f0f000 48px,#e9f000 50px,#b0d000 52px,#5eaf1c 54px,#299762 56px,#1f7cae 58px,#1c68d7 60px,#1a71dd 62px,#207fa4 64px,#309a56 66px,#69b316 68px,#b2d100 70px,#e7f000 72px,#edf000 74px,#f0ef00 76px,#f2e900 78px,#f4e500 80px,#f4e400 82px,#f4e500 84px,#f3e800 86px,#f1ee00 88px,#edf000 90px,#e8f000 92px,#b8d400 94px,#72b611 96px,#339c4f 98px,#289567 100px,#279469 102px,#27946b 104px,#27936d 106px,#27936c 108px,#27946a 110px,#2f9a57 112px,#56ad20 114px,#9bc500 116px,#d0e400 118px,#eaf000 120px,#edf000 122px,#eff000 124px,#f0f000 126px,#f0ef00 128px,#f1ee00 130px,#f1ee00 132px,#f1ee00 134px,#f0ef00 136px,#f0f000 138px,#eff000 140px,#edf000 142px,#eaf000 144px,#d0e400 146px,#9bc500 148px,#56ad20 150px,#2f9a57 152px,#2d995b 154px,#44a630 156px,#a3c900 158px,#e8f000 160px,#f5e300 162px,#ffc400 164px,#ff9c00 166px)"></div><div style="top:118px;background:linear-gradient(90deg,#309a56 0px,#2e9959 2px,#309a55 4px,#329c51 6px,#349d4e 8px,#359d4b 10px,#369e4a 12px,#369e4a 14px,#7dba0b 16px,#c7dd00 18px,#ecf000 20px,#f3e800 22px,#f8d900 24px,#fcce00 26px,#ffc500 28px,#ffbe00 30px,#ffba00 32px,#ffb800 34px,#ffb800 36px,#ffba00 38px,#ffbe00 40px,#ffc500 42px,#fcce00 44px,#f8d900 46px,#f3e800 48px,#ecf000 50px,#c7dd00 52px,#7dba0b 54px,#359e4b 56px,#21829c 58px,#1a71dc 60px,#1c6ad9 62px,#1d77c5 64px,#248a85 66px,#3da23d 68px,#80bb09 70px,#bcd600 72px,#e8f000 74px,#ecf000 76px,#eef000 78px,#eff000 80px,#f0f000 82px,#f0f000 84px,#eef000 86px,#ecf000 88px,#e8f000 90px,#c1d900 92px,#88bd05 94px,#40a436 96px,#258d7d 98px,#248c7f 100px,#248b82 102px,#248a85 104px,#238889 106px,#238988 108px,#248a84 110px,#248b81 112px,#369e4a 114px,#60b01b 116px,#9dc600 118px,#cbe000 120px,#e8f000 122px,#eaf000 124px,#ecf000 126px,#ecf000 128px,#ecf000 130px,#ecf000 132px,#ecf000 134px,#ecf000 136px,#ecf000 138px,#eaf000 140px,#e8f000 142px,#cbe000 144px,#9dc600 146px,#60b01b 148px,#369e4a 150px,#26926f 152px,#27936b 154px,#44a630 156px,#a3c900 158px,#e8f000 160px,#f5e300 162px,#ffc400 164px,#ff9c00 166px)"></div><div style="top:120px;background:linear-gradient(90deg,#3ca13f 0px,#329c51 2px,#349d4e 4px,#369e4a 6px,#379f47 8px,#399f45 10px,#39a043 12px,#41a435 14px,#96c300 16px,#ddee00 18px,#eff000 20px,#f5e100 22px,#fad200 24px,#fec600 26px,#ffbb00 28px,#ffb300 30px,#ffaf00 32px,#ffad00 34px,#ffad00 36px,#ffaf00 38px,#ffb300 40px,#ffbb00 42px,#fec600 44px,#fad200 46px,#f5e100 48px,#eff000 50px,#ddee00 52px,#96c300 54px,#41a435 56px,#238a86 58px,#1c75cc 60px,#1f5ecb 62px,#1b6cdb 64px,#1e7bb3 66px,#269173 68px,#42a533 70px,#82bb08 72px,#b5d200 74px,#deee00 76px,#e9f000 78px,#eaf000 80px,#ebf000 82px,#eaf000 84px,#e9f000 86px,#e1f000 88px,#b9d500 90px,#89be04 92px,#45a72d 94px,#27936c 96px,#21829a 98px,#20819e 100px,#2080a1 102px,#207fa5 104px,#1f7eaa 106px,#1f7eaa 108px,#207fa5 110px,#2080a1 112px,#258d7b 114px,#369e4b 116px,#57ad20 118px,#8dbf01 120px,#b1d100 122px,#cee200 124px,#e1f000 126px,#e6f000 128px,#e8f000 130px,#e8f000 132px,#e8f000 134px,#e6f000 136px,#e1f000 138px,#cee200 140px,#b1d100 142px,#8dbf01 144px,#57ad20 146px,#369e4b 148px,#258d7b 150px,#248a85 152px,#248c80 154px,#44a630 156px,#a3c900 158px,#e8f000 160px,#f5e300 162px,#ffc400 164px,#ff9c00 166px)"></div><div style="top:122px;background:linear-gradient(90deg,#47a829 0px,#369e4a 2px,#379f47 4px,#399f44 6px,#3aa042 8px,#3ba140 10px,#3ca13f 12px,#51ab23 14px,#a9cd00 16px,#e8f000 18px,#f1ed00 20px,#f8da00 22px,#fdcb00 24px,#ffbd00 26px,#ffb100 28px,#ffa900 30px,#ffa400 32px,#ffa300 34px,#ffa300 36px,#ffa400 38px,#ffa900 40px,#ffb100 42px,#ffbd00 44px,#fdcb00 46px,#f8da00 48px,#f1ed00 50px,#e8f000 52px,#a9cd00 54px,#51ab23 56px,#269172 58px,#1d79be 60px,#2256c1 62px,#205dca 64px,#1a71dd 66px,#1f7dab 68px,#269171 70px,#3ea23b 72px,#6cb414 74px,#9ac500 76px,#b4d200 78px,#c5db00 80px,#cadf00 82px,#c6dc00 84px,#b6d300 86px,#9dc600 88px,#71b611 90px,#41a435 92px,#27936b 94px,#1f7ea7 96px,#1e7bb5 98px,#1e7ab9 100px,#1d78be 102px,#1d77c4 104px,#1c75cc 106px,#1c75cc 108px,#1d77c4 110px,#1d79be 112px,#1f7dac 114px,#248a85 116px,#2c985c 118px,#40a437 120px,#5fb01b 122px,#80bb09 124px,#96c300 126px,#9fc700 128px,#a3c900 130px,#a3ca00 132px,#a3c900 134px,#9fc700 136px,#96c300 138px,#80bb09 140px,#5fb01b 142px,#40a437 144px,#2c985c 146px,#248a85 148px,#2080a0 150px,#20819c 152px,#23878c 154px,#44a630 156px,#a3c900 158px,#e8f000 160px,#f5e300 162px,#ffc400 164px,#ff9c00 166px)"></div><div style="top:124px;background:linear-gradient(90deg,#5eaf1c 0px,#39a044 2px,#3aa042 4px,#3ba140 6px,#3ca13e 8px,#3da23d 10px,#3da23c 12px,#68b316 14px,#bbd600 16px,#ebf000 18px,#f3e600 20px,#fad300 22px,#ffc400 24px,#ffb300 26px,#ffa700 28px,#ff9f00 30px,#ff9a00 32px,#ff9800 34px,#ff9800 36px,#ff9a00 38px,#ff9f00 40px,#ffa700 42px,#ffb300 44px,#ffc400 46px,#fad300 48px,#f3e600 50px,#ebf000 52px,#bbd600 54px,#68b316 56px,#2b985f 58px,#1e7cb0 60px,#1e61ce 62px,#244fb9 64px,#1f60cd 66px,#1a71dc 68px,#1e7cb1 70px,#248b83 72px,#2f9a56 74px,#42a532 76px,#5bae1d 78px,#6fb512 80px,#75b70f 82px,#70b512 84px,#5eaf1c 86px,#44a62f 88px,#319b52 90px,#258c7e 92px,#1f7dad 94px,#1c75cd 96px,#1b74d1 98px,#1b72d7 100px,#1a70df 102px,#1c69d8 104px,#1f60cd 106px,#1f5ecb 108px,#1c69d7 110px,#1a70df 112px,#1b72d7 114px,#1d79bb 116px,#2080a2 118px,#248b83 120px,#289566 122px,#339c4f 124px,#3ca13e 126px,#42a434 128px,#44a630 130px,#44a630 132px,#44a630 134px,#42a434 136px,#3ca13e 138px,#339c4f 140px,#289566 142px,#248b83 144px,#2080a2 146px,#1e7bb4 148px,#1e7cb2 150px,#1f7dae 152px,#23878d 154px,#44a630 156px,#a3c900 158px,#e8f000 160px,#f5e300 162px,#ffc500 164px,#ff9c00 166px)"></div><div style="top:126px;background:linear-gradient(90deg,#74b70f 0px,#3ba140 2px,#3ca13e 4px,#3da23d 6px,#3ea23b 8px,#3ea23a 10px,#3fa33a 12px,#7eba0a 14px,#cce100 16px,#edf000 18px,#f6e000 20px,#fccd00 22px,#ffbb00 24px,#ffaa00 26px,#ff9d00 28px,#ff9500 30px,#ff9100 32px,#ff8f00 34px,#ff8f00 36px,#ff9100 38px,#ff9500 40px,#ff9d00 42px,#ffaa00 44px,#ffbb00 46px,#fccd00 48px,#f6e000 50px,#edf000 52px,#cce100 54px,#7eba0a 56px,#349d4e 58px,#207fa3 60px,#1b6bda 62px,#2743aa 64px,#2353be 66px,#1e63d1 68px,#1a70e0 70px,#1d77c5 72px,#1f7ea7 74px,#238988 76px,#269270 78px,#2a9761 80px,#2c985d 82px,#2a9760 84px,#27926e 86px,#248a85 88px,#207fa4 90px,#1d77c2 92px,#1b6ede 94px,#1c69d8 96px,#1e63d0 98px,#205bc7 100px,#2352bc 102px,#2646af 104px,#2b3aa0 106px,#2c39a0 108px,#2744ac 110px,#2351bb 112px,#205bc7 114px,#1d65d3 116px,#1b72da 118px,#1c76c8 120px,#1e7ab7 122px,#1f7ea7 124px,#21829a 126px,#228691 128px,#23878d 130px,#23878c 132px,#23878d 134px,#228691 136px,#21829a 138px,#1f7ea7 140px,#1e7bb6 142px,#1c76c6 144px,#1d77c5 146px,#1d77c3 148px,#1d78c1 150px,#1d79bc 152px,#23878d 154px,#44a630 156px,#a3c900 158px,#e8f000 160px,#f5e300 162px,#ffc500 164px,#ff9c00 166px)"></div><div style="top:128px;background:linear-gradient(90deg,#88bd04 0px,#3da23d 2px,#3ea23c 4px,#3ea23b 6px,#3fa33a 8px,#3fa339 10px,#3fa339 12px,#92c100 14px,#dbec00 16px,#f0f000 18px,#f8da00 20px,#fec700 22px,#ffb200 24px,#ffa100 26px,#ff9400 28px,#ff8c00 30px,#ff8800 32px,#ff8601 34px,#ff8601 36px,#ff8800 38px,#ff8c00 40px,#ff9400 42px,#ffa100 44px,#ffb200 46px,#fec700 48px,#f8da00 50px,#f0f000 52px,#dbec00 54px,#92c100 56px,#3ca13e 58px,#228494 60px,#1b71da 62px,#293ca2 64px,#2648b1 66px,#2158c4 68px,#1d65d3 70px,#1b6ddc 72px,#1a70df 74px,#1b73d2 76px,#1d77c2 78px,#1e7ab9 80px,#1e7bb5 82px,#1e7ab8 84px,#1d78c1 86px,#1b74d1 88px,#1c6bda 90px,#1f5eca 92px,#2158c3 94px,#2350ba 96px,#2647af 98px,#2a3ba1 100px,#2f37a0 102px,#3632a0 104px,#4532a0 106px,#4b34a0 108px,#3831a0 110px,#3036a0 112px,#2a3aa0 114px,#2746ae 116px,#2450ba 118px,#2158c4 120px,#1f5fcb 122px,#1e64d2 124px,#1b6cdc 126px,#1a71de 128px,#1b71db 130px,#1b71da 132px,#1b71da 134px,#1b72da 136px,#1b72d8 138px,#1b72d7 140px,#1b73d5 142px,#1b73d4 144px,#1b73d2 146px,#1c74d0 148px,#1c75cd 150px,#1c76c8 152px,#23878d 154px,#44a630 156px,#a3c900 158px,#e8f000 160px,#f5e300 162px,#ffc500 164px,#ff9d00 166px)"></div><div style="top:130px;background:linear-gradient(90deg,#98c400 0px,#40a337 2px,#3ea33a 4px,#3fa339 6px,#3fa339 8px,#3fa338 10px,#44a62f 12px,#9fc800 14px,#e5f000 16px,#f2eb00 18px,#f9d400 20px,#ffc000 22px,#ffa900 24px,#ff9800 26px,#ff8c00 28px,#fe8401 30px,#fe8002 32px,#fd7f03 34px,#fd7f03 36px,#fe8002 38px,#fe8401 40px,#ff8c00 42px,#ff9800 44px,#ffa900 46px,#ffc000 48px,#f9d400 50px,#f2eb00 52px,#e5f000 54px,#9fc800 56px,#44a62f 58px,#248a85 60px,#1c74d0 62px,#2744ac 64px,#283fa7 66px,#244fb9 68px,#205bc7 70px,#1e62d0 72px,#1d66d4 74px,#1d67d5 76px,#1d66d4 78px,#1d64d2 80px,#1e62cf 82px,#1f5ecb 84px,#205ac6 86px,#2255c0 88px,#244fb9 90px,#2647b0 92px,#293ea5 94px,#2d38a0 96px,#3334a0 98px,#3a30a0 100px,#5035a0 102px,#693aa0 104px,#8a3599 106px,#923497 108px,#72399e 110px,#5636a0 112px,#3e31a0 114px,#3434a0 116px,#2e38a0 118px,#293da4 120px,#2647b0 122px,#2450ba 124px,#2256c1 126px,#205bc8 128px,#1f60cd 130px,#1e63d1 132px,#1d66d5 134px,#1c69d8 136px,#1b6bda 138px,#1b6ddd 140px,#1a6fdf 142px,#1a70df 144px,#1a71dd 146px,#1b71da 148px,#1b72d7 150px,#1b74d1 152px,#23878d 154px,#44a630 156px,#a3c900 158px,#e8f000 160px,#f4e300 162px,#ffc500 164px,#ff9d00 166px)"></div><div style="top:132px;background:linear-gradient(90deg,#a4ca00 0px,#47a72a 2px,#3fa339 4px,#3fa338 6px,#3fa338 8px,#40a338 10px,#50ab23 12px,#acce00 14px,#e9f000 16px,#f3e600 18px,#fbcf00 20px,#ffb800 22px,#ffa200 24px,#ff9000 26px,#fe8401 28px,#fd7d03 30px,#fc7a04 32px,#fc7805 34px,#fc7805 36px,#fc7a04 38px,#fd7d03 40px,#fe8401 42px,#ff9000 44px,#ffa200 46px,#ffb800 48px,#fbcf00 50px,#f3e600 52px,#e9f000 54px,#acce00 56px,#50ab23 58px,#258f77 60px,#1c77c6 62px,#254cb6 64px,#2c39a0 66px,#2744ac 68px,#244fb9 70px,#2256c1 72px,#2159c4 74px,#2159c5 76px,#2157c3 78px,#2254bf 80px,#2351bb 82px,#254cb5 84px,#2646ae 86px,#293fa6 88px,#2c39a0 90px,#3036a0 92px,#3632a0 94px,#4232a0 96px,#5937a0 98px,#76389d 100px,#983395 102px,#b92a8a 104px,#d11a7a 106px,#c02585 108px,#b12f8f 110px,#9f3294 112px,#7f379b 114px,#6038a0 116px,#4733a0 118px,#3732a0 120px,#3136a0 122px,#2c39a0 124px,#283fa6 126px,#2647af 128px,#244db7 130px,#2352bd 132px,#2157c2 134px,#205ac6 136px,#1f5eca 138px,#1f60cd 140px,#1e63d0 142px,#1d65d3 144px,#1c68d6 146px,#1b6bda 148px,#1a6fdf 150px,#1b72da 152px,#23878d 154px,#44a630 156px,#a2c900 158px,#e8f000 160px,#f4e300 162px,#ffc500 164px,#ff9d00 166px)"></div><div style="top:134px;background:linear-gradient(90deg,#afd000 0px,#55ac21 2px,#3fa338 4px,#40a338 6px,#40a338 8px,#40a337 10px,#60b01b 12px,#b7d400 14px,#ebf000 16px,#f5e100 18px,#fdca00 20px,#ffb100 22px,#ff9a00 24px,#ff8900 26px,#fd7e03 28px,#fc7705 30px,#fb7306 32px,#fb7207 34px,#fb7207 36px,#fb7306 38px,#fc7705 40px,#fd7e03 42px,#ff8900 44px,#ff9a00 46px,#ffb100 48px,#fdca00 50px,#f5e100 52px,#ebf000 54px,#b7d400 56px,#60b01b 58px,#27946a 60px,#1d79bc 62px,#2254bf 64px,#3334a0 66px,#2e38a0 68px,#2a3ba1 70px,#2840a7 72px,#2842a9 74px,#2841a8 76px,#293ea5 78px,#2a3aa0 80px,#2c39a0 82px,#2f37a0 84px,#3235a0 86px,#3632a0 88px,#3f31a0 90px,#5135a0 92px,#6739a0 94px,#86369a 96px,#aa3191 98px,#c62282 100px,#e0106f 102px,#e8105e 104px,#e61062 106px,#e2106b 108px,#db1373 110px,#d11a7a 112px,#cb1e7e 114px,#b42e8e 116px,#903597 118px,#6e399f 120px,#5536a0 122px,#4131a0 124px,#3732a0 126px,#3235a0 128px,#2e37a0 130px,#2b39a0 132px,#293da3 134px,#2842a9 136px,#2646ae 138px,#254ab3 140px,#244eb7 142px,#2351bc 144px,#2255c0 146px,#205ac6 148px,#1e61ce 150px,#1b71db 152px,#23878d 154px,#44a530 156px,#a2c900 158px,#e8f000 160px,#f4e300 162px,#ffc500 164px,#ff9d00 166px)"></div><div style="top:136px;background:linear-gradient(90deg,#b9d500 0px,#62b11a 2px,#40a338 4px,#40a338 6px,#40a337 8px,#40a337 10px,#6eb513 12px,#c2da00 14px,#edf000 16px,#f7dd00 18px,#fec600 20px,#ffaa00 22px,#ff9300 24px,#fe8302 26px,#fc7805 28px,#fb7107 30px,#fa6d08 32px,#fa6c08 34px,#fa6c08 36px,#fa6d08 38px,#fb7107 40px,#fc7805 42px,#fe8302 44px,#ff9300 46px,#ffaa00 48px,#fec600 50px,#f7dd00 52px,#edf000 54px,#c2da00 56px,#6eb513 58px,#2b985e 60px,#1e7bb3 62px,#205bc7 64px,#3533a0 66px,#3f31a0 68px,#3931a0 70px,#3732a0 72px,#3732a0 74px,#3831a0 76px,#3a30a0 78px,#3f31a0 80px,#4833a0 82px,#5235a0 84px,#5f38a0 86px,#70399f 88px,#873699 90px,#a43293 92px,#b92a8a 94px,#c91f7f 96px,#dd1272 98px,#e61062 100px,#ee104f 102px,#f0104a 104px,#f0104a 106px,#ed1051 108px,#ea1058 110px,#e8105c 112px,#e7105f 114px,#e61062 116px,#df1171 118px,#c62282 120px,#ac3191 122px,#8d3598 124px,#74399e 126px,#6038a0 128px,#5235a0 130px,#4633a0 132px,#3d31a0 134px,#3831a0 136px,#3633a0 138px,#3334a0 140px,#3135a0 142px,#2f37a0 144px,#2c39a0 146px,#293da4 148px,#2649b1 150px,#1b71db 152px,#23878d 154px,#43a531 156px,#a2c900 158px,#e8f000 160px,#f4e300 162px,#ffc500 164px,#ff9d00 166px)"></div><div style="top:138px;background:linear-gradient(90deg,#c3da00 0px,#6eb513 2px,#40a337 4px,#40a337 6px,#40a337 8px,#40a337 10px,#7bb90b 12px,#cce100 14px,#eef000 16px,#f8d800 18px,#ffc000 20px,#ffa300 22px,#ff8c00 24px,#fd7d03 26px,#fb7206 28px,#fa6c09 30px,#f9680a 32px,#f9660a 34px,#f9660a 36px,#f9680a 38px,#fa6c09 40px,#fb7206 42px,#fd7d03 44px,#ff8c00 46px,#ffa300 48px,#ffc000 50px,#f8d800 52px,#eef000 54px,#cce100 56px,#7bb90b 58px,#319b54 60px,#1f7dab 62px,#1e61cf 64px,#3235a0 66px,#693aa0 68px,#6339a0 70px,#5836a0 72px,#4d34a0 74px,#4432a0 76px,#3c30a0 78px,#3931a0 80px,#3831a0 82px,#3931a0 84px,#3e31a0 86px,#4833a0 88px,#5536a0 90px,#6539a0 92px,#7c379c 94px,#9b3395 96px,#bb2888 98px,#d91575 100px,#e71060 102px,#f0104a 104px,#f0104a 106px,#f0104a 108px,#f0104a 110px,#eb1055 112px,#e31069 114px,#ce1c7c 116px,#b32e8e 118px,#903597 120px,#71399e 122px,#5a37a0 124px,#4933a0 126px,#3d31a0 128px,#3931a0 130px,#3831a0 132px,#3931a0 134px,#3d31a0 136px,#4833a0 138px,#5636a0 140px,#4f34a0 142px,#4633a0 144px,#3b30a0 146px,#3533a0 148px,#2b39a0 150px,#1a71db 152px,#23878d 154px,#43a531 156px,#a2c900 158px,#e7f000 160px,#f4e300 162px,#ffc500 164px,#ff9d00 166px)"></div><div style="top:140px;background:linear-gradient(90deg,#cbe000 0px,#7ab90c 2px,#40a337 4px,#40a337 6px,#40a337 8px,#40a337 10px,#88bd05 12px,#d5e800 14px,#f0f000 16px,#f9d500 18px,#ffba00 20px,#ff9d00 22px,#ff8700 24px,#fc7805 26px,#fa6d08 28px,#f9660a 30px,#f8630b 32px,#f8610c 34px,#f8610c 36px,#f8630b 38px,#f9660a 40px,#fa6d08 42px,#fc7805 44px,#ff8700 46px,#ff9d00 48px,#ffba00 50px,#f9d500 52px,#f0f000 54px,#d5e800 56px,#88bd05 58px,#369e4a 60px,#207fa4 62px,#1d67d6 64px,#3036a0 66px,#4532a0 68px,#3533a0 70px,#2f37a0 72px,#2a3ba2 74px,#2646ae 76px,#244fb9 78px,#2254bf 80px,#2256c1 82px,#2254be 84px,#244db7 86px,#2743aa 88px,#2c39a0 90px,#3334a0 92px,#4031a0 94px,#5f38a0 96px,#893699 98px,#b72b8b 100px,#db1373 102px,#e9105b 104px,#f0104a 106px,#f0104a 108px,#ea1058 110px,#e1106e 112px,#c22484 114px,#9a3395 116px,#6d3a9f 118px,#4a33a0 120px,#3533a0 122px,#2d38a0 124px,#2743ab 126px,#244eb8 128px,#2254bf 130px,#2255c0 132px,#2254be 134px,#244eb7 136px,#2744ab 138px,#2c39a0 140px,#3334a0 142px,#3d31a0 144px,#3c30a0 146px,#3533a0 148px,#2b39a0 150px,#1a71db 152px,#22878d 154px,#43a531 156px,#a2c900 158px,#e7f000 160px,#f4e300 162px,#ffc500 164px,#ff9d00 166px)"></div><div style="top:142px;background:linear-gradient(90deg,#d3e600 0px,#84bc07 2px,#40a337 4px,#40a337 6px,#40a337 8px,#40a337 10px,#92c100 12px,#deee00 14px,#f1ec00 16px,#fbd100 18px,#ffb400 20px,#ff9800 22px,#fe8202 24px,#fb7306 26px,#f96809 28px,#f8610c 30px,#f55f0d 32px,#f45e0d 34px,#f45e0d 36px,#f55f0d 38px,#f8610c 40px,#f96809 42px,#fb7306 44px,#fe8202 46px,#ff9800 48px,#ffb400 50px,#fbd100 52px,#f1ec00 54px,#deee00 56px,#92c100 58px,#3ba041 60px,#21819c 62px,#1b6ddc 64px,#2e38a0 66px,#2c39a0 68px,#244db7 70px,#1e62cf 72px,#1a71dd 74px,#1c75cc 76px,#1d78c0 78px,#1e7ab8 80px,#1e7ab6 82px,#1e7ab9 84px,#1d78c1 86px,#1c74cf 88px,#1b6ede 90px,#215ac5 92px,#2840a8 94px,#3434a0 96px,#5135a0 98px,#82379b 100px,#b72b8b 102px,#de1171 104px,#ea1058 106px,#e8105c 108px,#dc1373 110px,#b72b8b 112px,#85369a 114px,#5536a0 116px,#3533a0 118px,#293fa5 120px,#215ac5 122px,#1a70e0 124px,#1c75cc 126px,#1d78bf 128px,#1e7ab8 130px,#1e7ab6 132px,#1e7ab9 134px,#1d78c0 136px,#1c75ce 138px,#1a6fdf 140px,#205cc8 142px,#2745ad 144px,#2d38a0 146px,#293da3 148px,#2648b0 150px,#1a71db 152px,#22878d 154px,#43a531 156px,#a2c900 158px,#e7f000 160px,#f4e300 162px,#ffc500 164px,#ff9d00 166px)"></div><div style="top:144px;background:linear-gradient(90deg,#daeb00 0px,#8dbf02 2px,#40a337 4px,#40a337 6px,#40a337 8px,#40a337 10px,#99c500 12px,#e3f000 14px,#f2e900 16px,#fccd00 18px,#ffaf00 20px,#ff9200 22px,#fd7e03 24px,#fb6f08 26px,#f9640b 28px,#f55f0d 30px,#f05d0e 32px,#ef5c0e 34px,#ef5c0e 36px,#f05d0e 38px,#f55f0d 40px,#f9640b 42px,#fb6f08 44px,#fd7e03 46px,#ff9200 48px,#ffaf00 50px,#fccd00 52px,#f2e900 54px,#e3f000 56px,#99c500 58px,#3fa339 60px,#228594 62px,#1a71de 64px,#293ea5 66px,#1f5ecb 68px,#1b73d4 70px,#1e7ab6 72px,#21829c 74px,#248c80 76px,#27936b 78px,#2a9760 80px,#2c985d 82px,#2a9760 84px,#27936b 86px,#248b81 88px,#20809f 90px,#1d79bc 92px,#1a71dd 94px,#2351bc 96px,#3037a0 98px,#4b34a0 100px,#81379b 102px,#b92a8a 104px,#e0106f 106px,#d41878 108px,#ae3091 110px,#75389e 112px,#4332a0 114px,#2d38a0 116px,#2157c2 118px,#1b72d7 120px,#1e7bb5 122px,#228495 124px,#258e79 126px,#289567 128px,#2b985f 130px,#2c985d 132px,#2a9760 134px,#27936c 136px,#248c80 138px,#20819c 140px,#1e7ab8 142px,#1b72d7 144px,#215ac6 146px,#2159c4 148px,#1f5fcc 150px,#1a71db 152px,#22878e 154px,#43a531 156px,#a2c900 158px,#e7f000 160px,#f4e300 162px,#ffc500 164px,#ff9d00 166px)"></div><div style="top:146px;background:linear-gradient(90deg,#e0f000 0px,#94c200 2px,#40a337 4px,#40a337 6px,#40a337 8px,#43a531 10px,#a0c800 12px,#e6f000 14px,#f3e600 16px,#fdca00 18px,#ffab00 20px,#ff8e00 22px,#fc7904 24px,#fa6b09 26px,#f8600c 28px,#f05d0e 30px,#ec5b0f 32px,#ea5a0f 34px,#ea5a0f 36px,#ec5b0f 38px,#f05d0e 40px,#f8600c 42px,#fa6b09 44px,#fc7904 46px,#ff8e00 48px,#ffab00 50px,#fdca00 52px,#f3e600 54px,#e6f000 56px,#a0c800 58px,#43a531 60px,#23878c 62px,#1b72d8 64px,#1f61ce 66px,#1c76c8 68px,#2080a1 70px,#269173 72px,#359d4b 74px,#46a72b 76px,#61b01a 78px,#71b611 80px,#75b70f 82px,#72b611 84px,#63b119 86px,#47a829 88px,#369e4a 90px,#269073 92px,#207fa5 94px,#1c74cf 96px,#2158c3 98px,#2f37a0 100px,#4e34a0 102px,#873699 104px,#be2686 106px,#a83192 108px,#6c3aa0 110px,#3a30a0 112px,#293fa6 114px,#1d67d5 116px,#1d79be 118px,#22868f 120px,#2b985e 122px,#3fa339 124px,#55ac21 126px,#6ab315 128px,#73b610 130px,#75b70f 132px,#70b512 134px,#62b11a 136px,#48a828 138px,#379f47 140px,#27926e 142px,#20819d 144px,#1d77c5 146px,#1c68d7 148px,#1b6cdc 150px,#1a71db 152px,#22878e 154px,#43a531 156px,#a2c900 158px,#e7f000 160px,#f4e300 162px,#ffc500 164px,#ff9d00 166px)"></div><div style="top:148px;background:linear-gradient(90deg,#e3f000 0px,#99c500 2px,#40a337 4px,#40a337 6px,#40a337 8px,#47a72a 10px,#a6cb00 12px,#e8f000 14px,#f4e300 16px,#fec700 18px,#ffa600 20px,#ff8900 22px,#fc7605 24px,#f9670a 26px,#f45e0d 28px,#ec5b0f 30px,#e75910 32px,#e65810 34px,#e65810 36px,#e75910 38px,#ec5b0f 40px,#f45e0d 42px,#f9670a 44px,#fc7605 46px,#ff8900 48px,#ffa600 50px,#fec700 52px,#f4e300 54px,#e8f000 56px,#a6cb00 58px,#47a72a 60px,#248a85 62px,#1b73d3 64px,#1c75cc 66px,#21819c 68px,#299663 70px,#44a630 72px,#77b80e 74px,#a0c800 76px,#b9d400 78px,#c6dd00 80px,#cadf00 82px,#c7dd00 84px,#bbd500 86px,#a3c900 88px,#7cb90b 90px,#46a72c 92px,#2a9760 94px,#20819d 96px,#1c74cf 98px,#2254be 100px,#3235a0 102px,#5a37a0 104px,#903597 106px,#70399f 108px,#3a30a0 110px,#2841a8 112px,#1b6ddc 114px,#1e7bb2 116px,#258f77 118px,#3ca13e 120px,#68b316 122px,#96c300 124px,#b1d000 126px,#c1d900 128px,#c9de00 130px,#cadf00 132px,#c6dc00 134px,#bad500 136px,#a5ca00 138px,#82bb08 140px,#4daa25 142px,#309a55 144px,#22878e 146px,#1d78c1 148px,#1a71dc 150px,#1b73d6 152px,#22878e 154px,#43a531 156px,#a2c900 158px,#e7f000 160px,#f4e300 162px,#ffc500 164px,#ff9d00 166px)"></div><div style="top:150px;background:linear-gradient(90deg,#e5f000 0px,#9ec700 2px,#41a435 4px,#40a337 6px,#40a337 8px,#4ca926 10px,#acce00 12px,#e9f000 14px,#f5e000 16px,#ffc500 18px,#ffa200 20px,#ff8601 22px,#fb7206 24px,#f9640b 26px,#f05d0e 28px,#e8590f 30px,#e35710 32px,#e25711 34px,#e25711 36px,#e35710 38px,#e8590f 40px,#f05d0e 42px,#f9640b 44px,#fb7206 46px,#ff8601 48px,#ffa200 50px,#ffc500 52px,#f5e000 54px,#e9f000 56px,#acce00 58px,#4ca926 60px,#248c7f 62px,#1c74ce 64px,#1f7ea8 66px,#279568 68px,#46a72b 70px,#8abe03 72px,#bbd500 74px,#e2f000 76px,#e9f000 78px,#ebf000 80px,#ebf000 82px,#ebf000 84px,#eaf000 86px,#e4f000 88px,#bfd700 90px,#90c000 92px,#4aa927 94px,#289663 96px,#1f7ea6 98px,#1a71db 100px,#2745ad 102px,#3931a0 104px,#4d34a0 106px,#4833a0 108px,#2b39a0 110px,#1d67d5 112px,#1e7bb5 114px,#269074 116px,#41a434 118px,#81bb09 120px,#b3d200 122px,#dbec00 124px,#e9f000 126px,#eaf000 128px,#ebf000 130px,#ebf000 132px,#ebf000 134px,#eaf000 136px,#e6f000 138px,#c8de00 140px,#9dc600 142px,#5eaf1c 144px,#329c51 146px,#228592 148px,#1c75ca 150px,#1c74cf 152px,#22878e 154px,#43a531 156px,#a1c900 158px,#e7f000 160px,#f4e300 162px,#ffc500 164px,#ff9e00 166px)"></div><div style="top:152px;background:linear-gradient(90deg,#e7f000 0px,#a2c900 2px,#44a630 4px,#40a337 6px,#40a337 8px,#53ac22 10px,#b1d000 12px,#eaf000 14px,#f6de00 16px,#ffc200 18px,#ff9f00 20px,#fe8302 22px,#fb6f07 24px,#f8600c 26px,#ec5b0e 28px,#e45810 30px,#e05611 32px,#de5512 34px,#de5512 36px,#e05611 38px,#e45810 40px,#ec5b0e 42px,#f8600c 44px,#fb6f07 46px,#fe8302 48px,#ff9f00 50px,#ffc200 52px,#f6de00 54px,#eaf000 56px,#b1d000 58px,#53ac22 60px,#258e79 62px,#1d78be 64px,#248c7f 66px,#3ea33a 68px,#82bb08 70px,#bed700 72px,#e8f000 74px,#ecf000 76px,#eff000 78px,#f0f000 80px,#f0ef00 82px,#f0f000 84px,#eff000 86px,#edf000 88px,#e9f000 90px,#c3da00 92px,#8abe04 94px,#42a434 96px,#258e79 98px,#1e79ba 100px,#1f5fcc 102px,#293da3 104px,#2f37a0 106px,#3036a0 108px,#2256c2 110px,#1d77c4 112px,#248a84 114px,#3da23d 116px,#7fba09 118px,#bbd600 120px,#e8f000 122px,#ecf000 124px,#eef000 126px,#f0f000 128px,#f1ee00 130px,#f1ee00 132px,#f0ef00 134px,#eff000 136px,#edf000 138px,#eaf000 140px,#d6e800 142px,#a0c800 144px,#58ad1f 146px,#2b985e 148px,#1f7fa6 150px,#1c76c7 152px,#22878e 154px,#43a532 156px,#a1c900 158px,#e7f000 160px,#f4e300 162px,#ffc500 164px,#ff9e00 166px)"></div><div style="top:154px;background:linear-gradient(90deg,#e8f000 0px,#a6cb00 2px,#46a72c 4px,#40a337 6px,#40a337 8px,#59ae1e 10px,#b5d300 12px,#ebf000 14px,#f7dc00 16px,#ffbf00 18px,#ff9c00 20px,#fe8002 22px,#fa6d08 24px,#f55f0d 26px,#e95a0f 28px,#e15611 30px,#dd5412 32px,#db5412 34px,#db5412 36px,#dd5412 38px,#e15611 40px,#e95a0f 42px,#f55f0d 44px,#fa6d08 46px,#fe8002 48px,#ff9c00 50px,#ffbf00 52px,#f7dc00 54px,#ebf000 56px,#b5d300 58px,#59ae1e 60px,#269074 62px,#207fa3 64px,#2f9a58 66px,#64b118 68px,#aecf00 70px,#e6f000 72px,#edf000 74px,#f1ec00 76px,#f4e600 78px,#f5e300 80px,#f5e200 82px,#f5e200 84px,#f4e500 86px,#f2eb00 88px,#eef000 90px,#e8f000 92px,#b4d200 94px,#6db413 96px,#329c51 98px,#20819d 100px,#1b72d9 102px,#205dc9 104px,#2353be 106px,#2352bc 108px,#1a70df 110px,#207fa3 112px,#309a56 114px,#68b316 116px,#b1d000 118px,#e7f000 120px,#edf000 122px,#f1ed00 124px,#f3e600 126px,#f5e200 128px,#f5e000 130px,#f5e000 132px,#f5e100 134px,#f4e400 136px,#f2e900 138px,#eff000 140px,#ebf000 142px,#cfe300 144px,#92c100 146px,#43a531 148px,#258d7b 150px,#1d79bc 152px,#22868e 154px,#43a532 156px,#a1c900 158px,#e7f000 160px,#f4e400 162px,#ffc500 164px,#ff9e00 166px)"></div><div style="top:156px;background:linear-gradient(90deg,#e9f000 0px,#a9cc00 2px,#48a828 4px,#40a337 6px,#40a337 8px,#5eaf1c 10px,#b9d500 12px,#ecf000 14px,#f7da00 16px,#ffbc00 18px,#ff9900 20px,#fd7e03 22px,#fa6a09 24px,#f35e0d 26px,#e65810 28px,#de5511 30px,#da5312 32px,#d85213 34px,#d85213 36px,#da5312 38px,#de5511 40px,#e65810 42px,#f35e0d 44px,#fa6a09 46px,#fd7e03 48px,#ff9900 50px,#ffbc00 52px,#f7da00 54px,#ecf000 56px,#b9d500 58px,#5eaf1c 60px,#26926f 62px,#248b83 64px,#41a435 66px,#92c100 68px,#d3e600 70px,#ecf000 72px,#f2eb00 74px,#f5e000 76px,#f8d900 78px,#f9d600 80px,#f9d500 82px,#f9d600 84px,#f8d900 86px,#f6df00 88px,#f2e900 90px,#edf000 92px,#d9eb00 94px,#98c400 96px,#45a62e 98px,#258e7b 100px,#1d78c1 102px,#1b73d6 104px,#1a71de 106px,#1a71de 108px,#1d77c4 110px,#258d7d 112px,#45a62e 114px,#98c400 116px,#daeb00 118px,#ecf000 120px,#f2eb00 122px,#f5e100 124px,#f8d900 126px,#f9d500 128px,#fad300 130px,#fad300 132px,#fad400 134px,#f9d700 136px,#f7dd00 138px,#f4e500 140px,#eff000 142px,#e9f000 144px,#b9d400 146px,#6eb513 148px,#309b55 150px,#207fa4 152px,#22868f 154px,#43a532 156px,#a1c800 158px,#e7f000 160px,#f4e400 162px,#fec500 164px,#ff9e00 166px)"></div><div style="top:158px;background:linear-gradient(90deg,#eaf000 0px,#abce00 2px,#4ba926 4px,#40a337 6px,#40a337 8px,#63b119 10px,#bcd600 12px,#edf000 14px,#f8d900 16px,#ffb900 18px,#ff9600 20px,#fd7c04 22px,#f9680a 24px,#f05d0e 26px,#e45710 28px,#dc5412 30px,#d75213 32px,#d65113 34px,#d65113 36px,#d75213 38px,#dc5412 40px,#e45710 42px,#f05d0e 44px,#f9680a 46px,#fd7c04 48px,#ff9600 50px,#ffb900 52px,#f8d900 54px,#edf000 56px,#bcd600 58px,#63b119 60px,#27936b 62px,#289665 64px,#5daf1c 66px,#afcf00 68px,#e8f000 70px,#f0ef00 72px,#f6df00 74px,#f9d400 76px,#fccd00 78px,#fdca00 80px,#fdc900 82px,#fdca00 84px,#fccd00 86px,#fad300 88px,#f6de00 90px,#f1ed00 92px,#e9f000 94px,#b6d300 96px,#66b217 98px,#2c985d 100px,#1f7dac 102px,#1e7ab8 104px,#1d79bd 106px,#1d79bd 108px,#1f7dab 110px,#2d995b 112px,#6ab315 114px,#b9d500 116px,#eaf000 118px,#f1ee00 120px,#f5e000 122px,#f9d500 124px,#fccd00 126px,#fdc900 128px,#fec700 130px,#fec700 132px,#fec800 134px,#fdcb00 136px,#fbd100 138px,#f8da00 140px,#f3e700 142px,#edf000 144px,#dbed00 146px,#97c400 148px,#42a533 150px,#248a84 152px,#22868f 154px,#43a532 156px,#a1c800 158px,#e7f000 160px,#f4e400 162px,#fec600 164px,#ff9e00 166px)"></div><div style="top:160px;background:linear-gradient(90deg,#eaf000 0px,#aecf00 2px,#4eaa24 4px,#40a337 6px,#40a337 8px,#67b217 10px,#bfd800 12px,#edf000 14px,#f8d700 16px,#ffb700 18px,#ff9400 20px,#fd7a04 22px,#f9660a 24px,#ee5c0e 26px,#e25711 28px,#da5312 30px,#d55113 32px,#d35014 34px,#d35014 36px,#d55113 38px,#da5312 40px,#e25711 42px,#ee5c0e 44px,#f9660a 46px,#fd7a04 48px,#ff9400 50px,#ffb700 52px,#f8d700 54px,#edf000 56px,#bfd800 58px,#67b217 60px,#279568 62px,#359d4b 64px,#7fba0a 66px,#c9df00 68px,#ecf000 70px,#f4e500 72px,#f9d500 74px,#fdc900 76px,#ffc100 78px,#ffbc00 80px,#ffbb00 82px,#ffbc00 84px,#ffc000 86px,#fdc800 88px,#fad400 90px,#f4e300 92px,#edf000 94px,#d0e400 96px,#88bd04 98px,#3aa043 100px,#218397 102px,#20819c 104px,#2080a0 106px,#2080a0 108px,#228593 110px,#3ca13e 112px,#90c000 114px,#d6e900 116px,#edf000 118px,#f4e400 120px,#f9d500 122px,#fdca00 124px,#ffc100 126px,#ffba00 128px,#ffb700 130px,#ffb700 132px,#ffb800 134px,#ffbd00 136px,#fec600 138px,#fbcf00 140px,#f7dc00 142px,#f1ed00 144px,#e9f000 146px,#b3d100 148px,#5fb01b 150px,#289567 152px,#248c80 154px,#42a532 156px,#a1c800 158px,#e7f000 160px,#f4e400 162px,#fec600 164px,#ff9e00 166px)"></div><div style="top:162px;background:linear-gradient(90deg,#eaf000 0px,#b0d000 2px,#51ab23 4px,#40a337 6px,#40a337 8px,#6ab315 10px,#c2d900 12px,#eef000 14px,#f9d600 16px,#ffb500 18px,#ff9200 20px,#fc7805 22px,#f9650b 24px,#ec5b0e 26px,#e05611 28px,#d85213 30px,#d35014 32px,#d25014 34px,#d25014 36px,#d35014 38px,#d85213 40px,#e05611 42px,#ec5b0e 44px,#f9650b 46px,#fc7805 48px,#ff9200 50px,#ffb500 52px,#f9d600 54px,#eef000 56px,#c2d900 58px,#6ab315 60px,#289665 62px,#41a434 64px,#99c400 66px,#e0f000 68px,#f0f000 70px,#f7dc00 72px,#fdcb00 74px,#ffbd00 76px,#ffb100 78px,#ffac00 80px,#ffaa00 82px,#ffab00 84px,#ffb000 86px,#ffbb00 88px,#fdca00 90px,#f8da00 92px,#f1ee00 94px,#e4f000 96px,#a0c800 98px,#46a72c 100px,#258d7c 102px,#248c7e 104px,#248b81 106px,#248c80 108px,#258e7a 110px,#4ca926 112px,#a7cc00 114px,#e8f000 116px,#f1ee00 118px,#f7db00 120px,#fccc00 122px,#ffbe00 124px,#ffb100 126px,#ffaa00 128px,#ffa700 130px,#ffa600 132px,#ffa800 134px,#ffad00 136px,#ffb700 138px,#fec500 140px,#fad300 142px,#f4e400 144px,#edf000 146px,#cbe000 148px,#7eba0a 150px,#339c4f 152px,#27936b 154px,#42a533 156px,#a0c800 158px,#e7f000 160px,#f4e400 162px,#fec600 164px,#ff9e00 166px)"></div><div style="top:164px;background:linear-gradient(90deg,#ebf000 0px,#b1d100 2px,#53ac22 4px,#40a337 6px,#40a337 8px,#6db413 10px,#c4db00 12px,#eef000 14px,#f9d500 16px,#ffb400 18px,#ff9100 20px,#fc7705 22px,#f9630b 24px,#eb5a0f 26px,#de5511 28px,#d65213 30px,#d25014 32px,#d04f15 34px,#d04f15 36px,#d25014 38px,#d65213 40px,#de5511 42px,#eb5a0f 44px,#f9630b 46px,#fc7705 48px,#ff9100 50px,#ffb400 52px,#f9d500 54px,#eef000 56px,#c4db00 58px,#6db413 60px,#299663 62px,#51ab23 64px,#acce00 66px,#e9f000 68px,#f3e800 70px,#fad300 72px,#ffc100 74px,#ffae00 76px,#ffa200 78px,#ff9c00 80px,#ff9b00 82px,#ff9c00 84px,#ffa100 86px,#ffad00 88px,#ffbf00 90px,#fbd100 92px,#f3e600 94px,#eaf000 96px,#b3d100 98px,#5caf1d 100px,#289665 102px,#289566 104px,#279568 106px,#289567 108px,#289664 110px,#66b217 112px,#bbd600 114px,#ebf000 116px,#f3e600 118px,#fad300 120px,#ffc300 122px,#ffb000 124px,#ffa300 126px,#ff9b00 128px,#ff9800 130px,#ff9700 132px,#ff9900 134px,#ff9e00 136px,#ffa900 138px,#ffb900 140px,#fdcb00 142px,#f7dc00 144px,#eff000 146px,#e0f000 148px,#97c300 150px,#3fa33a 152px,#2d995b 154px,#42a533 156px,#a0c800 158px,#e6f000 160px,#f4e400 162px,#fec600 164px,#ff9f00 166px)"></div></div><div class="hm" style="left:258px;top:137px;width:166px;height:166px"><div style="top:0px;background:linear-gradient(90deg,#f6df00 0px,#ffa700 2px,#fc7805 4px,#f35e0d 6px,#de5512 8px,#d04f15 10px,#c84c16 12px,#c44a17 14px,#c24918 16px,#c14818 18px,#c04818 20px,#c04818 22px,#c04818 24px,#c14818 26px,#c14818 28px,#c34917 30px,#c64a17 32px,#cc4d15 34px,#d65213 36px,#e75910 38px,#f96909 40px,#ff8c00 42px,#fec600 44px,#ebf000 46px,#aecf00 48px,#ecf000 50px,#ffc300 52px,#ff8700 54px,#f9650b 56px,#e35710 58px,#d35014 60px,#ca4c16 62px,#c44a17 64px,#c24918 66px,#c14818 68px,#c04818 70px,#c04818 72px,#c04818 74px,#c14818 76px,#c14918 78px,#c34917 80px,#c74b17 82px,#ce4e15 84px,#da5312 86px,#ef5c0e 88px,#fc7406 90px,#ffa200 92px,#f6dd00 94px,#d4e700 96px,#84bc07 98px,#40a337 100px,#40a337 102px,#44a630 104px,#a3ca00 106px,#e8f000 108px,#ffb200 110px,#f9630b 112px,#bf4718 114px,#7b2a10 116px,#4c1708 118px,#2c0d04 120px,#170702 122px,#100502 124px,#0d0401 126px,#0b0301 128px,#0a0301 130px,#0a0301 132px,#0a0301 134px,#0a0301 136px,#0a0301 138px,#0a0301 140px,#0a0301 142px,#0a0301 144px,#0a0301 146px,#0a0301 148px,#0b0301 150px,#0d0401 152px,#100502 154px,#170702 156px,#2c0d04 158px,#4c1708 160px,#7b2a10 162px,#bf4718 164px,#f9630b 166px)"></div><div style="top:2px;background:linear-gradient(90deg,#f5e200 0px,#ffab00 2px,#fd7b04 4px,#f65f0c 6px,#e05611 8px,#d25014 10px,#ca4c16 12px,#c54a17 14px,#c24917 16px,#c14918 18px,#c14818 20px,#c14818 22px,#c14818 24px,#c14818 26px,#c24918 28px,#c34917 30px,#c74b17 32px,#cd4e15 34px,#d85213 36px,#ea5a0f 38px,#fa6b09 40px,#ff9000 42px,#fdc900 44px,#eaf000 46px,#a9cd00 48px,#eaf000 50px,#fec700 52px,#ff8b00 54px,#f9670a 56px,#e65810 58px,#d55113 60px,#cb4d16 62px,#c64a17 64px,#c34917 66px,#c14918 68px,#c14818 70px,#c14818 72px,#c14818 74px,#c14818 76px,#c24918 78px,#c44a17 80px,#c84b16 82px,#cf4f15 84px,#dd5412 86px,#f25d0d 88px,#fc7705 90px,#ffa700 92px,#f5e100 94px,#cfe300 96px,#7dba0a 98px,#40a337 100px,#40a337 102px,#44a630 104px,#a3ca00 106px,#e8f000 108px,#ffb200 110px,#f9630b 112px,#bf4718 114px,#7b2a10 116px,#4c1708 118px,#2c0d04 120px,#170702 122px,#100502 124px,#0d0401 126px,#0b0301 128px,#0a0301 130px,#0a0301 132px,#0a0301 134px,#0a0301 136px,#0a0301 138px,#0a0301 140px,#0a0301 142px,#0a0301 144px,#0a0301 146px,#0a0301 148px,#0b0301 150px,#0d0401 152px,#100502 154px,#170702 156px,#2c0d04 158px,#4c1708 160px,#7b2a10 162px,#bf4718 164px,#f9630b 166px)"></div><div style="top:4px;background:linear-gradient(90deg,#f3e700 0px,#ffb100 2px,#fe8003 4px,#f8620c 6px,#e35710 8px,#d45114 10px,#cb4d16 12px,#c64b17 14px,#c34917 16px,#c24918 18px,#c14918 20px,#c14918 22px,#c14918 24px,#c24918 26px,#c34917 28px,#c54a17 30px,#c84c16 32px,#cf4f15 34px,#db5412 36px,#ed5b0e 38px,#fb6f07 40px,#ff9500 42px,#fcce00 44px,#e7f000 46px,#a3ca00 48px,#e8f000 50px,#fdcb00 52px,#ff9100 54px,#fa6b09 56px,#e95a0f 58px,#d85213 60px,#cd4e15 62px,#c74b17 64px,#c44a17 66px,#c24918 68px,#c14918 70px,#c14918 72px,#c14918 74px,#c24918 76px,#c34917 78px,#c54a17 80px,#ca4c16 82px,#d25014 84px,#df5511 86px,#f55f0d 88px,#fd7b04 90px,#ffad00 92px,#f4e500 94px,#c9df00 96px,#76b70f 98px,#40a337 100px,#40a337 102px,#44a630 104px,#a3ca00 106px,#e8f000 108px,#ffb200 110px,#f9630b 112px,#bf4818 114px,#7b2a10 116px,#4c1708 118px,#2c0d04 120px,#170702 122px,#100502 124px,#0d0401 126px,#0b0301 128px,#0a0301 130px,#0a0301 132px,#0a0301 134px,#0a0301 136px,#0a0301 138px,#0a0301 140px,#0a0301 142px,#0a0301 144px,#0a0301 146px,#0a0301 148px,#0b0301 150px,#0d0401 152px,#100502 154px,#170702 156px,#2c0d04 158px,#4c1708 160px,#7b2a10 162px,#bf4818 164px,#f9630b 166px)"></div><div style="top:6px;background:linear-gradient(90deg,#f1ed00 0px,#ffb900 2px,#fe8501 4px,#f9660a 6px,#e75910 8px,#d75213 10px,#ce4e15 12px,#c84b16 14px,#c54a17 16px,#c34917 18px,#c34917 20px,#c24918 22px,#c24917 24px,#c34917 26px,#c44a17 28px,#c64b17 30px,#ca4c16 32px,#d25014 34px,#de5512 36px,#f15d0d 38px,#fb7406 40px,#ff9c00 42px,#fad300 44px,#e4f000 46px,#9cc600 48px,#e4f000 50px,#fbd000 52px,#ff9700 54px,#fb7007 56px,#ed5b0e 58px,#db5412 60px,#d04f15 62px,#c94c16 64px,#c54a17 66px,#c34917 68px,#c34917 70px,#c24918 72px,#c24917 74px,#c34917 76px,#c44a17 78px,#c74b17 80px,#cc4d15 82px,#d55114 84px,#e35710 86px,#f8620b 88px,#fe8002 90px,#ffb400 92px,#f2eb00 94px,#c2da00 96px,#6cb414 98px,#40a338 100px,#40a337 102px,#44a630 104px,#a3ca00 106px,#e8f000 108px,#ffb200 110px,#f9630b 112px,#bf4818 114px,#7b2a10 116px,#4d1708 118px,#2c0d04 120px,#170702 122px,#100502 124px,#0d0401 126px,#0b0301 128px,#0b0301 130px,#0a0301 132px,#0a0301 134px,#0a0301 136px,#0a0301 138px,#0a0301 140px,#0a0301 142px,#0a0301 144px,#0a0301 146px,#0b0301 148px,#0b0301 150px,#0d0401 152px,#100502 154px,#170702 156px,#2c0d04 158px,#4d1708 160px,#7b2a10 162px,#bf4818 164px,#f9630b 166px)"></div><div style="top:8px;background:linear-gradient(90deg,#eef000 0px,#ffc200 2px,#ff8c00 4px,#fa6b09 6px,#ec5b0f 8px,#db5412 10px,#d14f14 12px,#ca4c16 14px,#c74b17 16px,#c54a17 18px,#c44a17 20px,#c44a17 22px,#c44a17 24px,#c44a17 26px,#c64a17 28px,#c84c16 30px,#cd4e15 32px,#d55113 34px,#e35711 36px,#f75f0c 38px,#fc7a04 40px,#ffa500 42px,#f8da00 44px,#deee00 46px,#94c200 48px,#dff000 50px,#f9d700 52px,#ff9f00 54px,#fc7506 56px,#f25e0d 58px,#df5511 60px,#d35014 62px,#cb4d16 64px,#c74b16 66px,#c54a17 68px,#c44a17 70px,#c44a17 72px,#c44a17 74px,#c44a17 76px,#c64b17 78px,#c94c16 80px,#cf4e15 82px,#d85213 84px,#e8590f 86px,#f9670a 88px,#ff8700 90px,#ffbd00 92px,#eff000 94px,#b9d500 96px,#60b01b 98px,#3fa338 100px,#40a338 102px,#44a630 104px,#a3c900 106px,#e8f000 108px,#ffb300 110px,#f9630b 112px,#c04818 114px,#7c2b10 116px,#4d1708 118px,#2d0d04 120px,#170702 122px,#100502 124px,#0d0401 126px,#0b0301 128px,#0b0301 130px,#0a0301 132px,#0a0301 134px,#0a0301 136px,#0a0301 138px,#0a0301 140px,#0a0301 142px,#0a0301 144px,#0a0301 146px,#0b0301 148px,#0b0301 150px,#0d0401 152px,#100502 154px,#170702 156px,#2d0d04 158px,#4d1708 160px,#7c2b10 162px,#c04818 164px,#f9630b 166px)"></div><div style="top:10px;background:linear-gradient(90deg,#ebf000 0px,#fdca00 2px,#ff9500 4px,#fb7107 6px,#f25d0d 8px,#e05611 10px,#d55114 12px,#ce4e15 14px,#ca4c16 16px,#c74b16 18px,#c64b17 20px,#c64b17 22px,#c64b17 24px,#c74b17 26px,#c84c16 28px,#cb4d16 30px,#d14f14 32px,#da5312 34px,#e8590f 36px,#f9650b 38px,#fe8102 40px,#ffaf00 42px,#f5e200 44px,#d3e600 46px,#87bd05 48px,#d5e800 50px,#f6df00 52px,#ffa900 54px,#fd7c04 56px,#f8610c 58px,#e45710 60px,#d75213 62px,#cf4e15 64px,#ca4c16 66px,#c74b16 68px,#c64b17 70px,#c64b17 72px,#c64b17 74px,#c74b17 76px,#c94c16 78px,#cc4d15 80px,#d25014 82px,#dd5412 84px,#ed5b0e 86px,#fa6d08 88px,#ff8f00 90px,#fec700 92px,#ecf000 94px,#afd000 96px,#52ab22 98px,#3fa339 100px,#3fa338 102px,#44a630 104px,#a3c900 106px,#e8f000 108px,#ffb300 110px,#f9640b 112px,#c04818 114px,#7c2b10 116px,#4e1708 118px,#2d0e05 120px,#180702 122px,#100502 124px,#0d0401 126px,#0b0301 128px,#0b0301 130px,#0a0301 132px,#0a0301 134px,#0a0301 136px,#0a0301 138px,#0a0301 140px,#0a0301 142px,#0a0301 144px,#0a0301 146px,#0b0301 148px,#0b0301 150px,#0d0401 152px,#100502 154px,#180702 156px,#2d0e05 158px,#4e1708 160px,#7c2b10 162px,#c04818 164px,#f9640b 166px)"></div><div style="top:12px;background:linear-gradient(90deg,#e6f000 0px,#fad300 2px,#ffa000 4px,#fc7904 6px,#f8610c 8px,#e65810 10px,#da5312 12px,#d25014 14px,#cd4e15 16px,#cb4d16 18px,#c94c16 20px,#c94c16 22px,#c94c16 24px,#ca4c16 26px,#cc4d15 28px,#cf4f15 30px,#d55113 32px,#df5511 34px,#ef5c0e 36px,#fa6c08 38px,#ff8900 40px,#ffbb00 42px,#f2eb00 44px,#c6dd00 46px,#77b80e 48px,#c9df00 50px,#f3e800 52px,#ffb500 54px,#fe8401 56px,#f9670a 58px,#eb5a0f 60px,#dc5412 62px,#d35014 64px,#ce4e15 66px,#cb4d16 68px,#c94c16 70px,#c94c16 72px,#c94c16 74px,#ca4c16 76px,#cc4d15 78px,#d04f15 80px,#d75213 82px,#e35711 84px,#f45e0d 86px,#fc7506 88px,#ff9a00 90px,#fbcf00 92px,#e7f000 94px,#a3ca00 96px,#45a72d 98px,#3fa33a 100px,#3fa339 102px,#43a530 104px,#a2c900 106px,#e8f000 108px,#ffb400 110px,#f9640b 112px,#c14818 114px,#7d2b10 116px,#4e1808 118px,#2e0e05 120px,#180702 122px,#100502 124px,#0d0401 126px,#0c0301 128px,#0b0301 130px,#0a0301 132px,#0a0301 134px,#0a0301 136px,#0a0301 138px,#0a0301 140px,#0a0301 142px,#0a0301 144px,#0a0301 146px,#0b0301 148px,#0c0301 150px,#0d0401 152px,#100502 154px,#180702 156px,#2e0e05 158px,#4e1808 160px,#7d2b10 162px,#c14818 164px,#f9640b 166px)"></div><div style="top:14px;background:linear-gradient(90deg,#ddee00 0px,#f6dd00 2px,#ffad00 4px,#fe8302 6px,#fa6909 8px,#ee5c0e 10px,#e05611 12px,#d75213 14px,#d25014 16px,#cf4e15 18px,#ce4e15 20px,#cd4e15 22px,#cd4e15 24px,#ce4e15 26px,#d04f15 28px,#d45114 30px,#db5412 32px,#e65810 34px,#f75f0c 36px,#fc7406 38px,#ff9600 40px,#fec700 42px,#eef000 44px,#b8d400 46px,#64b118 48px,#bbd500 50px,#eff000 52px,#ffc300 54px,#ff8f00 56px,#fb7007 58px,#f25e0d 60px,#e35711 62px,#d95313 64px,#d35014 66px,#cf4f15 68px,#ce4e15 70px,#cd4e15 72px,#cd4e15 74px,#ce4e15 76px,#d14f14 78px,#d55113 80px,#dd5412 82px,#ea5a0f 84px,#f9640b 86px,#fd7e03 88px,#ffa700 90px,#f8d900 92px,#e0f000 94px,#96c300 96px,#3da23c 98px,#3ea23b 100px,#3ea33a 102px,#43a531 104px,#a2c900 106px,#e7f000 108px,#ffb400 110px,#f9650b 112px,#c14918 114px,#7e2c10 116px,#4f1808 118px,#2f0e05 120px,#190702 122px,#110502 124px,#0d0401 126px,#0c0301 128px,#0b0301 130px,#0a0301 132px,#0a0301 134px,#0a0301 136px,#0a0301 138px,#0a0301 140px,#0a0301 142px,#0a0301 144px,#0a0301 146px,#0b0301 148px,#0c0301 150px,#0d0401 152px,#110502 154px,#190702 156px,#2f0e05 158px,#4f1808 160px,#7e2c10 162px,#c14918 164px,#f9650b 166px)"></div><div style="top:16px;background:linear-gradient(90deg,#cce100 0px,#f2e900 2px,#ffbd00 4px,#ff8f00 6px,#fb7207 8px,#f75f0c 10px,#e8590f 12px,#de5512 14px,#d85213 16px,#d55114 18px,#d35014 20px,#d35014 22px,#d35014 24px,#d45014 26px,#d65213 28px,#db5412 30px,#e35711 32px,#ef5c0e 34px,#f9680a 36px,#fd7f03 38px,#ffa400 40px,#fad200 42px,#e8f000 44px,#a7cc00 46px,#4faa24 48px,#abcd00 50px,#eaf000 52px,#fbce00 54px,#ff9e00 56px,#fc7a04 58px,#f9630b 60px,#eb5a0f 62px,#e05611 64px,#d95313 66px,#d55114 68px,#d35014 70px,#d35014 72px,#d35014 74px,#d45014 76px,#d75213 78px,#dc5412 80px,#e55810 82px,#f25e0d 84px,#fa6d08 86px,#ff8800 88px,#ffb600 90px,#f4e500 92px,#d0e400 94px,#82bb08 96px,#3ba140 98px,#3ca13e 100px,#3da23c 102px,#43a531 104px,#a2c900 106px,#e7f000 108px,#ffb500 110px,#f9660a 112px,#c24918 114px,#7f2c11 116px,#501808 118px,#2f0e05 120px,#1a0803 122px,#110502 124px,#0e0401 126px,#0c0401 128px,#0b0301 130px,#0a0301 132px,#0a0301 134px,#0a0301 136px,#0a0301 138px,#0a0301 140px,#0a0301 142px,#0a0301 144px,#0a0301 146px,#0b0301 148px,#0c0401 150px,#0e0401 152px,#110502 154px,#1a0803 156px,#2f0e05 158px,#501808 160px,#7f2c11 162px,#c24918 164px,#f9660a 166px)"></div><div style="top:18px;background:linear-gradient(90deg,#b9d500 0px,#edf000 2px,#fdcb00 4px,#ff9e00 6px,#fd7d03 8px,#fa6909 10px,#f25d0d 12px,#e75910 14px,#e05611 16px,#dc5412 18px,#da5312 20px,#da5313 22px,#da5312 24px,#db5412 26px,#de5512 28px,#e35710 30px,#ec5b0f 32px,#f8610c 34px,#fb7207 36px,#ff8b00 38px,#ffb500 40px,#f6df00 42px,#deee00 44px,#95c200 46px,#40a436 48px,#99c400 50px,#e1f000 52px,#f7db00 54px,#ffae00 56px,#ff8601 58px,#fa6e08 60px,#f55f0d 62px,#e9590f 64px,#e15611 66px,#dc5412 68px,#da5312 70px,#da5313 72px,#da5312 74px,#db5412 76px,#de5512 78px,#e45810 80px,#ee5c0e 82px,#f9640b 84px,#fc7805 86px,#ff9800 88px,#fec700 90px,#eff000 92px,#bdd700 94px,#6ab315 96px,#399f45 98px,#3aa042 100px,#3ca13f 102px,#43a532 104px,#a1c800 106px,#e7f000 108px,#ffb600 110px,#f9660a 112px,#c34917 114px,#802d11 116px,#511908 118px,#300f05 120px,#1b0803 122px,#110502 124px,#0e0401 126px,#0c0401 128px,#0b0301 130px,#0a0301 132px,#0a0301 134px,#0a0301 136px,#0b0301 138px,#0b0301 140px,#0a0301 142px,#0a0301 144px,#0a0301 146px,#0b0301 148px,#0c0401 150px,#0e0401 152px,#110502 154px,#1b0803 156px,#300f05 158px,#511908 160px,#802d11 162px,#c34917 164px,#f9660a 166px)"></div><div style="top:20px;background:linear-gradient(90deg,#a4ca00 0px,#e6f000 2px,#f8d900 4px,#ffb100 6px,#ff8b00 8px,#fc7406 10px,#f9650b 12px,#f15d0d 14px,#ea5a0f 16px,#e55810 18px,#e35710 20px,#e25711 22px,#e35711 24px,#e45710 26px,#e75910 28px,#ed5b0e 30px,#f75f0c 32px,#fa6c08 34px,#fd7f03 36px,#ff9d00 38px,#fec700 40px,#f1ef00 42px,#c8de00 44px,#79b80d 46px,#359d4d 48px,#80bb09 50px,#cde200 52px,#f2ea00 54px,#ffc100 56px,#ff9600 58px,#fd7a04 60px,#f9680a 62px,#f35e0d 64px,#eb5a0f 66px,#e65810 68px,#e35710 70px,#e25711 72px,#e35711 74px,#e45710 76px,#e8590f 78px,#ee5c0e 80px,#f8610c 82px,#fb7007 84px,#ff8501 86px,#ffaa00 88px,#f9d500 90px,#e8f000 92px,#a9cc00 94px,#4eaa25 96px,#359d4c 98px,#379e48 100px,#39a044 102px,#42a533 104px,#a0c800 106px,#e6f000 108px,#ffb700 110px,#f9670a 112px,#c44a17 114px,#822d11 116px,#531908 118px,#320f05 120px,#1b0803 122px,#110502 124px,#0e0401 126px,#0c0401 128px,#0b0301 130px,#0b0301 132px,#0a0301 134px,#0a0301 136px,#0b0301 138px,#0b0301 140px,#0a0301 142px,#0a0301 144px,#0b0301 146px,#0b0301 148px,#0c0401 150px,#0e0401 152px,#110502 154px,#1b0803 156px,#320f05 158px,#531908 160px,#822d11 162px,#c44a17 164px,#f9670a 166px)"></div><div style="top:22px;background:linear-gradient(90deg,#8abe03 0px,#d2e600 2px,#f2ea00 4px,#fec600 6px,#ff9e00 8px,#fe8302 10px,#fb7107 12px,#f9660a 14px,#f65f0c 16px,#f15d0e 18px,#ee5c0e 20px,#ee5c0e 22px,#ee5c0e 24px,#ef5c0e 26px,#f35e0d 28px,#f8620c 30px,#fa6b09 32px,#fc7904 34px,#ff8f00 36px,#ffb100 38px,#f9d600 40px,#eaf000 42px,#afcf00 44px,#59ae1f 46px,#289665 48px,#61b01a 50px,#b5d300 52px,#ebf000 54px,#fad100 56px,#ffaa00 58px,#ff8800 60px,#fc7506 62px,#f9680a 64px,#f7600c 66px,#f15d0d 68px,#ee5c0e 70px,#ee5c0e 72px,#ee5c0e 74px,#f05c0e 76px,#f45e0d 78px,#f8630b 80px,#fa6e08 82px,#fd7e03 84px,#ff9800 86px,#ffbf00 88px,#f4e500 90px,#d9eb00 92px,#92c100 94px,#3da23c 96px,#2f9a57 98px,#329c51 100px,#369e4a 102px,#42a434 104px,#9fc800 106px,#e6f000 108px,#ffb900 110px,#fa6909 112px,#c54a17 114px,#842e11 116px,#541a09 118px,#330f05 120px,#1d0903 122px,#120502 124px,#0e0401 126px,#0c0401 128px,#0b0301 130px,#0b0301 132px,#0b0301 134px,#0b0301 136px,#0b0301 138px,#0b0301 140px,#0b0301 142px,#0b0301 144px,#0b0301 146px,#0b0301 148px,#0c0401 150px,#0e0401 152px,#120502 154px,#1d0903 156px,#330f05 158px,#541a09 160px,#842e11 162px,#c54a17 164px,#fa6909 166px)"></div><div style="top:24px;background:linear-gradient(90deg,#65b218 0px,#b6d300 2px,#ebf000 4px,#f9d600 6px,#ffb500 8px,#ff9600 10px,#fe8102 12px,#fb7406 14px,#fa6b09 16px,#f9660a 18px,#f9640b 20px,#f9630b 22px,#f9630b 24px,#f9650b 26px,#f96909 28px,#fb6f07 30px,#fc7a04 32px,#ff8900 34px,#ffa400 36px,#fec700 38px,#f3e800 40px,#d9eb00 42px,#94c200 44px,#3fa338 46px,#248b82 48px,#44a630 50px,#9bc500 52px,#e0f000 54px,#f5e300 56px,#ffc100 58px,#ff9d00 60px,#fe8401 62px,#fc7605 64px,#fa6c08 66px,#f9670a 68px,#f9640b 70px,#f9630b 72px,#f9630b 74px,#f9650a 76px,#fa6909 78px,#fb7107 80px,#fd7c03 82px,#ff8f00 84px,#ffad00 86px,#fbd100 88px,#edf000 90px,#bdd700 92px,#6fb513 94px,#2e9a58 96px,#289665 98px,#2c985c 100px,#319b53 102px,#41a435 104px,#9ec700 106px,#e6f000 108px,#ffba00 110px,#fa6a09 112px,#c74b17 114px,#862f11 116px,#561a09 118px,#341005 120px,#1e0903 122px,#120502 124px,#0f0401 126px,#0d0401 128px,#0b0301 130px,#0b0301 132px,#0b0301 134px,#0b0301 136px,#0b0301 138px,#0b0301 140px,#0b0301 142px,#0b0301 144px,#0b0301 146px,#0b0301 148px,#0d0401 150px,#0f0401 152px,#120502 154px,#1e0903 156px,#341005 158px,#561a09 160px,#862f11 162px,#c74b17 164px,#fa6a09 166px)"></div><div style="top:26px;background:linear-gradient(90deg,#43a532 0px,#97c400 2px,#dbec00 4px,#f2ea00 6px,#fdcb00 8px,#ffad00 10px,#ff9500 12px,#fe8501 14px,#fd7b04 16px,#fc7605 18px,#fb7306 20px,#fb7207 22px,#fb7206 24px,#fc7406 26px,#fc7805 28px,#fe8003 30px,#ff8c00 32px,#ffa000 34px,#ffbd00 36px,#f8d900 38px,#ebf000 40px,#b9d400 42px,#6bb414 44px,#2e9959 46px,#2080a1 48px,#339c50 50px,#76b70e 52px,#c1d900 54px,#edf000 56px,#fad400 58px,#ffb500 60px,#ff9a00 62px,#ff8700 64px,#fd7d03 66px,#fc7605 68px,#fb7306 70px,#fb7207 72px,#fb7206 74px,#fc7406 76px,#fc7905 78px,#fe8102 80px,#ff8f00 82px,#ffa600 84px,#fec600 86px,#f4e400 88px,#e2f000 90px,#9fc800 92px,#48a828 94px,#258f78 96px,#258f77 98px,#27946b 100px,#2c985d 102px,#40a436 104px,#9dc700 106px,#e5f000 108px,#ffbc00 110px,#fa6b09 112px,#c84c16 114px,#883012 116px,#581b09 118px,#361005 120px,#1f0903 122px,#130602 124px,#0f0502 126px,#0d0401 128px,#0c0401 130px,#0b0301 132px,#0b0301 134px,#0b0301 136px,#0c0401 138px,#0c0401 140px,#0b0301 142px,#0b0301 144px,#0b0301 146px,#0c0401 148px,#0d0401 150px,#0f0502 152px,#130602 154px,#1f0903 156px,#361005 158px,#581b09 160px,#883012 162px,#c84c16 164px,#fa6b09 166px)"></div><div style="top:28px;background:linear-gradient(90deg,#2f9a56 0px,#6bb415 2px,#b6d300 4px,#eaf000 6px,#f6df00 8px,#fec700 10px,#ffaf00 12px,#ff9c00 14px,#ff9000 16px,#ff8900 18px,#ff8501 20px,#fe8401 22px,#fe8501 24px,#ff8700 26px,#ff8c00 28px,#ff9500 30px,#ffa500 32px,#ffbb00 34px,#fad200 36px,#f1ef00 38px,#d7e900 40px,#96c300 42px,#43a531 44px,#258d7e 46px,#1d79bb 48px,#269173 50px,#4aa927 52px,#9fc800 54px,#e0f000 56px,#f2e900 58px,#fccd00 60px,#ffb400 62px,#ff9f00 64px,#ff9100 66px,#ff8900 68px,#ff8501 70px,#fe8401 72px,#fe8501 74px,#ff8700 76px,#ff8d00 78px,#ff9800 80px,#ffa900 82px,#ffc200 84px,#f8da00 86px,#ecf000 88px,#c0d800 90px,#78b80e 92px,#359d4c 94px,#218495 96px,#23888a 98px,#258e7a 100px,#289568 102px,#40a338 104px,#9cc600 106px,#e4f000 108px,#ffbe00 110px,#fa6d08 112px,#ca4c16 114px,#8a3112 116px,#5a1c0a 118px,#381106 120px,#210a03 122px,#130602 124px,#0f0502 126px,#0d0401 128px,#0c0401 130px,#0b0301 132px,#0b0301 134px,#0c0301 136px,#0c0401 138px,#0c0401 140px,#0c0301 142px,#0b0301 144px,#0b0301 146px,#0c0401 148px,#0d0401 150px,#0f0502 152px,#130602 154px,#210a03 156px,#381106 158px,#5a1c0a 160px,#8a3112 162px,#ca4c16 164px,#fa6d08 166px)"></div><div style="top:30px;background:linear-gradient(90deg,#248c80 0px,#41a436 2px,#8ebf01 4px,#cce100 6px,#edf000 8px,#f6dd00 10px,#fdca00 12px,#ffb900 14px,#ffab00 16px,#ffa300 18px,#ff9f00 20px,#ff9e00 22px,#ff9e00 24px,#ffa100 26px,#ffa700 28px,#ffb100 30px,#ffc200 32px,#fad300 34px,#f2e900 36px,#e5f000 38px,#aecf00 40px,#63b119 42px,#2d995a 44px,#207fa5 46px,#1b72d8 48px,#21829b 50px,#349d4e 52px,#71b611 54px,#b8d400 56px,#e9f000 58px,#f4e300 60px,#fcce00 62px,#ffbc00 64px,#ffad00 66px,#ffa400 68px,#ff9f00 70px,#ff9e00 72px,#ff9e00 74px,#ffa100 76px,#ffa800 78px,#ffb400 80px,#fec600 82px,#f8d800 84px,#f0f000 86px,#d7e900 88px,#99c400 90px,#47a72a 92px,#269074 94px,#1f7ea7 96px,#21829c 98px,#238989 100px,#269172 102px,#3fa339 104px,#9bc500 106px,#e4f000 108px,#ffc100 110px,#fb6f08 112px,#cc4d15 114px,#8d3212 116px,#5c1d0a 118px,#3a1106 120px,#230a03 122px,#140602 124px,#100502 126px,#0e0401 128px,#0c0401 130px,#0c0401 132px,#0c0401 134px,#0c0401 136px,#0d0401 138px,#0d0401 140px,#0c0401 142px,#0c0401 144px,#0c0401 146px,#0c0401 148px,#0e0401 150px,#100502 152px,#140602 154px,#230a03 156px,#3a1106 158px,#5c1d0a 160px,#8d3212 162px,#cc4d15 164px,#fb6f08 166px)"></div><div style="top:32px;background:linear-gradient(90deg,#1f7daa 0px,#289664 2px,#53ac22 4px,#9ec700 6px,#d6e900 8px,#eef000 10px,#f5e200 12px,#fad300 14px,#fdc900 16px,#ffc300 18px,#ffbe00 20px,#ffbd00 22px,#ffbd00 24px,#ffc000 26px,#fec600 28px,#fcce00 30px,#f8da00 32px,#f2eb00 34px,#e8f000 36px,#bad500 38px,#7bb90b 40px,#3ba041 42px,#238988 44px,#1c76c7 46px,#1e62cf 48px,#1d79bc 50px,#258e7b 52px,#41a434 54px,#8bbe03 56px,#c6dc00 58px,#ebf000 60px,#f4e600 62px,#f9d500 64px,#fdca00 66px,#ffc300 68px,#ffbe00 70px,#ffbd00 72px,#ffbd00 74px,#ffc000 76px,#fec600 78px,#fbcf00 80px,#f7dd00 82px,#f0f000 84px,#e1f000 86px,#a9cd00 88px,#62b119 90px,#2f9a57 92px,#2080a0 94px,#1e7bb4 96px,#1f7ea8 98px,#218495 100px,#258d7b 102px,#3ea23b 104px,#99c500 106px,#e3f000 108px,#ffc300 110px,#fb7107 112px,#ce4e15 114px,#903313 116px,#5f1e0b 118px,#3c1206 120px,#250b04 122px,#150602 124px,#110502 126px,#0e0401 128px,#0d0401 130px,#0c0401 132px,#0c0401 134px,#0d0401 136px,#0d0401 138px,#0d0401 140px,#0d0401 142px,#0c0401 144px,#0c0401 146px,#0d0401 148px,#0e0401 150px,#110502 152px,#150602 154px,#250b04 156px,#3c1206 158px,#5f1e0b 160px,#903313 162px,#ce4e15 164px,#fb7107 166px)"></div><div style="top:34px;background:linear-gradient(90deg,#1c75cc 0px,#218398 2px,#319b54 4px,#5fb01b 6px,#a1c900 8px,#d2e600 10px,#ebf000 12px,#f1ed00 14px,#f5e200 16px,#f7dc00 18px,#f8d900 20px,#f8d800 22px,#f8d800 24px,#f8da00 26px,#f6df00 28px,#f3e700 30px,#eef000 32px,#e5f000 34px,#bad500 36px,#84bc07 38px,#41a434 40px,#269075 42px,#1e7bb4 44px,#1d67d5 46px,#244eb8 48px,#1a70df 50px,#1f7ea9 52px,#289567 54px,#4aa927 56px,#93c200 58px,#c6dd00 60px,#e9f000 62px,#f0f000 64px,#f4e400 66px,#f7dc00 68px,#f8d900 70px,#f8d800 72px,#f8d800 74px,#f7da00 76px,#f6e000 78px,#f2e900 80px,#edf000 82px,#deef00 84px,#adce00 86px,#6fb512 88px,#389f46 90px,#238889 92px,#1d77c4 94px,#1d79be 96px,#1e7cb1 98px,#20819e 100px,#248b82 102px,#3da23d 104px,#97c400 106px,#e2f000 108px,#ffc500 110px,#fb7306 112px,#d04f14 114px,#933513 116px,#611f0b 118px,#3f1306 120px,#270c04 122px,#170702 124px,#110502 126px,#0f0401 128px,#0d0401 130px,#0d0401 132px,#0d0401 134px,#0d0401 136px,#0e0401 138px,#0e0401 140px,#0d0401 142px,#0d0401 144px,#0d0401 146px,#0d0401 148px,#0f0401 150px,#110502 152px,#170702 154px,#270c04 156px,#3f1306 158px,#611f0b 160px,#933513 162px,#d04f14 164px,#fb7306 166px)"></div><div style="top:36px;background:linear-gradient(90deg,#1b73d4 0px,#1d77c4 2px,#22868f 4px,#329c52 6px,#59ae1e 8px,#96c300 10px,#bed700 12px,#e0f000 14px,#eaf000 16px,#edf000 18px,#eef000 20px,#eef000 22px,#eef000 24px,#edf000 26px,#ebf000 28px,#e7f000 30px,#d0e400 32px,#aacd00 34px,#79b80d 36px,#41a435 38px,#26926f 40px,#1f7dab 42px,#1a71dd 44px,#2647af 46px,#2a3ba1 48px,#2351bb 50px,#1b74d1 52px,#20809f 54px,#2a9760 56px,#49a827 58px,#8abe03 60px,#b6d300 62px,#daec00 64px,#e9f000 66px,#ecf000 68px,#eef000 70px,#eef000 72px,#eef000 74px,#edf000 76px,#ebf000 78px,#e5f000 80px,#c9df00 82px,#a1c900 84px,#6ab315 86px,#39a043 88px,#248c7f 90px,#1e7ab8 92px,#1c75ce 94px,#1d77c5 96px,#1e7ab7 98px,#207fa4 100px,#238987 102px,#3ca13f 104px,#95c300 106px,#e1f000 108px,#fec700 110px,#fc7606 112px,#d35014 114px,#973613 116px,#64210c 118px,#421407 120px,#290c04 122px,#190702 124px,#120502 126px,#0f0502 128px,#0e0401 130px,#0d0401 132px,#0d0401 134px,#0e0401 136px,#0f0401 138px,#0f0401 140px,#0e0401 142px,#0d0401 144px,#0d0401 146px,#0e0401 148px,#0f0502 150px,#120502 152px,#190702 154px,#290c04 156px,#421407 158px,#64210c 160px,#973613 162px,#d35014 164px,#fc7606 166px)"></div><div style="top:38px;background:linear-gradient(90deg,#1b72d9 0px,#1a71db 2px,#1d77c3 4px,#228494 6px,#2b985e 8px,#44a62f 10px,#72b611 12px,#99c400 14px,#b0d000 16px,#bfd700 18px,#c7dd00 20px,#cadf00 22px,#c9df00 24px,#c4db00 26px,#b8d400 28px,#a5ca00 30px,#88bd04 32px,#5aae1e 34px,#389f46 36px,#258e79 38px,#1f7dad 40px,#1b72da 42px,#244eb7 44px,#2c39a0 46px,#3235a0 48px,#2e37a0 50px,#2159c4 52px,#1c75cd 54px,#2080a1 56px,#279469 58px,#3fa338 60px,#69b316 62px,#94c200 64px,#adce00 66px,#bed700 68px,#c7dd00 70px,#cadf00 72px,#c9df00 74px,#c3da00 76px,#b6d300 78px,#a2c900 80px,#81bb09 82px,#50ab24 84px,#339c50 86px,#248a85 88px,#1e7ab7 90px,#1b72d9 92px,#1b73d3 94px,#1c76ca 96px,#1d79bb 98px,#1f7ea7 100px,#23888b 102px,#3aa042 104px,#93c200 106px,#e0f000 108px,#fdca00 110px,#fc7805 112px,#d65113 114px,#9b3814 116px,#68220d 118px,#451507 120px,#2c0d04 122px,#1b0803 124px,#130602 126px,#100502 128px,#0f0401 130px,#0e0401 132px,#0e0401 134px,#0f0401 136px,#0f0502 138px,#0f0502 140px,#0f0401 142px,#0e0401 144px,#0e0401 146px,#0f0401 148px,#100502 150px,#130602 152px,#1b0803 154px,#2c0d04 156px,#451507 158px,#68220d 160px,#9b3814 162px,#d65113 164px,#fc7805 166px)"></div><div style="top:40px;background:linear-gradient(90deg,#1a71dc 0px,#1a70df 2px,#1a70e0 4px,#1c75cd 6px,#1f7ea7 8px,#258d7d 10px,#309a56 12px,#40a436 14px,#54ac21 16px,#67b217 18px,#72b611 20px,#75b70f 22px,#74b710 24px,#6db413 26px,#5fb01b 28px,#47a829 30px,#399f45 32px,#279568 34px,#228593 36px,#1e7aba 38px,#1a6fdf 40px,#254cb5 42px,#2f37a0 44px,#3434a0 46px,#3e31a0 48px,#4232a0 50px,#2d38a0 52px,#2157c3 54px,#1b73d4 56px,#1f7cae 58px,#248a84 60px,#2d995b 62px,#3ea33a 64px,#51ab23 66px,#66b217 68px,#71b611 70px,#75b70f 72px,#74b710 74px,#6db414 76px,#5daf1d 78px,#46a72d 80px,#369e4a 82px,#27926f 84px,#21829b 86px,#1d78c1 88px,#1a70e0 90px,#1a71dc 92px,#1b72d7 94px,#1c75cd 96px,#1d78be 98px,#1f7eaa 100px,#23878d 102px,#399f45 104px,#91c000 106px,#ddee00 108px,#fccc00 110px,#fd7b04 112px,#d95313 114px,#9f3a14 116px,#6b240d 118px,#481607 120px,#2f0e05 122px,#1e0903 124px,#130602 126px,#110502 128px,#0f0502 130px,#0f0401 132px,#0f0401 134px,#100502 136px,#100502 138px,#100502 140px,#100502 142px,#0f0401 144px,#0f0401 146px,#0f0502 148px,#110502 150px,#130602 152px,#1e0903 154px,#2f0e05 156px,#481607 158px,#6b240d 160px,#9f3a14 162px,#d95313 164px,#fd7b04 166px)"></div><div style="top:42px;background:linear-gradient(90deg,#1a70df 0px,#1a6fdf 2px,#1b6ede 4px,#1b6ddd 6px,#1b6ddd 8px,#1d77c4 10px,#1f7ea9 12px,#22878e 14px,#258f77 16px,#289567 18px,#2b975f 20px,#2c985d 22px,#2c985d 24px,#299662 26px,#27926e 28px,#248b82 30px,#21819c 32px,#1e7ab6 34px,#1b73d3 36px,#1f5fcc 38px,#2841a9 40px,#3036a0 42px,#3632a0 44px,#4432a0 46px,#5d37a0 48px,#6e399f 50px,#4432a0 52px,#2f37a0 54px,#254cb6 56px,#1c69d8 58px,#1c76c8 60px,#1f7dac 62px,#228591 64px,#258e79 66px,#279468 68px,#2a975f 70px,#2c985d 72px,#2c985d 74px,#299663 76px,#269270 78px,#248a84 80px,#2080a0 82px,#1e7aba 84px,#1b72d8 86px,#1b6bda 88px,#1b6ddd 90px,#1a70df 92px,#1b72d9 94px,#1c74d0 96px,#1d78c0 98px,#1f7dab 100px,#22868e 102px,#379f47 104px,#8ebf01 106px,#dbec00 108px,#fbcf00 110px,#fd7e03 112px,#dc5412 114px,#a33c15 116px,#6f250e 118px,#4b1708 120px,#320f05 122px,#200a03 124px,#150602 126px,#120502 128px,#100502 130px,#100502 132px,#100502 134px,#110502 136px,#110502 138px,#110502 140px,#110502 142px,#100502 144px,#100502 146px,#100502 148px,#120502 150px,#150602 152px,#200a03 154px,#320f05 156px,#4b1708 158px,#6f250e 160px,#a33c15 162px,#dc5412 164px,#fd7e03 166px)"></div><div style="top:44px;background:linear-gradient(90deg,#1a70e0 0px,#1b6edd 2px,#1b6cdc 4px,#1b6bda 6px,#1c6ad9 8px,#1c6ad8 10px,#1c69d7 12px,#1b72d8 14px,#1c76c8 16px,#1d79bd 18px,#1e7ab7 20px,#1e7bb5 22px,#1e7bb6 24px,#1e7aba 26px,#1d77c2 28px,#1c74d0 30px,#1a6fde 32px,#205cc8 34px,#2746ae 36px,#2d38a0 38px,#3235a0 40px,#3831a0 42px,#4933a0 44px,#6238a0 46px,#84369a 48px,#a23293 50px,#76389d 52px,#5035a0 54px,#3632a0 56px,#2b39a0 58px,#244fb9 60px,#1e64d1 62px,#1b71da 64px,#1c76ca 66px,#1d78be 68px,#1e7ab8 70px,#1e7bb5 72px,#1e7bb6 74px,#1e79ba 76px,#1d77c3 78px,#1b74d1 80px,#1b6ddc 82px,#1e63d1 84px,#1d66d4 86px,#1c68d6 88px,#1c6bda 90px,#1b6ede 92px,#1a71dc 94px,#1b74d2 96px,#1d77c2 98px,#1f7dad 100px,#228690 102px,#369e4b 104px,#8abe03 106px,#d8ea00 108px,#fad200 110px,#fe8202 112px,#df5511 114px,#a83e15 116px,#74270f 118px,#4f1808 120px,#351005 122px,#240b04 124px,#180702 126px,#130602 128px,#110502 130px,#110502 132px,#110502 134px,#120502 136px,#120602 138px,#120602 140px,#120502 142px,#110502 144px,#110502 146px,#110502 148px,#130602 150px,#180702 152px,#240b04 154px,#351005 156px,#4f1808 158px,#74270f 160px,#a83e15 162px,#df5511 164px,#fe8202 166px)"></div><div style="top:46px;background:linear-gradient(90deg,#1b6ede 0px,#1b6cdb 2px,#1c6ad9 4px,#1c68d7 6px,#1d67d5 8px,#1d66d4 10px,#1d64d2 12px,#1e63d0 14px,#1f61ce 16px,#1f5ecb 18px,#205cc8 20px,#2159c4 22px,#2256c1 24px,#2353bd 26px,#254cb5 28px,#2646ae 30px,#283fa6 32px,#2b39a0 34px,#2f37a0 36px,#3434a0 38px,#3b30a0 40px,#5035a0 42px,#693aa0 44px,#8d3598 46px,#b32e8e 48px,#cb1e7e 50px,#b03090 52px,#8a3599 54px,#683aa0 56px,#4d34a0 58px,#3831a0 60px,#3036a0 62px,#2a3aa0 64px,#2647af 66px,#244fb9 68px,#2255bf 70px,#2256c1 72px,#2256c1 74px,#2352bd 76px,#2353be 78px,#2157c2 80px,#205ac6 82px,#1f5eca 84px,#1f60cd 86px,#1e63d1 88px,#1d66d4 90px,#1c6ad9 92px,#1a70e0 94px,#1b73d6 96px,#1d77c5 98px,#1f7caf 100px,#228592 102px,#349d4e 104px,#86bd06 106px,#d5e800 108px,#f9d500 110px,#ff8501 112px,#e35711 114px,#ae4016 116px,#782910 118px,#531909 120px,#391106 122px,#270c04 124px,#1b0803 126px,#140602 128px,#120502 130px,#120502 132px,#120502 134px,#130602 136px,#140602 138px,#140602 140px,#130602 142px,#120502 144px,#120502 146px,#120502 148px,#140602 150px,#1b0803 152px,#270c04 154px,#391106 156px,#531909 158px,#782910 160px,#ae4016 162px,#e35711 164px,#ff8501 166px)"></div><div style="top:48px;background:linear-gradient(90deg,#1c6bda 0px,#1d67d5 2px,#1e63d1 4px,#1f60cd 6px,#205dca 8px,#205bc7 10px,#2158c4 12px,#2256c1 14px,#2254be 16px,#2351bb 18px,#244db7 20px,#254ab2 22px,#2745ad 24px,#2840a7 26px,#2a3aa0 28px,#2d38a0 30px,#3036a0 32px,#3434a0 34px,#3930a0 36px,#4a33a0 38px,#5f38a0 40px,#7c379c 42px,#9f3294 44px,#bf2686 46px,#da1474 48px,#e41065 50px,#d81575 52px,#c12484 54px,#ac3191 56px,#903597 58px,#77389d 60px,#6238a0 62px,#5235a0 64px,#4131a0 66px,#3732a0 68px,#3235a0 70px,#2e37a0 72px,#2b39a0 74px,#293da4 76px,#2743aa 78px,#2648b0 80px,#254cb5 82px,#244fb9 84px,#2353be 86px,#2256c1 88px,#215ac6 90px,#1f5fcb 92px,#1d65d3 94px,#1a70e0 96px,#1c74ce 98px,#1e7bb6 100px,#218398 102px,#329c52 104px,#81bb08 106px,#d2e500 108px,#f8d800 110px,#ff8900 112px,#e75910 114px,#b34317 116px,#7d2b10 118px,#581b09 120px,#3d1206 122px,#2a0d04 124px,#1e0903 126px,#170702 128px,#130602 130px,#130602 132px,#130602 134px,#140602 136px,#170702 138px,#170702 140px,#140602 142px,#130602 144px,#130602 146px,#130602 148px,#170702 150px,#1e0903 152px,#2a0d04 154px,#3d1206 156px,#581b09 158px,#7d2b10 160px,#b34317 162px,#e75910 164px,#ff8900 166px)"></div><div style="top:50px;background:linear-gradient(90deg,#1e64d2 0px,#205cc9 2px,#2254bf 4px,#244db6 6px,#2647af 8px,#2842a9 10px,#293ea5 12px,#2a3ba1 14px,#2b39a0 16px,#2d38a0 18px,#2e37a0 20px,#3036a0 22px,#3335a0 24px,#3533a0 26px,#3831a0 28px,#3e31a0 30px,#4a33a0 32px,#5836a0 34px,#6a3aa0 36px,#84369a 38px,#a33293 40px,#bf2686 42px,#d91575 44px,#e51063 46px,#ec1052 48px,#ef104c 50px,#e9105b 52px,#e31068 54px,#db1373 56px,#cb1e7e 58px,#bc2888 60px,#b03090 62px,#933497 64px,#77389d 66px,#6138a0 68px,#5135a0 70px,#4432a0 72px,#3a30a0 74px,#3632a0 76px,#3434a0 78px,#3135a0 80px,#2f37a0 82px,#2d38a0 84px,#2c39a0 86px,#2a3aa0 88px,#293fa6 90px,#2745ad 92px,#244eb7 94px,#205bc7 96px,#1b6ede 98px,#1d77c4 100px,#207fa4 102px,#309a56 104px,#7cb90b 106px,#cee300 108px,#f7db00 110px,#ff8e00 112px,#eb5b0f 114px,#b94517 116px,#832e11 118px,#5c1d0a 120px,#411407 122px,#2e0e05 124px,#220a03 126px,#1a0803 128px,#160702 130px,#140602 132px,#150602 134px,#180702 136px,#1a0803 138px,#1a0803 140px,#180702 142px,#150602 144px,#140602 146px,#160702 148px,#1a0803 150px,#220a03 152px,#2e0e05 154px,#411407 156px,#5c1d0a 158px,#832e11 160px,#b94517 162px,#eb5b0f 164px,#ff8e00 166px)"></div><div style="top:52px;background:linear-gradient(90deg,#205cc8 0px,#244fb9 2px,#2842aa 4px,#2c39a0 6px,#3036a0 8px,#3334a0 10px,#3633a0 12px,#3831a0 14px,#3a30a0 16px,#3e31a0 18px,#4432a0 20px,#4b33a0 22px,#5235a0 24px,#5a37a0 26px,#6439a0 28px,#72399e 30px,#83369a 32px,#983395 34px,#b22f8f 36px,#c62181 38px,#dd1272 40px,#e61061 42px,#eb1056 44px,#ed1050 46px,#f0104a 48px,#f0104a 50px,#ef104d 52px,#ea1059 54px,#e61063 56px,#e2106a 58px,#e0106f 60px,#df1171 62px,#d11a7a 64px,#bb2888 66px,#a53293 68px,#8d3598 70px,#7a389c 72px,#6a3aa0 74px,#5f38a0 76px,#5636a0 78px,#4e34a0 80px,#4733a0 82px,#4131a0 84px,#3b30a0 86px,#3831a0 88px,#3633a0 90px,#3335a0 92px,#2e38a0 94px,#2841a9 96px,#2159c5 98px,#1b72d7 100px,#1e7cb0 102px,#2d995a 104px,#77b80e 106px,#cae000 108px,#f6df00 110px,#ff9300 112px,#f05c0e 114px,#c04818 116px,#893012 118px,#62200b 120px,#461507 122px,#330f05 124px,#260b04 126px,#1e0903 128px,#190803 130px,#180702 132px,#190803 134px,#1c0803 136px,#1e0903 138px,#1e0903 140px,#1c0803 142px,#190803 144px,#180702 146px,#190803 148px,#1e0903 150px,#260b04 152px,#330f05 154px,#461507 156px,#62200b 158px,#893012 160px,#c04818 162px,#f05c0e 164px,#ff9300 166px)"></div><div style="top:54px;background:linear-gradient(90deg,#2159c5 0px,#254cb5 2px,#293da4 4px,#2e37a0 6px,#3334a0 8px,#3732a0 10px,#3930a0 12px,#3e31a0 14px,#4432a0 16px,#4933a0 18px,#5034a0 20px,#5636a0 22px,#5e38a0 24px,#6839a0 26px,#74399e 28px,#83369a 30px,#963496 32px,#ae3091 34px,#c12585 36px,#d71676 38px,#e0106f 40px,#e1106e 42px,#e2106a 44px,#e61063 46px,#ea1059 48px,#ef104c 50px,#e8105c 52px,#e3106a 54px,#d71676 56px,#c92080 58px,#be2787 60px,#b72c8c 62px,#b32e8e 64px,#b22f8f 66px,#b22f8f 68px,#a13293 70px,#8c3598 72px,#7b389c 74px,#6d3a9f 76px,#6338a0 78px,#5a37a0 80px,#5335a0 82px,#4c34a0 84px,#4632a0 86px,#3f31a0 88px,#3930a0 90px,#3633a0 92px,#3136a0 94px,#2a3ba1 96px,#2254bf 98px,#1a71dc 100px,#1e7bb3 102px,#2b985e 104px,#71b611 106px,#c6dd00 108px,#f4e300 110px,#ff9900 112px,#f55f0d 114px,#c44a17 116px,#8f3312 118px,#67220c 120px,#4b1708 122px,#371106 124px,#2a0d04 126px,#220a03 128px,#1e0903 130px,#1c0803 132px,#1e0903 134px,#200a03 136px,#230a03 138px,#230a03 140px,#200a03 142px,#1e0903 144px,#1c0803 146px,#1e0903 148px,#220a03 150px,#2a0d04 152px,#371106 154px,#4b1708 156px,#67220c 158px,#8f3312 160px,#c44a17 162px,#f55f0d 164px,#ff9900 166px)"></div><div style="top:56px;background:linear-gradient(90deg,#1f60ce 0px,#2157c2 2px,#254db6 4px,#2743ab 6px,#2a3ba1 8px,#2c39a0 10px,#2e37a0 12px,#3036a0 14px,#3135a0 16px,#3334a0 18px,#3533a0 20px,#3732a0 22px,#3931a0 24px,#3f31a0 26px,#4833a0 28px,#5335a0 30px,#6038a0 32px,#71399e 34px,#883699 36px,#a43293 38px,#bc2888 40px,#c02585 42px,#ca1f7f 44px,#d81575 46px,#e31069 48px,#e9105c 50px,#e2106a 52px,#d11a7a 54px,#bc2888 56px,#a63192 58px,#903597 60px,#7f379b 62px,#74399e 64px,#6c3a9f 66px,#683aa0 68px,#6339a0 70px,#5936a0 72px,#4d34a0 74px,#4432a0 76px,#3b30a0 78px,#3831a0 80px,#3633a0 82px,#3434a0 84px,#3235a0 86px,#3036a0 88px,#2e38a0 90px,#2b39a0 92px,#2841a9 94px,#2350ba 96px,#1d65d3 98px,#1c75cc 100px,#1f7ea9 102px,#289663 104px,#6bb414 106px,#c2d900 108px,#f3e700 110px,#ff9f00 112px,#f8610c 114px,#c94c16 116px,#963613 118px,#6d240d 120px,#501808 122px,#3c1206 124px,#2f0e05 126px,#260c04 128px,#220a03 130px,#210a03 132px,#220a03 134px,#250b04 136px,#270c04 138px,#270c04 140px,#250b04 142px,#220a03 144px,#210a03 146px,#220a03 148px,#260c04 150px,#2f0e05 152px,#3c1206 154px,#501808 156px,#6d240d 158px,#963613 160px,#c94c16 162px,#f8610c 164px,#ff9f00 166px)"></div><div style="top:58px;background:linear-gradient(90deg,#1c68d7 0px,#1e63d1 2px,#1f5ecb 4px,#215ac5 6px,#2256c1 8px,#2352bd 10px,#2450ba 12px,#244db6 14px,#254ab3 16px,#2647af 18px,#2743ab 20px,#283fa6 22px,#2a3aa0 24px,#2c39a0 26px,#2f37a0 28px,#3235a0 30px,#3633a0 32px,#3a30a0 34px,#4a33a0 36px,#5d37a0 38px,#76389d 40px,#963496 42px,#a93192 44px,#bc2888 46px,#d01a7a 48px,#e2106b 50px,#d31878 52px,#b92a8a 54px,#993395 56px,#79389d 58px,#6038a0 60px,#4c34a0 62px,#3d31a0 64px,#3732a0 66px,#3434a0 68px,#3136a0 70px,#2e37a0 72px,#2c39a0 74px,#2b39a0 76px,#2b39a0 78px,#293da4 80px,#2841a9 82px,#2745ae 84px,#2549b2 86px,#244db6 88px,#2351bb 90px,#2256c1 92px,#1f5dca 94px,#1c69d7 96px,#1b73d5 98px,#1e79bb 100px,#21819c 102px,#279468 104px,#65b218 106px,#bdd700 108px,#f1ec00 110px,#ffa500 112px,#f9660a 114px,#ce4e15 116px,#9d3914 118px,#73270f 120px,#561b09 122px,#421407 124px,#341005 126px,#2b0d04 128px,#270c04 130px,#260b04 132px,#270c04 134px,#2a0d04 136px,#2c0d04 138px,#2c0d04 140px,#2a0d04 142px,#270c04 144px,#260b04 146px,#270c04 148px,#2b0d04 150px,#341005 152px,#421407 154px,#561b09 156px,#73270f 158px,#9d3914 160px,#ce4e15 162px,#f9660a 164px,#ffa500 166px)"></div><div style="top:60px;background:linear-gradient(90deg,#1b6ddc 0px,#1c6ad9 2px,#1c68d6 4px,#1d66d4 6px,#1e64d2 8px,#1e62d0 10px,#1f61ce 12px,#1f5fcc 14px,#205dc9 16px,#205ac6 18px,#2157c3 20px,#2254bf 22px,#2350ba 24px,#254bb5 26px,#2646ae 28px,#2840a7 30px,#2b3aa0 32px,#2e37a0 34px,#3335a0 36px,#3831a0 38px,#4733a0 40px,#5e38a0 42px,#7b389c 44px,#993395 46px,#b72b8b 48px,#d11a7a 50px,#bf2686 52px,#9b3395 54px,#73399e 56px,#5235a0 58px,#3931a0 60px,#3036a0 62px,#293da3 64px,#254bb5 66px,#2158c3 68px,#1e62d0 70px,#1b6bda 72px,#1a70de 74px,#1b71da 76px,#1b71da 78px,#1a71de 80px,#1b6cdb 82px,#1e63d1 84px,#205cc9 86px,#1f5fcc 88px,#1e62d0 90px,#1d67d5 92px,#1b6ddc 94px,#1b72d9 96px,#1c76c8 98px,#1e7cb1 100px,#228494 102px,#27926e 104px,#5eaf1c 106px,#b8d400 108px,#f0f000 110px,#ffac00 112px,#fa6b09 114px,#d35014 116px,#a43c15 118px,#7a2a10 120px,#5c1d0a 122px,#471507 124px,#391106 126px,#310f05 128px,#2c0d04 130px,#2b0d04 132px,#2c0d04 134px,#2f0e05 136px,#310f05 138px,#310f05 140px,#2f0e05 142px,#2c0d04 144px,#2b0d04 146px,#2c0d04 148px,#310f05 150px,#391106 152px,#471507 154px,#5c1d0a 156px,#7a2a10 158px,#a43c15 160px,#d35014 162px,#fa6b09 164px,#ffac00 166px)"></div><div style="top:62px;background:linear-gradient(90deg,#1a6fdf 0px,#1b6ddc 2px,#1b6bda 4px,#1c6ad9 6px,#1c69d8 8px,#1c68d6 10px,#1d67d5 12px,#1d65d4 14px,#1e64d2 16px,#1e62cf 18px,#1f60cd 20px,#205dc9 22px,#215ac5 24px,#2256c2 26px,#2255bf 28px,#2350ba 30px,#254ab3 32px,#2744ac 34px,#293ca3 36px,#2d38a0 38px,#3335a0 40px,#3a30a0 42px,#5235a0 44px,#70399f 46px,#953496 48px,#ba2989 50px,#aa3191 52px,#7b389c 54px,#5335a0 56px,#3632a0 58px,#2b39a0 60px,#2350ba 62px,#1d66d5 64px,#1b73d4 66px,#1d78c0 68px,#1f7cae 70px,#2080a0 72px,#228593 74px,#23878d 76px,#23878c 78px,#228691 80px,#21829c 82px,#1f7eaa 84px,#1e79ba 86px,#1c75ce 88px,#1b6cdc 90px,#1b6cdc 92px,#1a71de 94px,#1b73d3 96px,#1d77c3 98px,#1f7dae 100px,#228691 102px,#269171 104px,#57ad20 106px,#b3d200 108px,#eef000 110px,#ffb300 112px,#fb7107 114px,#d95313 116px,#ac4016 118px,#812d11 120px,#63200c 122px,#4e1708 124px,#3f1306 126px,#361005 128px,#320f05 130px,#310f05 132px,#320f05 134px,#351005 136px,#371005 138px,#371005 140px,#351005 142px,#320f05 144px,#310f05 146px,#320f05 148px,#361005 150px,#3f1306 152px,#4e1708 154px,#63200c 156px,#812d11 158px,#ac4016 160px,#d95313 162px,#fb7107 164px,#ffb300 166px)"></div><div style="top:64px;background:linear-gradient(90deg,#1a70e0 0px,#1b6edd 2px,#1b6ddc 4px,#1b6cdb 6px,#1b6bda 8px,#1c6ad9 10px,#1c69d8 12px,#1c68d7 14px,#1a70e0 16px,#1b74d2 18px,#1c77c6 20px,#1d79bc 22px,#1e7ab7 24px,#1e7bb5 26px,#1e7ab8 28px,#1d78be 30px,#1c76c8 32px,#1b73d5 34px,#1b6ddd 36px,#1f5ecb 38px,#254cb6 40px,#2b39a0 42px,#3533a0 44px,#4c34a0 46px,#6b3aa0 48px,#903597 50px,#8e3598 52px,#5e38a0 54px,#3831a0 56px,#2b39a0 58px,#2257c2 60px,#1a71dc 62px,#1d79bc 64px,#20809f 66px,#258d7d 68px,#2b985f 70px,#379e48 72px,#3fa338 74px,#43a531 76px,#44a630 78px,#42a533 80px,#3ca13f 82px,#319b52 84px,#27936d 86px,#22878d 88px,#1f7dae 90px,#1c75cc 92px,#1a71db 94px,#1b74d1 96px,#1d78c2 98px,#1f7dac 100px,#22868f 102px,#269170 104px,#50ab24 106px,#aecf00 108px,#ecf000 110px,#ffba00 112px,#fc7705 114px,#df5511 116px,#b54317 118px,#893012 120px,#6a230d 122px,#541a09 124px,#461507 126px,#3c1206 128px,#381106 130px,#371005 132px,#381106 134px,#3b1206 136px,#3d1206 138px,#3d1206 140px,#3b1206 142px,#381106 144px,#371005 146px,#381106 148px,#3c1206 150px,#461507 152px,#541a09 154px,#6a230d 156px,#893012 158px,#b54317 160px,#df5511 162px,#fc7705 164px,#ffba00 166px)"></div><div style="top:66px;background:linear-gradient(90deg,#1a70df 0px,#1a6fdf 2px,#1b6ede 4px,#1b6ddd 6px,#1b6ddc 8px,#1b6cdc 10px,#1b72d9 12px,#1d78bf 14px,#1f7ea7 16px,#22868f 18px,#258f78 20px,#289568 22px,#2b985f 24px,#2c985d 26px,#2b975f 28px,#279469 30px,#258e7b 32px,#228592 34px,#1f7eaa 36px,#1d78c2 38px,#1a71dc 40px,#205ac6 42px,#293ea5 44px,#3533a0 46px,#4b34a0 48px,#6639a0 50px,#74399e 52px,#4532a0 54px,#2f37a0 56px,#2352bd 58px,#1a71db 60px,#1e7bb5 62px,#23888b 64px,#2b985e 66px,#41a436 68px,#63b119 70px,#86bd06 72px,#9ac500 74px,#a2c900 76px,#a3ca00 78px,#a0c800 80px,#95c300 82px,#7cb90b 84px,#57ad20 86px,#3ba041 88px,#27946b 90px,#218299 92px,#1d78c0 94px,#1c74cf 96px,#1d78c0 98px,#1f7dab 100px,#22878e 102px,#269270 104px,#48a828 106px,#a8cc00 108px,#e9f000 110px,#ffc200 112px,#fd7d03 114px,#e55810 116px,#be4718 118px,#913413 120px,#71260e 122px,#5b1d0a 124px,#4c1708 126px,#431407 128px,#3e1306 130px,#3d1206 132px,#3e1306 134px,#411407 136px,#431407 138px,#431407 140px,#411407 142px,#3e1306 144px,#3d1206 146px,#3e1306 148px,#431407 150px,#4c1708 152px,#5b1d0a 154px,#71260e 156px,#913413 158px,#be4718 160px,#e55810 162px,#fd7d03 164px,#ffc200 166px)"></div><div style="top:68px;background:linear-gradient(90deg,#1a71dc 0px,#1a70df 2px,#1a70e0 4px,#1a70df 6px,#1a6fdf 8px,#1b74d0 10px,#1f7cae 12px,#238988 14px,#299761 16px,#3ba140 18px,#4ca926 20px,#65b218 22px,#72b611 24px,#75b70f 26px,#72b611 28px,#64b118 30px,#4ba926 32px,#3aa042 34px,#299663 36px,#23888a 38px,#1f7caf 40px,#1b74d2 42px,#205dca 44px,#293ca3 46px,#3632a0 48px,#4532a0 50px,#5235a0 52px,#3633a0 54px,#2745ad 56px,#1c6bda 58px,#1e79ba 60px,#23888b 62px,#309a55 64px,#4eaa25 66px,#87bd05 68px,#afd000 70px,#cee300 72px,#e2f000 74px,#e7f000 76px,#e8f000 78px,#e7f000 80px,#e1f000 82px,#cce100 84px,#acce00 86px,#82bb08 88px,#48a828 90px,#2d995a 92px,#228690 94px,#1d78bf 96px,#1d78be 98px,#1f7ea9 100px,#23878d 102px,#27926f 104px,#44a62f 106px,#a2c900 108px,#e7f000 110px,#fec800 112px,#fe8301 114px,#ec5b0f 116px,#c54a17 118px,#9a3814 120px,#792a10 122px,#63200c 124px,#541a09 126px,#4a1607 128px,#451507 130px,#441407 132px,#451507 134px,#481607 136px,#4a1607 138px,#4a1607 140px,#481607 142px,#451507 144px,#441407 146px,#451507 148px,#4a1607 150px,#541a09 152px,#63200c 154px,#792a10 156px,#9a3814 158px,#c54a17 160px,#ec5b0f 162px,#fe8301 164px,#fec800 166px)"></div><div style="top:70px;background:linear-gradient(90deg,#1b72d9 0px,#1a71db 2px,#1a71dc 4px,#1a71dd 6px,#1b73d4 8px,#1f7dac 10px,#258d7c 12px,#359d4c 14px,#52ab23 16px,#84bc07 18px,#a6cb00 20px,#bbd600 22px,#c7dd00 24px,#cadf00 26px,#c7dd00 28px,#bcd600 30px,#a7cb00 32px,#86bd06 34px,#54ac21 36px,#369e4b 38px,#258e7a 40px,#1f7daa 42px,#1b73d3 44px,#2158c3 46px,#2d38a0 48px,#3434a0 50px,#3832a0 52px,#2e37a0 54px,#2159c5 56px,#1c75cb 58px,#21829b 60px,#2b985e 62px,#4ca926 64px,#90c000 66px,#c0d800 68px,#e6f000 70px,#ebf000 72px,#ecf000 74px,#edf000 76px,#eef000 78px,#edf000 80px,#edf000 82px,#ebf000 84px,#e8f000 86px,#c5db00 88px,#95c200 90px,#53ac22 92px,#2e9a58 94px,#228494 96px,#1d79bb 98px,#1f7ea7 100px,#23888a 102px,#27936d 104px,#40a437 106px,#9bc500 108px,#e3f000 110px,#fcce00 112px,#ff8a00 114px,#f35e0d 116px,#cb4d16 118px,#a33c15 120px,#822d11 122px,#6b230d 124px,#5b1d0a 126px,#521908 128px,#4d1708 130px,#4b1708 132px,#4d1708 134px,#4f1808 136px,#511908 138px,#511908 140px,#4f1808 142px,#4d1708 144px,#4b1708 146px,#4d1708 148px,#521908 150px,#5b1d0a 152px,#6b230d 154px,#822d11 156px,#a33c15 158px,#cb4d16 160px,#f35e0d 162px,#ff8a00 164px,#fcce00 166px)"></div><div style="top:72px;background:linear-gradient(90deg,#1b73d4 0px,#1b73d6 2px,#1b72d7 4px,#1b72d7 6px,#1e7bb6 8px,#248b82 10px,#369e4b 12px,#5fb01b 14px,#9ac500 16px,#c5dc00 18px,#e5f000 20px,#eaf000 22px,#ebf000 24px,#ebf000 26px,#ebf000 28px,#eaf000 30px,#e7f000 32px,#cadf00 34px,#9fc800 36px,#66b217 38px,#39a044 40px,#258d7b 42px,#1e7cb0 44px,#1a71dd 46px,#254bb4 48px,#2b39a0 50px,#2e38a0 52px,#2841a9 54px,#1b6ddc 56px,#1e7cb1 58px,#269075 60px,#40a436 62px,#82bb08 64px,#bcd600 66px,#e8f000 68px,#edf000 70px,#f0f000 72px,#f1ec00 74px,#f2ea00 76px,#f2e900 78px,#f2e900 80px,#f2eb00 82px,#f0ef00 84px,#eef000 86px,#eaf000 88px,#cde100 90px,#96c300 92px,#4daa25 94px,#299762 96px,#207fa2 98px,#207fa4 100px,#238987 102px,#27936b 104px,#3ca13f 106px,#94c200 108px,#e0f000 110px,#fad400 112px,#ff9200 114px,#f8620b 116px,#d25014 118px,#ad4016 120px,#8b3112 122px,#73270f 124px,#63200c 126px,#591c0a 128px,#541a09 130px,#531909 132px,#541a09 134px,#571b09 136px,#591c0a 138px,#591c0a 140px,#571b09 142px,#541a09 144px,#531909 146px,#541a09 148px,#591c0a 150px,#63200c 152px,#73270f 154px,#8b3112 156px,#ad4016 158px,#d25014 160px,#f8620b 162px,#ff9200 164px,#fad400 166px)"></div><div style="top:74px;background:linear-gradient(90deg,#1c75cc 0px,#1c75ce 2px,#1c74cf 4px,#1c76c8 6px,#218496 8px,#2f9a58 10px,#56ad20 12px,#9ac500 14px,#cee200 16px,#eaf000 18px,#edf000 20px,#eff000 22px,#f0ef00 24px,#f1ee00 26px,#f0ef00 28px,#f0f000 30px,#eef000 32px,#eaf000 34px,#d8ea00 36px,#a4ca00 38px,#64b118 40px,#359d4c 42px,#238889 44px,#1d78bf 46px,#1e63d1 48px,#254cb5 50px,#2646af 52px,#2352bc 54px,#1c74cf 56px,#218398 58px,#319b53 60px,#63b119 62px,#aacd00 64px,#e3f000 66px,#edf000 68px,#f1ed00 70px,#f4e500 72px,#f5e000 74px,#f6de00 76px,#f6dd00 78px,#f6dd00 80px,#f6df00 82px,#f5e200 84px,#f3e800 86px,#eff000 88px,#eaf000 90px,#c7de00 92px,#8bbe03 94px,#42a533 96px,#269075 98px,#20819e 100px,#248b82 102px,#289568 104px,#389f47 106px,#8bbe03 108px,#d8ea00 110px,#f7da00 112px,#ff9b00 114px,#f96909 116px,#d95313 118px,#b84417 120px,#953613 122px,#7c2b10 124px,#6c240d 126px,#62200b 128px,#5c1d0a 130px,#5b1d0a 132px,#5c1d0a 134px,#5f1e0b 136px,#611f0b 138px,#611f0b 140px,#5f1e0b 142px,#5c1d0a 144px,#5b1d0a 146px,#5c1d0a 148px,#62200b 150px,#6c240d 152px,#7c2b10 154px,#953613 156px,#b84417 158px,#d95313 160px,#f96909 162px,#ff9b00 164px,#f7da00 166px)"></div><div style="top:76px;background:linear-gradient(90deg,#1d78c1 0px,#1d77c2 2px,#1d77c3 4px,#1f7caf 6px,#269171 8px,#43a531 10px,#8abe03 12px,#c5dc00 14px,#eaf000 16px,#eff000 18px,#f2ea00 20px,#f4e400 22px,#f5e200 24px,#f5e100 26px,#f5e100 28px,#f4e300 30px,#f3e800 32px,#f0f000 34px,#ebf000 36px,#d5e800 38px,#9cc600 40px,#52ab22 42px,#2b985f 44px,#2080a1 46px,#1b73d4 48px,#1f60cd 50px,#205cc8 52px,#1e64d1 54px,#1d79bb 56px,#258e7b 58px,#41a435 60px,#8cbf02 62px,#cbe000 64px,#ebf000 66px,#f1ed00 68px,#f5e200 70px,#f8da00 72px,#f9d500 74px,#fad200 76px,#fad100 78px,#fad100 80px,#fad300 82px,#f9d600 84px,#f7dc00 86px,#f4e500 88px,#f0f000 90px,#e9f000 92px,#b8d400 94px,#73b610 96px,#369e4a 98px,#228691 100px,#258d7b 102px,#289663 104px,#339c50 106px,#81bb09 108px,#d0e400 110px,#f5e100 112px,#ffa500 114px,#fb7007 116px,#e15611 118px,#c24918 120px,#9f3a14 122px,#862f11 124px,#75280f 126px,#6b230d 128px,#65210c 130px,#64200c 132px,#65210c 134px,#67220c 136px,#69230d 138px,#69230d 140px,#67220c 142px,#65210c 144px,#64200c 146px,#65210c 148px,#6b230d 150px,#75280f 152px,#862f11 154px,#9f3a14 156px,#c24918 158px,#e15611 160px,#fb7007 162px,#ffa500 164px,#f5e100 166px)"></div><div style="top:78px;background:linear-gradient(90deg,#1e7bb2 0px,#1e7bb4 2px,#1e7bb4 4px,#218495 6px,#339c50 8px,#69b316 10px,#afd000 12px,#e7f000 14px,#eff000 16px,#f3e600 18px,#f6dd00 20px,#f8d700 22px,#f9d500 24px,#fad400 26px,#f9d400 28px,#f9d600 30px,#f7db00 32px,#f5e200 34px,#f1ee00 36px,#eaf000 38px,#c5dc00 40px,#86bd05 42px,#40a338 44px,#258d7c 46px,#1e7aba 48px,#1b71da 50px,#1a71de 52px,#1b72d7 54px,#1f7ea9 56px,#2a9761 58px,#5aae1e 60px,#a8cc00 62px,#e5f000 64px,#eff000 66px,#f5e300 68px,#f8d700 70px,#fbcf00 72px,#fdca00 74px,#fec700 76px,#fec600 78px,#fec700 80px,#fec800 82px,#fdcb00 84px,#fbd000 86px,#f8d800 88px,#f4e400 90px,#eef000 92px,#e1f000 94px,#a2c900 96px,#51ab23 98px,#279568 100px,#269172 102px,#2b985e 104px,#349d4e 106px,#75b70f 108px,#c8de00 110px,#f3e800 112px,#ffae00 114px,#fc7705 116px,#e8590f 118px,#c94c16 120px,#aa3f16 122px,#903413 124px,#7f2c11 126px,#74270f 128px,#6e250e 130px,#6d240d 132px,#6e250e 134px,#70260e 136px,#72260e 138px,#72260e 140px,#70260e 142px,#6e250e 144px,#6d240d 146px,#6e250e 148px,#74270f 150px,#7f2c11 152px,#903413 154px,#aa3f16 156px,#c94c16 158px,#e8590f 160px,#fc7705 162px,#ffae00 164px,#f3e800 166px)"></div><div style="top:80px;background:linear-gradient(90deg,#2080a1 0px,#207fa2 2px,#207fa3 4px,#258f77 6px,#43a531 8px,#92c100 10px,#d1e500 12px,#edf000 14px,#f3e700 16px,#f8da00 18px,#fbd100 20px,#fdcb00 22px,#fec800 24px,#fec800 26px,#fec800 28px,#fdca00 30px,#fcce00 32px,#f9d500 34px,#f5e100 36px,#f0f000 38px,#e7f000 40px,#adce00 42px,#62b119 44px,#2f9a58 46px,#2080a0 48px,#1d78c0 50px,#1d77c3 52px,#1d79bd 54px,#218495 56px,#369e49 58px,#79b80d 60px,#c1d800 62px,#ebf000 64px,#f3e900 66px,#f8d900 68px,#fcce00 70px,#ffc500 72px,#ffbe00 74px,#ffba00 76px,#ffb800 78px,#ffb800 80px,#ffba00 82px,#ffbe00 84px,#ffc500 86px,#fccd00 88px,#f8d800 90px,#f3e700 92px,#ecf000 94px,#c7dd00 96px,#82bb08 98px,#3aa042 100px,#289568 102px,#2f9a57 104px,#369e4a 106px,#69b315 108px,#bfd700 110px,#f0ef00 112px,#ffb900 114px,#fd7f03 116px,#f15d0e 118px,#d14f14 120px,#b64417 122px,#9b3814 124px,#893112 126px,#7e2c10 128px,#782910 130px,#76280f 132px,#77290f 134px,#792a10 136px,#7b2a10 138px,#7b2a10 140px,#792a10 142px,#77290f 144px,#76280f 146px,#782910 148px,#7e2c10 150px,#893112 152px,#9b3814 154px,#b64417 156px,#d14f14 158px,#f15d0e 160px,#fd7f03 162px,#ffb900 164px,#f0ef00 166px)"></div><div style="top:82px;background:linear-gradient(90deg,#238889 0px,#23888a 2px,#23888b 4px,#2d995c 6px,#60b01b 8px,#adcf00 10px,#e8f000 12px,#f1ed00 14px,#f7db00 16px,#fcce00 18px,#ffc500 20px,#ffbd00 22px,#ffb900 24px,#ffb800 26px,#ffb800 28px,#ffbb00 30px,#ffc100 32px,#fdc900 34px,#fad400 36px,#f4e300 38px,#edf000 40px,#d0e400 42px,#8ebf01 44px,#40a436 46px,#248c7f 48px,#1f7ea7 50px,#1f7ea9 52px,#207fa5 54px,#248b81 56px,#41a434 58px,#93c200 60px,#d7e900 62px,#eef000 64px,#f6e000 66px,#fbd000 68px,#ffc400 70px,#ffb800 72px,#ffb000 74px,#ffac00 76px,#ffaa00 78px,#ffaa00 80px,#ffab00 82px,#ffaf00 84px,#ffb600 86px,#ffc000 88px,#fccc00 90px,#f7db00 92px,#f1ed00 94px,#e6f000 96px,#a7cc00 98px,#55ac21 100px,#2c985d 102px,#339c50 104px,#389f46 106px,#5daf1c 108px,#b6d300 110px,#edf000 112px,#ffc300 114px,#ff8800 116px,#f8610c 118px,#d95313 120px,#c14918 122px,#a73d15 124px,#943513 126px,#893012 128px,#822e11 130px,#802d11 132px,#812d11 134px,#832e11 136px,#852f11 138px,#852f11 140px,#832e11 142px,#812d11 144px,#802d11 146px,#822e11 148px,#893012 150px,#943513 152px,#a73d15 154px,#c14918 156px,#d95313 158px,#f8610c 160px,#ff8800 162px,#ffc300 164px,#edf000 166px)"></div><div style="top:84px;background:linear-gradient(90deg,#269172 0px,#269073 2px,#269074 4px,#3aa043 6px,#81bb08 8px,#c8de00 10px,#ecf000 12px,#f5e200 14px,#fbd000 16px,#ffc300 18px,#ffb500 20px,#ffad00 22px,#ffa800 24px,#ffa700 26px,#ffa700 28px,#ffaa00 30px,#ffb000 32px,#ffba00 34px,#fec800 36px,#f9d700 38px,#f2ea00 40px,#e8f000 42px,#adce00 44px,#5daf1c 46px,#2a9760 48px,#23888b 50px,#22878d 52px,#238988 54px,#27926e 56px,#51ab23 58px,#a6cb00 60px,#e6f000 62px,#f1ec00 64px,#f8d800 66px,#fec800 68px,#ffb800 70px,#ffab00 72px,#ffa300 74px,#ff9f00 76px,#ff9d00 78px,#ff9c00 80px,#ff9d00 82px,#ffa000 84px,#ffa700 86px,#ffb100 88px,#ffc000 90px,#fbcf00 92px,#f5e100 94px,#edf000 96px,#c8de00 98px,#7fba09 100px,#379f47 102px,#369e49 104px,#3aa042 106px,#50ab24 108px,#acce00 110px,#eaf000 112px,#fdcb00 114px,#ff9200 116px,#fa6909 118px,#e25611 120px,#c94c16 122px,#b34217 124px,#a03a14 126px,#943513 128px,#8e3212 130px,#8b3112 132px,#8c3212 134px,#8e3212 136px,#8f3312 138px,#8f3312 140px,#8e3212 142px,#8c3212 144px,#8b3112 146px,#8e3212 148px,#943513 150px,#a03a14 152px,#b34217 154px,#c94c16 156px,#e25611 158px,#fa6909 160px,#ff9200 162px,#fdcb00 164px,#eaf000 166px)"></div><div style="top:86px;background:linear-gradient(90deg,#2a9760 0px,#2a9760 2px,#2a9760 4px,#46a72b 6px,#9cc600 8px,#e0f000 10px,#f1ee00 12px,#f8d700 14px,#fec600 16px,#ffb300 18px,#ffa500 20px,#ff9d00 22px,#ff9800 24px,#ff9700 26px,#ff9700 28px,#ff9900 30px,#ff9f00 32px,#ffa900 34px,#ffb900 36px,#fdcb00 38px,#f6de00 40px,#edf000 42px,#cadf00 44px,#83bc07 46px,#39a043 48px,#269172 50px,#269074 52px,#269270 54px,#2c985d 56px,#66b217 58px,#b7d300 60px,#eaf000 62px,#f4e400 64px,#fbd000 66px,#ffbe00 68px,#ffac00 70px,#ff9f00 72px,#ff9700 74px,#ff9200 76px,#ff9000 78px,#ff9000 80px,#ff9000 82px,#ff9300 84px,#ff9900 86px,#ffa300 88px,#ffb100 90px,#ffc400 92px,#f9d500 94px,#f2ec00 96px,#e4f000 98px,#a2c900 100px,#4aa927 102px,#39a044 104px,#3ca13f 106px,#45a62d 108px,#a2c900 110px,#e6f000 112px,#fad300 114px,#ff9d00 116px,#fb7207 118px,#eb5a0f 120px,#d25014 122px,#c04818 124px,#ac4016 126px,#a03a14 128px,#993714 130px,#973613 132px,#973713 134px,#993714 136px,#9b3814 138px,#9b3814 140px,#993714 142px,#973713 144px,#973613 146px,#993714 148px,#a03a14 150px,#ac4016 152px,#c04818 154px,#d25014 156px,#eb5a0f 158px,#fb7207 160px,#ff9d00 162px,#fad300 164px,#e6f000 166px)"></div><div style="top:88px;background:linear-gradient(90deg,#329b52 0px,#319b52 2px,#319b53 4px,#5fb01b 6px,#b0d000 8px,#e9f000 10px,#f4e400 12px,#fccd00 14px,#ffb800 16px,#ffa400 18px,#ff9700 20px,#ff8e00 22px,#ff8900 24px,#ff8800 26px,#ff8800 28px,#ff8a00 30px,#ff9000 32px,#ff9900 34px,#ffa800 36px,#ffbd00 38px,#fad200 40px,#f2ea00 42px,#e3f000 44px,#a0c800 46px,#49a828 48px,#2b985f 50px,#2a9760 52px,#2c985d 54px,#339c4f 56px,#79b80d 58px,#c6dc00 60px,#edf000 62px,#f6dd00 64px,#fdc900 66px,#ffb300 68px,#ffa100 70px,#ff9400 72px,#ff8c00 74px,#ff8700 76px,#fe8501 78px,#fe8401 80px,#fe8501 82px,#ff8700 84px,#ff8c00 86px,#ff9500 88px,#ffa300 90px,#ffb500 92px,#fdca00 94px,#f6e000 96px,#ecf000 98px,#bfd700 100px,#70b512 102px,#3ca13f 104px,#3da23c 106px,#3fa339 108px,#97c300 110px,#e1f000 112px,#f7db00 114px,#ffa800 116px,#fd7b04 118px,#f45e0d 120px,#db5412 122px,#c84c16 124px,#b94517 126px,#ad4016 128px,#a63d15 130px,#a33c15 132px,#a33c15 134px,#a53c15 136px,#a63d15 138px,#a63d15 140px,#a53c15 142px,#a33c15 144px,#a33c15 146px,#a63d15 148px,#ad4016 150px,#b94517 152px,#c84c16 154px,#db5412 156px,#f45e0d 158px,#fd7b04 160px,#ffa800 162px,#f7db00 164px,#e1f000 166px)"></div><div style="top:90px;background:linear-gradient(90deg,#379e48 0px,#379e49 2px,#379e49 4px,#78b80d 6px,#c4db00 8px,#edf000 10px,#f7db00 12px,#ffc400 14px,#ffaa00 16px,#ff9600 18px,#ff8800 20px,#fe8102 22px,#fd7d03 24px,#fd7c04 26px,#fd7c04 28px,#fd7e03 30px,#fe8202 32px,#ff8a00 34px,#ff9900 36px,#ffad00 38px,#fec700 40px,#f6df00 42px,#ebf000 44px,#b9d400 46px,#69b316 48px,#329b52 50px,#319b53 52px,#329c51 54px,#3aa041 56px,#8bbe03 58px,#d3e600 60px,#f0f000 62px,#f9d700 64px,#ffc100 66px,#ffa900 68px,#ff9700 70px,#ff8a00 72px,#fe8202 74px,#fd7e03 76px,#fd7c04 78px,#fd7b04 80px,#fd7c04 82px,#fd7e03 84px,#fe8202 86px,#ff8900 88px,#ff9500 90px,#ffa700 92px,#ffbe00 94px,#f9d400 96px,#f1ee00 98px,#dbec00 100px,#93c200 102px,#3fa339 104px,#3ea33a 106px,#3fa339 108px,#8abe03 110px,#d5e800 112px,#f4e300 114px,#ffb400 116px,#fe8401 118px,#f9650a 120px,#e45810 122px,#d14f14 124px,#c44a17 126px,#ba4517 128px,#b24216 130px,#af4116 132px,#af4116 134px,#b14116 136px,#b24216 138px,#b24216 140px,#b14116 142px,#af4116 144px,#af4116 146px,#b24216 148px,#ba4517 150px,#c44a17 152px,#d14f14 154px,#e45810 156px,#f9650a 158px,#fe8401 160px,#ffb400 162px,#f4e300 164px,#d5e800 166px)"></div><div style="top:92px;background:linear-gradient(90deg,#3aa042 0px,#3aa042 2px,#3da23d 4px,#8fc000 6px,#d6e900 8px,#f1ee00 10px,#fad200 12px,#ffb600 14px,#ff9c00 16px,#ff8900 18px,#fd7d03 20px,#fc7605 22px,#fb7207 24px,#fb7107 26px,#fb7107 28px,#fb7206 30px,#fc7605 32px,#fd7e03 34px,#ff8a00 36px,#ff9e00 38px,#ffb900 40px,#fad400 42px,#f0f000 44px,#d0e400 46px,#88bd05 48px,#3aa043 50px,#369e4a 52px,#379e48 54px,#41a435 56px,#97c400 58px,#dff000 60px,#f2eb00 62px,#fbd100 64px,#ffb800 66px,#ff9f00 68px,#ff8d00 70px,#fe8102 72px,#fd7a04 74px,#fc7606 76px,#fb7306 78px,#fb7306 80px,#fb7306 82px,#fc7506 84px,#fc7805 86px,#fd7f03 88px,#ff8900 90px,#ff9900 92px,#ffb000 94px,#fdca00 96px,#f5e300 98px,#e9f000 100px,#adce00 102px,#55ac21 104px,#3fa339 106px,#3fa338 108px,#79b80d 110px,#c9df00 112px,#f1ec00 114px,#ffc000 116px,#ff8f00 118px,#fb6f08 120px,#ee5c0e 122px,#db5412 124px,#ce4e15 126px,#c54a17 128px,#c04818 130px,#bd4718 132px,#bc4618 134px,#be4718 136px,#bf4818 138px,#bf4818 140px,#be4718 142px,#bc4618 144px,#bd4718 146px,#c04818 148px,#c54a17 150px,#ce4e15 152px,#db5412 154px,#ee5c0e 156px,#fb6f08 158px,#ff8f00 160px,#ffc000 162px,#f1ec00 164px,#c9df00 166px)"></div><div style="top:94px;background:linear-gradient(90deg,#3ca13e 0px,#3ca13e 2px,#46a72c 4px,#9fc800 6px,#e4f000 8px,#f4e500 10px,#fdc900 12px,#ffaa00 14px,#ff8f00 16px,#fd7e03 18px,#fb7306 20px,#fa6c09 22px,#f9680a 24px,#f9660a 26px,#f9660a 28px,#f9680a 30px,#fa6c09 32px,#fb7306 34px,#fd7e03 36px,#ff8f00 38px,#ffaa00 40px,#fdc900 42px,#f4e500 44px,#e4f000 46px,#9fc800 48px,#46a72c 50px,#39a043 52px,#3aa042 54px,#46a72b 56px,#a1c900 58px,#e5f000 60px,#f4e600 62px,#fdcb00 64px,#ffaf00 66px,#ff9700 68px,#fe8501 70px,#fd7a04 72px,#fb7206 74px,#fa6e08 76px,#fa6c09 78px,#fa6b09 80px,#fa6b09 82px,#fa6c08 84px,#fb7007 86px,#fc7605 88px,#fd7f03 90px,#ff8d00 92px,#ffa200 94px,#ffbe00 96px,#f8d800 98px,#eef000 100px,#c6dc00 102px,#76b70e 104px,#3fa338 106px,#40a338 108px,#68b316 110px,#bcd600 112px,#eef000 114px,#fdca00 116px,#ff9b00 118px,#fc7805 120px,#f8600c 122px,#e55810 124px,#d75213 126px,#ce4e15 128px,#c94c16 130px,#c74b17 132px,#c64b17 134px,#c74b17 136px,#c84b16 138px,#c84b16 140px,#c74b17 142px,#c64b17 144px,#c74b17 146px,#c94c16 148px,#ce4e15 150px,#d75213 152px,#e55810 154px,#f8600c 156px,#fc7805 158px,#ff9b00 160px,#fdca00 162px,#eef000 164px,#bcd600 166px)"></div><div style="top:96px;background:linear-gradient(90deg,#3ea23b 0px,#3ea23b 2px,#57ad20 4px,#aecf00 6px,#e9f000 8px,#f6dd00 10px,#ffbf00 12px,#ff9e00 14px,#fe8401 16px,#fc7406 18px,#fa6909 20px,#f8620c 22px,#f55f0d 24px,#f45e0d 26px,#f45e0d 28px,#f55f0d 30px,#f8610c 32px,#f9680a 34px,#fb7306 36px,#fe8302 38px,#ff9b00 40px,#ffbc00 42px,#f7db00 44px,#ebf000 46px,#b3d200 48px,#5fb01b 50px,#3ca13f 52px,#3ca13e 54px,#50ab24 56px,#aacd00 58px,#e9f000 60px,#f5e100 62px,#fec600 64px,#ffa700 66px,#ff8f00 68px,#fd7e03 70px,#fb7306 72px,#fa6c09 74px,#f9670a 76px,#f9640b 78px,#f9640b 80px,#f9640b 82px,#f9650b 84px,#f9680a 86px,#fa6d08 88px,#fc7605 90px,#fe8202 92px,#ff9600 94px,#ffb000 96px,#fccd00 98px,#f2ea00 100px,#ddee00 102px,#94c200 104px,#40a338 106px,#40a337 108px,#56ad20 110px,#afcf00 112px,#eaf000 114px,#fad300 116px,#ffa800 118px,#fe8202 120px,#fa6a09 122px,#ef5c0e 124px,#e15611 126px,#d85213 128px,#d25014 130px,#d04f15 132px,#cf4f15 134px,#d04f15 136px,#d14f14 138px,#d14f14 140px,#d04f15 142px,#cf4f15 144px,#d04f15 146px,#d25014 148px,#d85213 150px,#e15611 152px,#ef5c0e 154px,#fa6a09 156px,#fe8202 158px,#ffa800 160px,#fad300 162px,#eaf000 164px,#afcf00 166px)"></div><div style="top:98px;background:linear-gradient(90deg,#3fa33a 0px,#3fa33a 2px,#68b316 4px,#bbd600 6px,#edf000 8px,#f9d600 10px,#ffb400 12px,#ff9200 14px,#fd7b04 16px,#fa6b09 18px,#f8600c 20px,#ef5c0e 22px,#eb5a0f 24px,#e95a0f 26px,#e95a0f 28px,#ea5a0f 30px,#ee5c0e 32px,#f65f0c 34px,#fa6909 36px,#fc7805 38px,#ff8e00 40px,#ffae00 42px,#fbd100 44px,#eff000 46px,#c7dd00 48px,#78b80d 50px,#3da23c 52px,#3ea23c 54px,#5aae1e 56px,#b2d100 58px,#eaf000 60px,#f7dc00 62px,#ffc000 64px,#ffa000 66px,#ff8800 68px,#fc7805 70px,#fa6d08 72px,#f9650a 74px,#f8600c 76px,#f55f0d 78px,#f45e0d 80px,#f45e0d 82px,#f65f0d 84px,#f8610c 86px,#f9660a 88px,#fa6e08 90px,#fc7904 92px,#ff8a00 94px,#ffa300 96px,#ffc400 98px,#f6df00 100px,#e9f000 102px,#abcd00 104px,#50ab24 106px,#40a337 108px,#46a72c 110px,#a0c800 112px,#e5f000 114px,#f7dc00 116px,#ffb500 118px,#ff8e00 120px,#fb7406 122px,#f8620c 124px,#eb5b0f 126px,#e25611 128px,#dc5412 130px,#d95313 132px,#d95313 134px,#d95313 136px,#da5312 138px,#da5312 140px,#d95313 142px,#d95313 144px,#d95313 146px,#dc5412 148px,#e25611 150px,#eb5b0f 152px,#f8620c 154px,#fb7406 156px,#ff8e00 158px,#ffb500 160px,#f7dc00 162px,#e5f000 164px,#a0c800 166px)"></div><div style="top:100px;background:linear-gradient(90deg,#3fa339 0px,#3fa339 2px,#79b80d 4px,#c8de00 6px,#eff000 8px,#fbce00 10px,#ffa900 12px,#ff8800 14px,#fb7207 16px,#f8620b 18px,#ee5c0e 20px,#e65810 22px,#e15611 24px,#df5511 26px,#df5511 28px,#e05611 30px,#e45710 32px,#eb5b0f 34px,#f7600c 36px,#fa6e08 38px,#fe8202 40px,#ffa000 42px,#fec700 44px,#f3e800 46px,#daeb00 48px,#91c000 50px,#3ea23a 52px,#3ea33a 54px,#63b119 56px,#b9d400 58px,#ecf000 60px,#f8d800 62px,#ffba00 64px,#ff9a00 66px,#fe8202 68px,#fb7206 70px,#f9670a 72px,#f7600c 74px,#f25d0d 76px,#ef5c0e 78px,#ed5b0e 80px,#ed5b0e 82px,#ee5c0e 84px,#f15d0d 86px,#f65f0c 88px,#f9660a 90px,#fb7107 92px,#fe8002 94px,#ff9700 96px,#ffb600 98px,#f9d500 100px,#edf000 102px,#c0d800 104px,#6db414 106px,#40a337 108px,#40a337 110px,#92c100 112px,#daeb00 114px,#f3e600 116px,#ffc300 118px,#ff9b00 120px,#fd7e03 122px,#fa6b09 124px,#f65f0c 126px,#ec5b0f 128px,#e65810 130px,#e35710 132px,#e25711 134px,#e35711 136px,#e35710 138px,#e35710 140px,#e35711 142px,#e25711 144px,#e35710 146px,#e65810 148px,#ec5b0f 150px,#f65f0c 152px,#fa6b09 154px,#fd7e03 156px,#ff9b00 158px,#ffc300 160px,#f3e600 162px,#daeb00 164px,#92c100 166px)"></div><div style="top:102px;background:linear-gradient(90deg,#3fa338 0px,#3fa338 2px,#88bd04 4px,#d4e700 6px,#f2ea00 8px,#fec800 10px,#ff9f00 12px,#fd7f03 14px,#fa6a09 16px,#f15d0d 18px,#e45810 20px,#dc5412 22px,#d85213 24px,#d65113 26px,#d65113 28px,#d75213 30px,#db5312 32px,#e15611 34px,#ed5b0e 36px,#f9640b 38px,#fc7805 40px,#ff9300 42px,#ffbb00 44px,#f6df00 46px,#e6f000 48px,#a2c900 50px,#46a72b 52px,#3fa339 54px,#6ab315 56px,#bed700 58px,#edf000 60px,#f9d500 62px,#ffb400 64px,#ff9400 66px,#fd7d03 68px,#fa6d08 70px,#f8620b 72px,#f15d0d 74px,#eb5b0f 76px,#e8590f 78px,#e75910 80px,#e75910 82px,#e8590f 84px,#ea5a0f 86px,#ef5c0e 88px,#f7600c 90px,#fa6909 92px,#fc7805 94px,#ff8b00 96px,#ffa900 98px,#fccc00 100px,#f1ec00 102px,#d5e800 104px,#89be04 106px,#40a337 108px,#40a337 110px,#7cb90b 112px,#c9df00 114px,#f0f000 116px,#fccd00 118px,#ffa800 120px,#ff8900 122px,#fc7605 124px,#f9680a 126px,#f7600c 128px,#f15d0e 130px,#ee5c0e 132px,#ed5b0e 134px,#ed5b0e 136px,#ed5b0e 138px,#ed5b0e 140px,#ed5b0e 142px,#ed5b0e 144px,#ee5c0e 146px,#f15d0e 148px,#f7600c 150px,#f9680a 152px,#fc7605 154px,#ff8900 156px,#ffa800 158px,#fccd00 160px,#f0f000 162px,#c9df00 164px,#7cb90b 166px)"></div><div style="top:104px;background:linear-gradient(90deg,#40a338 0px,#40a338 2px,#95c200 4px,#dfef00 6px,#f4e400 8px,#ffc000 10px,#ff9500 12px,#fc7705 14px,#f8620b 16px,#e8590f 18px,#dc5412 20px,#d45014 22px,#cf4e15 24px,#cd4e15 26px,#cd4e15 28px,#ce4e15 30px,#d14f14 32px,#d85213 34px,#e35711 36px,#f25e0d 38px,#fa6e08 40px,#ff8700 42px,#ffae00 44px,#f9d500 46px,#ebf000 48px,#b2d100 50px,#5aae1e 52px,#3fa338 54px,#70b512 56px,#c3da00 58px,#eef000 60px,#fad200 62px,#ffaf00 64px,#ff8e00 66px,#fc7805 68px,#f96809 70px,#f55f0d 72px,#ec5b0f 74px,#e65810 76px,#e35711 78px,#e15611 80px,#e15611 82px,#e25611 84px,#e45710 86px,#e8590f 88px,#f05c0e 90px,#f8620b 92px,#fb7007 94px,#fe8202 96px,#ff9e00 98px,#ffc200 100px,#f5e200 102px,#e4f000 104px,#9ec700 106px,#43a531 108px,#40a337 110px,#66b217 112px,#b8d400 114px,#ecf000 116px,#f9d600 118px,#ffb600 120px,#ff9700 122px,#fe8102 124px,#fb7306 126px,#fa6909 128px,#f9630b 130px,#f8600c 132px,#f7600c 134px,#f7600c 136px,#f8600c 138px,#f8600c 140px,#f7600c 142px,#f7600c 144px,#f8600c 146px,#f9630b 148px,#fa6909 150px,#fb7306 152px,#fe8102 154px,#ff9700 156px,#ffb600 158px,#f9d600 160px,#ecf000 162px,#b8d400 164px,#66b217 166px)"></div><div style="top:106px;background:linear-gradient(90deg,#40a337 0px,#43a530 2px,#9ec700 4px,#e4f000 6px,#f6de00 8px,#ffb700 10px,#ff8c00 12px,#fb7007 14px,#f25d0d 16px,#e05611 18px,#d45014 20px,#cc4d16 22px,#c74b16 24px,#c54a17 26px,#c54a17 28px,#c64a17 30px,#c94c16 32px,#cf4f15 34px,#da5312 36px,#e9590f 38px,#f9650a 40px,#fd7e03 42px,#ffa100 44px,#fccc00 46px,#eff000 48px,#c2d900 50px,#6fb512 52px,#40a338 54px,#75b70f 56px,#c7dd00 58px,#eff000 60px,#fbcf00 62px,#ffaa00 64px,#ff8900 66px,#fc7406 68px,#f9640b 70px,#f05c0e 72px,#e75910 74px,#e15611 76px,#dd5512 78px,#dc5412 80px,#dc5412 82px,#dc5412 84px,#de5512 86px,#e25711 88px,#e95a0f 90px,#f35e0d 92px,#f96809 94px,#fd7a04 96px,#ff9200 98px,#ffb600 100px,#f8d800 102px,#ebf000 104px,#b1d000 106px,#56ad20 108px,#40a337 110px,#4eaa25 112px,#a6cb00 114px,#e7f000 116px,#f5e100 118px,#ffc500 120px,#ffa500 122px,#ff8d00 124px,#fd7d03 126px,#fb7406 128px,#fa6e08 130px,#fa6a09 132px,#fa6909 134px,#fa6909 136px,#fa6909 138px,#fa6909 140px,#fa6909 142px,#fa6909 144px,#fa6a09 146px,#fa6e08 148px,#fb7406 150px,#fd7d03 152px,#ff8d00 154px,#ffa500 156px,#ffc500 158px,#f5e100 160px,#e7f000 162px,#a6cb00 164px,#4eaa25 166px)"></div><div style="top:108px;background:linear-gradient(90deg,#40a337 0px,#49a827 2px,#a7cb00 4px,#e8f000 6px,#f8d800 8px,#ffae00 10px,#fe8501 12px,#fa6909 14px,#ea5a0f 16px,#d95313 18px,#cc4d15 20px,#c44a17 22px,#bf4818 24px,#bc4618 26px,#bc4618 28px,#bd4718 30px,#c14818 32px,#c74b16 34px,#d14f14 36px,#e05611 38px,#f45e0d 40px,#fc7406 42px,#ff9600 44px,#ffc400 46px,#f2ea00 48px,#d1e400 50px,#83bc07 52px,#40a337 54px,#79b80d 56px,#cae000 58px,#f0ef00 60px,#fccc00 62px,#ffa600 64px,#ff8601 66px,#fb7007 68px,#f8600c 70px,#eb5a0f 72px,#e25711 74px,#dc5412 76px,#d95313 78px,#d75213 80px,#d75213 82px,#d75213 84px,#d95313 86px,#dd5412 88px,#e35711 90px,#ec5b0f 92px,#f8620c 94px,#fb7207 96px,#ff8800 98px,#ffaa00 100px,#fbd000 102px,#eff000 104px,#c3da00 106px,#6fb512 108px,#40a337 110px,#40a337 112px,#93c200 114px,#daeb00 116px,#f2eb00 118px,#fbcf00 120px,#ffb300 122px,#ff9b00 124px,#ff8900 126px,#fd7f03 128px,#fc7805 130px,#fc7506 132px,#fb7306 134px,#fb7306 136px,#fb7306 138px,#fb7306 140px,#fb7306 142px,#fb7306 144px,#fc7506 146px,#fc7805 148px,#fd7f03 150px,#ff8900 152px,#ff9b00 154px,#ffb300 156px,#fbcf00 158px,#f2eb00 160px,#daeb00 162px,#93c200 164px,#40a337 166px)"></div><div style="top:110px;background:linear-gradient(90deg,#40a337 0px,#54ac21 2px,#afcf00 4px,#ebf000 6px,#fad300 8px,#ffa600 10px,#fd7e03 12px,#f8630b 14px,#e35710 16px,#d25014 18px,#c54a17 20px,#bc4617 22px,#b44317 24px,#b14216 26px,#b14116 28px,#b24216 30px,#b64417 32px,#bf4818 34px,#c94c16 36px,#d75213 38px,#eb5a0f 40px,#fa6c08 42px,#ff8a00 44px,#ffb800 46px,#f5e200 48px,#dfef00 50px,#94c200 52px,#40a337 54px,#7cb90b 56px,#cde200 58px,#f1ee00 60px,#fdca00 62px,#ffa300 64px,#fe8202 66px,#fa6d08 68px,#f45e0d 70px,#e75910 72px,#de5512 74px,#d85213 76px,#d45114 78px,#d35014 80px,#d25014 82px,#d35014 84px,#d45114 86px,#d75213 88px,#dd5512 90px,#e65810 92px,#f35e0d 94px,#fa6b09 96px,#fe8002 98px,#ff9f00 100px,#fec700 102px,#f2ea00 104px,#d4e700 106px,#87bd05 108px,#40a337 110px,#40a337 112px,#79b80d 114px,#c5dc00 116px,#eef000 118px,#f8d900 120px,#ffc200 122px,#ffa900 124px,#ff9700 126px,#ff8a00 128px,#fe8301 130px,#fe7f03 132px,#fd7e03 134px,#fd7d03 136px,#fd7e03 138px,#fd7e03 140px,#fd7d03 142px,#fd7e03 144px,#fe7f03 146px,#fe8301 148px,#ff8a00 150px,#ff9700 152px,#ffa900 154px,#ffc200 156px,#f8d900 158px,#eef000 160px,#c5dc00 162px,#79b80d 164px,#40a337 166px)"></div><div style="top:112px;background:linear-gradient(90deg,#40a337 0px,#5eaf1c 2px,#b6d300 4px,#ecf000 6px,#fcce00 8px,#ff9f00 10px,#fc7805 12px,#f45e0d 14px,#dd5412 16px,#cb4d16 18px,#be4718 20px,#b14216 22px,#aa3f15 24px,#a73d15 26px,#a63d15 28px,#a73d15 30px,#ac3f16 32px,#b44317 34px,#c24918 36px,#d04f15 38px,#e35711 40px,#f9640b 42px,#fe8102 44px,#ffad00 46px,#f8d900 48px,#e6f000 50px,#a1c900 52px,#45a62e 54px,#7eba0a 56px,#cfe300 58px,#f1ec00 60px,#fdc900 62px,#ffa000 64px,#fe8002 66px,#fa6a09 68px,#f15d0e 70px,#e45710 72px,#da5312 74px,#d45114 76px,#d14f14 78px,#cf4e15 80px,#ce4e15 82px,#cf4e15 84px,#d04f15 86px,#d35014 88px,#d85213 90px,#e05611 92px,#ec5b0e 94px,#f9650b 96px,#fc7905 98px,#ff9500 100px,#ffbd00 102px,#f5e100 104px,#e3f000 106px,#9ac500 108px,#40a337 110px,#40a337 112px,#5caf1d 114px,#afcf00 116px,#e9f000 118px,#f4e400 120px,#fccd00 122px,#ffb800 124px,#ffa500 126px,#ff9800 128px,#ff9000 130px,#ff8b00 132px,#ff8900 134px,#ff8800 136px,#ff8800 138px,#ff8800 140px,#ff8800 142px,#ff8900 144px,#ff8b00 146px,#ff9000 148px,#ff9800 150px,#ffa500 152px,#ffb800 154px,#fccd00 156px,#f4e400 158px,#e9f000 160px,#afcf00 162px,#5caf1d 164px,#40a337 166px)"></div><div style="top:114px;background:linear-gradient(90deg,#40a337 0px,#67b217 2px,#bdd600 4px,#eef000 6px,#fdca00 8px,#ff9800 10px,#fb7306 12px,#ee5c0e 14px,#d75213 16px,#c54a17 18px,#b54317 20px,#a83e15 22px,#a13b14 24px,#9d3914 26px,#9d3914 28px,#9e3914 30px,#a23b15 32px,#aa3f15 34px,#b84517 36px,#c84b16 38px,#db5312 40px,#f45e0d 42px,#fc7904 44px,#ffa200 46px,#fad200 48px,#eaf000 50px,#aecf00 52px,#52ab23 54px,#7fba09 56px,#d0e400 58px,#f2ec00 60px,#fec700 62px,#ff9d00 64px,#fd7d03 66px,#f9670a 68px,#ee5c0e 70px,#e05611 72px,#d75213 74px,#d14f14 76px,#cd4e15 78px,#cb4d16 80px,#cb4d16 82px,#cb4d16 84px,#cc4d15 86px,#cf4e15 88px,#d45014 90px,#db5412 92px,#e65810 94px,#f65f0c 96px,#fb7207 98px,#ff8b00 100px,#ffb200 102px,#f8d800 104px,#e9f000 106px,#aacd00 108px,#4ba926 110px,#40a337 112px,#44a630 114px,#97c400 116px,#dced00 118px,#f0ef00 120px,#f8d800 122px,#fec600 124px,#ffb400 126px,#ffa700 128px,#ff9e00 130px,#ff9900 132px,#ff9600 134px,#ff9600 136px,#ff9600 138px,#ff9600 140px,#ff9600 142px,#ff9600 144px,#ff9900 146px,#ff9e00 148px,#ffa700 150px,#ffb400 152px,#fec600 154px,#f8d800 156px,#f0ef00 158px,#dced00 160px,#97c400 162px,#44a630 164px,#40a337 166px)"></div><div style="top:116px;background:linear-gradient(90deg,#40a337 0px,#6fb513 2px,#c3da00 4px,#f0f000 6px,#fec600 8px,#ff9200 10px,#fa6d08 12px,#e8590f 14px,#d14f14 16px,#bf4818 18px,#ac3f16 20px,#9f3a14 22px,#983713 24px,#953513 26px,#943513 28px,#953613 30px,#993714 32px,#a13b14 34px,#ae4016 36px,#c14918 38px,#d35014 40px,#ec5b0f 42px,#fb7107 44px,#ff9800 46px,#fdca00 48px,#eef000 50px,#bad500 52px,#62b11a 54px,#80bb09 56px,#d0e400 58px,#f2eb00 60px,#fec600 62px,#ff9b00 64px,#fd7b04 66px,#f9650a 68px,#eb5a0f 70px,#dd5512 72px,#d45114 74px,#ce4e15 76px,#ca4c16 78px,#c84b16 80px,#c84b16 82px,#c84b16 84px,#c94c16 86px,#cb4d16 88px,#cf4f15 90px,#d65213 92px,#e15611 94px,#f05d0e 96px,#fa6b09 98px,#fe8301 100px,#ffa800 102px,#fbd100 104px,#edf000 106px,#b9d500 108px,#60b01b 110px,#40a337 112px,#40a337 114px,#79b80d 116px,#c2d900 118px,#ecf000 120px,#f4e300 122px,#fbd100 124px,#ffc400 126px,#ffb600 128px,#ffad00 130px,#ffa700 132px,#ffa500 134px,#ffa400 136px,#ffa400 138px,#ffa400 140px,#ffa400 142px,#ffa500 144px,#ffa700 146px,#ffad00 148px,#ffb600 150px,#ffc400 152px,#fbd100 154px,#f4e300 156px,#ecf000 158px,#c2d900 160px,#79b80d 162px,#40a337 164px,#40a337 166px)"></div><div style="top:118px;background:linear-gradient(90deg,#40a337 0px,#76b70f 2px,#c8de00 4px,#f1ec00 6px,#ffc100 8px,#ff8c00 10px,#fa6909 12px,#e35710 14px,#cc4d16 16px,#b74417 18px,#a43c15 20px,#973713 22px,#903313 24px,#8d3212 26px,#8c3212 28px,#8d3212 30px,#903413 32px,#983713 34px,#a53c15 36px,#b84517 38px,#cc4d15 40px,#e45710 42px,#fa6a09 44px,#ff8e00 46px,#ffc300 48px,#f1ee00 50px,#c5dc00 52px,#72b611 54px,#7fba09 56px,#d0e400 58px,#f2eb00 60px,#fec600 62px,#ff9a00 64px,#fc7a04 66px,#f9630b 68px,#e9590f 70px,#db5412 72px,#d14f14 74px,#cb4d16 76px,#c74b16 78px,#c54a17 80px,#c54a17 82px,#c54a17 84px,#c54a17 86px,#c84b16 88px,#cc4d16 90px,#d25014 92px,#dc5412 94px,#ea5a0f 96px,#f9650a 98px,#fd7c04 100px,#ff9e00 102px,#fdc900 104px,#f0ef00 106px,#c8de00 108px,#74b70f 110px,#40a337 112px,#40a337 114px,#55ac21 116px,#a6cb00 118px,#e5f000 120px,#f1ee00 122px,#f7dc00 124px,#fbcf00 126px,#ffc500 128px,#ffbc00 130px,#ffb600 132px,#ffb300 134px,#ffb200 136px,#ffb200 138px,#ffb200 140px,#ffb200 142px,#ffb300 144px,#ffb600 146px,#ffbc00 148px,#ffc500 150px,#fbcf00 152px,#f7dc00 154px,#f1ee00 156px,#e5f000 158px,#a6cb00 160px,#55ac21 162px,#40a337 164px,#40a337 166px)"></div><div style="top:120px;background:linear-gradient(90deg,#40a337 0px,#7cb90b 2px,#cde200 4px,#f2e900 6px,#ffbb00 8px,#ff8700 10px,#f9640b 12px,#de5512 14px,#c74b17 16px,#b04116 18px,#9d3914 20px,#903313 22px,#893012 24px,#852f11 26px,#852f11 28px,#852f11 30px,#883012 32px,#903312 34px,#9c3914 36px,#af4116 38px,#c64b17 40px,#dd5412 42px,#f9630b 44px,#ff8601 46px,#ffb900 48px,#f3e700 50px,#d0e400 52px,#81bb09 54px,#7eba0a 56px,#cfe300 58px,#f2eb00 60px,#ffc500 62px,#ff9900 64px,#fc7805 66px,#f8620c 68px,#e75910 70px,#d95313 72px,#cf4f15 74px,#c94c16 76px,#c54a17 78px,#c34917 80px,#c24918 82px,#c24918 84px,#c34917 86px,#c54a17 88px,#c84c16 90px,#ce4e15 92px,#d85213 94px,#e55810 96px,#f8600c 98px,#fc7605 100px,#ff9500 102px,#ffc100 104px,#f3e700 106px,#d6e900 108px,#88bd04 110px,#40a337 112px,#40a337 114px,#40a337 116px,#87bd05 118px,#c9df00 120px,#ecf000 122px,#f3e700 124px,#f8da00 126px,#fbd000 128px,#fdc900 130px,#ffc500 132px,#ffc200 134px,#ffc100 136px,#ffc100 138px,#ffc100 140px,#ffc100 142px,#ffc200 144px,#ffc500 146px,#fdc900 148px,#fbd000 150px,#f8da00 152px,#f3e700 154px,#ecf000 156px,#c9df00 158px,#87bd05 160px,#40a337 162px,#40a337 164px,#40a337 166px)"></div><div style="top:122px;background:linear-gradient(90deg,#40a337 0px,#82bb08 2px,#d2e500 4px,#f3e600 6px,#ffb700 8px,#fe8301 10px,#f8600c 12px,#da5312 14px,#c24918 16px,#a93e15 18px,#963613 20px,#893112 22px,#822d11 24px,#7f2c11 26px,#7e2c10 28px,#7e2c10 30px,#812d11 32px,#883012 34px,#943513 36px,#a63d15 38px,#c04818 40px,#d75213 42px,#f45e0d 44px,#fd7f03 46px,#ffb000 48px,#f5e000 50px,#dbec00 52px,#8fc001 54px,#7bb90c 56px,#cde200 58px,#f1ec00 60px,#ffc500 62px,#ff9800 64px,#fc7705 66px,#f8600c 68px,#e55810 70px,#d75213 72px,#cd4e15 74px,#c74b17 76px,#c34917 78px,#c14818 80px,#c04818 82px,#c04818 84px,#c04818 86px,#c24918 88px,#c54a17 90px,#cb4d16 92px,#d45014 94px,#e05611 96px,#f25d0d 98px,#fb7007 100px,#ff8c00 102px,#ffb700 104px,#f6df00 106px,#e2f000 108px,#98c400 110px,#40a337 112px,#40a337 114px,#40a337 116px,#5daf1c 118px,#a8cc00 120px,#e4f000 122px,#eff000 124px,#f4e500 126px,#f7db00 128px,#fad400 130px,#fbd000 132px,#fccd00 134px,#fccc00 136px,#fccc00 138px,#fccc00 140px,#fccc00 142px,#fccd00 144px,#fbd000 146px,#fad400 148px,#f7db00 150px,#f4e500 152px,#eff000 154px,#e4f000 156px,#a8cc00 158px,#5daf1c 160px,#40a337 162px,#40a337 164px,#40a337 166px)"></div><div style="top:124px;background:linear-gradient(90deg,#40a337 0px,#87bd05 2px,#d5e800 4px,#f4e300 6px,#ffb200 8px,#fe8003 10px,#f45e0d 12px,#d65113 14px,#bd4718 16px,#a23b15 18px,#903312 20px,#832e11 22px,#7c2b10 24px,#782910 26px,#782910 28px,#782910 30px,#7b2a10 32px,#812d11 34px,#8d3212 36px,#9e3914 38px,#b74417 40px,#d04f14 42px,#ed5b0e 44px,#fc7805 46px,#ffa700 48px,#f8da00 50px,#e2f000 52px,#99c400 54px,#78b80d 56px,#cbe000 58px,#f1ed00 60px,#fec600 62px,#ff9800 64px,#fc7705 66px,#f7600c 68px,#e45710 70px,#d55113 72px,#cc4d16 74px,#c54a17 76px,#c14818 78px,#be4718 80px,#bd4718 82px,#bd4718 84px,#bd4718 86px,#c04818 88px,#c34917 90px,#c84b16 92px,#d04f15 94px,#dc5412 96px,#ed5b0e 98px,#fa6a09 100px,#fe8501 102px,#ffae00 104px,#f8d800 106px,#e8f000 108px,#a5cb00 110px,#46a72c 112px,#3fa338 114px,#3fa338 116px,#3fa338 118px,#82bb08 120px,#c2d900 122px,#eaf000 124px,#f0f000 126px,#f3e600 128px,#f6df00 130px,#f7da00 132px,#f8d800 134px,#f9d700 136px,#f9d600 138px,#f9d600 140px,#f9d700 142px,#f8d800 144px,#f7da00 146px,#f6df00 148px,#f3e600 150px,#f0f000 152px,#eaf000 154px,#c2d900 156px,#82bb08 158px,#3fa338 160px,#3fa338 162px,#40a338 164px,#40a338 166px)"></div><div style="top:126px;background:linear-gradient(90deg,#40a337 0px,#8cbf02 2px,#d9eb00 4px,#f5e100 6px,#ffaf00 8px,#fd7c03 10px,#f15d0e 12px,#d25014 14px,#b84417 16px,#9d3914 18px,#8a3112 20px,#7e2c10 22px,#77290f 24px,#73270f 26px,#72270f 28px,#73270f 30px,#75280f 32px,#7b2b10 34px,#862f11 36px,#973613 38px,#af4116 40px,#cb4d16 42px,#e75910 44px,#fb7207 46px,#ff9f00 48px,#fad400 50px,#e7f000 52px,#a2c900 54px,#75b70f 56px,#c9df00 58px,#f1ee00 60px,#fec600 62px,#ff9800 64px,#fc7605 66px,#f65f0c 68px,#e25711 70px,#d45114 72px,#ca4c16 74px,#c34917 76px,#bf4818 78px,#bc4618 80px,#ba4617 82px,#ba4517 84px,#bb4617 86px,#bd4718 88px,#c04818 90px,#c54a17 92px,#cd4d15 94px,#d85213 96px,#e8590f 98px,#f9650a 100px,#fd7f03 102px,#ffa500 104px,#fad100 106px,#ecf000 108px,#b2d100 110px,#55ac21 112px,#3ea33a 114px,#3ea23b 116px,#3ea23b 118px,#50ab24 120px,#9ac500 122px,#d3e600 124px,#ebf000 126px,#eff000 128px,#f2ea00 130px,#f4e600 132px,#f4e300 134px,#f5e200 136px,#f5e100 138px,#f5e100 140px,#f5e200 142px,#f4e300 144px,#f4e600 146px,#f2ea00 148px,#eff000 150px,#ebf000 152px,#d3e600 154px,#9ac500 156px,#50ab24 158px,#3ea23b 160px,#3ea23b 162px,#3ea33a 164px,#3fa339 166px)"></div><div style="top:128px;background:linear-gradient(90deg,#40a337 0px,#8fc000 2px,#dced00 4px,#f6df00 6px,#ffab00 8px,#fc7904 10px,#ed5b0e 12px,#cf4e15 14px,#b24216 16px,#983713 18px,#852f11 20px,#792910 22px,#72260e 24px,#6e250e 26px,#6d250e 28px,#6e250e 30px,#70260e 32px,#76280f 34px,#802d11 36px,#903313 38px,#a83e15 40px,#c54a17 42px,#e15611 44px,#fa6c08 46px,#ff9700 48px,#fcce00 50px,#eaf000 52px,#abcd00 54px,#70b512 56px,#c6dc00 58px,#f0ef00 60px,#fec700 62px,#ff9900 64px,#fc7605 66px,#f65f0c 68px,#e25611 70px,#d35014 72px,#c94c16 74px,#c24918 76px,#bd4718 78px,#ba4517 80px,#b84517 82px,#b84417 84px,#b84517 86px,#ba4517 88px,#be4718 90px,#c34917 92px,#ca4c16 94px,#d45114 96px,#e35710 98px,#f8600c 100px,#fc7904 102px,#ff9d00 104px,#fdcb00 106px,#eff000 108px,#bed700 110px,#66b218 112px,#3ba140 114px,#3aa042 116px,#3aa043 118px,#39a044 120px,#63b119 122px,#a4ca00 124px,#d9eb00 126px,#eaf000 128px,#edf000 130px,#eff000 132px,#f1ee00 134px,#f1ed00 136px,#f1ed00 138px,#f1ed00 140px,#f1ed00 142px,#f1ee00 144px,#eff000 146px,#edf000 148px,#eaf000 150px,#d9eb00 152px,#a4ca00 154px,#63b119 156px,#39a043 158px,#3aa042 160px,#3ba041 162px,#3ca13f 164px,#3da23d 166px)"></div><div style="top:130px;background:linear-gradient(90deg,#40a337 0px,#92c100 2px,#deee00 4px,#f7dd00 6px,#ffa800 8px,#fc7705 10px,#ea5a0f 12px,#cc4d16 14px,#ae4016 16px,#933513 18px,#802d11 20px,#74280f 22px,#6d250e 24px,#6a230d 26px,#69230d 28px,#69230d 30px,#6c240d 32px,#71260e 34px,#7a2a10 36px,#8a3112 38px,#a13b14 40px,#c04818 42px,#dc5412 44px,#f9660a 46px,#ff9000 48px,#fdc900 50px,#ecf000 52px,#b3d200 54px,#6bb414 56px,#c2da00 58px,#f0f000 60px,#fdc900 62px,#ff9a00 64px,#fc7705 66px,#f65f0c 68px,#e15611 70px,#d25014 72px,#c84b16 74px,#c14818 76px,#bb4617 78px,#b84417 80px,#b64417 82px,#b64417 84px,#b64417 86px,#b84417 88px,#bb4617 90px,#c14818 92px,#c74b16 94px,#d14f14 96px,#df5511 98px,#f35e0d 100px,#fb7406 102px,#ff9600 104px,#ffc500 106px,#f1ed00 108px,#cadf00 110px,#76b70e 112px,#349d4d 114px,#329c51 116px,#319b54 118px,#309a55 120px,#39a043 122px,#69b316 124px,#a3c900 126px,#cfe400 128px,#e9f000 130px,#ebf000 132px,#ecf000 134px,#edf000 136px,#edf000 138px,#edf000 140px,#edf000 142px,#ecf000 144px,#ebf000 146px,#e9f000 148px,#cfe400 150px,#a3c900 152px,#69b316 154px,#39a043 156px,#309b54 158px,#319b52 160px,#339c4f 162px,#359e4b 164px,#389f46 166px)"></div><div style="top:132px;background:linear-gradient(90deg,#40a337 0px,#94c200 2px,#e0f000 4px,#f7db00 6px,#ffa600 8px,#fc7506 10px,#e85910 12px,#c94c16 14px,#a93e15 16px,#8f3312 18px,#7c2b10 20px,#71260e 22px,#6a230d 24px,#66220c 26px,#65210c 28px,#65210c 30px,#67220c 32px,#6c240d 34px,#75280f 36px,#842e11 38px,#9a3814 40px,#ba4517 42px,#d75213 44px,#f8610c 46px,#ff8900 48px,#ffc400 50px,#eff000 52px,#bbd600 54px,#66b217 56px,#bed700 58px,#eff000 60px,#fdca00 62px,#ff9b00 64px,#fc7705 66px,#f65f0c 68px,#e15611 70px,#d25014 72px,#c74b16 74px,#c04818 76px,#ba4517 78px,#b64417 80px,#b54317 82px,#b44317 84px,#b44317 86px,#b64417 88px,#b94517 90px,#be4718 92px,#c54a17 94px,#ce4e15 96px,#dc5412 98px,#ef5c0e 100px,#fb6f07 102px,#ff8e00 104px,#ffbd00 106px,#f3e600 108px,#d5e800 110px,#86bd06 112px,#349d4e 114px,#27926e 116px,#269074 118px,#258f78 120px,#258f78 122px,#389f47 124px,#5caf1d 126px,#91c100 128px,#b4d200 130px,#d0e400 132px,#e1f000 134px,#e6f000 136px,#e8f000 138px,#e8f000 140px,#e6f000 142px,#e1f000 144px,#d0e400 146px,#b4d200 148px,#91c100 150px,#5caf1d 152px,#389f47 154px,#268f76 156px,#269074 158px,#269270 160px,#279469 162px,#2a975f 164px,#309b55 166px)"></div><div style="top:134px;background:linear-gradient(90deg,#40a337 0px,#95c300 2px,#e1f000 4px,#f7da00 6px,#ffa400 8px,#fb7306 10px,#e55810 12px,#c64b17 14px,#a63d15 16px,#8b3112 18px,#792910 20px,#6d240e 22px,#66220c 24px,#63200c 26px,#62200b 28px,#62200b 30px,#64200c 32px,#68220d 34px,#71260e 36px,#7f2c11 38px,#953513 40px,#b34217 42px,#d25014 44px,#f45e0d 46px,#fe8301 48px,#ffbc00 50px,#f1ee00 52px,#c3da00 54px,#6cb414 56px,#bad500 58px,#eef000 60px,#fccc00 62px,#ff9d00 64px,#fc7805 66px,#f65f0c 68px,#e15611 70px,#d14f14 72px,#c74b17 74px,#bf4818 76px,#b94517 78px,#b54317 80px,#b34317 82px,#b34217 84px,#b34217 86px,#b44317 88px,#b74417 90px,#bc4617 92px,#c34917 94px,#cb4d16 96px,#d85213 98px,#eb5a0f 100px,#fa6a09 102px,#ff8800 104px,#ffb500 106px,#f6e000 108px,#e0f000 110px,#94c200 112px,#3ba041 114px,#20819e 116px,#1f7ea8 118px,#1f7dae 120px,#1f7dad 122px,#248a84 124px,#2d995a 126px,#42a434 128px,#62b11a 130px,#83bc07 132px,#97c400 134px,#a0c800 136px,#a3ca00 138px,#a3ca00 140px,#a0c800 142px,#97c400 144px,#83bc07 146px,#62b11a 148px,#42a434 150px,#2d995a 152px,#248a84 154px,#207fa5 156px,#2080a2 158px,#21829b 160px,#22868f 162px,#248c7e 164px,#27946b 166px)"></div><div style="top:136px;background:linear-gradient(90deg,#40a337 0px,#96c300 2px,#e1f000 4px,#f8d900 6px,#ffa200 8px,#fb7107 10px,#e35710 12px,#c44a17 14px,#a23b15 16px,#883012 18px,#76280f 20px,#6a230d 22px,#63200c 24px,#601f0b 26px,#5f1e0b 28px,#5f1e0b 30px,#611f0b 32px,#65210c 34px,#6d240e 36px,#7a2a10 38px,#8f3312 40px,#ad4016 42px,#cd4e15 44px,#ef5c0e 46px,#fd7e03 48px,#ffb600 50px,#f2e900 52px,#cae000 54px,#76b70e 56px,#b5d300 58px,#edf000 60px,#fcce00 62px,#ff9f00 64px,#fc7904 66px,#f7600c 68px,#e15611 70px,#d14f14 72px,#c64b17 74px,#bf4718 76px,#b84417 78px,#b44317 80px,#b24216 82px,#b24216 84px,#b24216 86px,#b34216 88px,#b54317 90px,#b94517 92px,#c14818 94px,#c94c16 96px,#d55113 98px,#e75910 100px,#f9660a 102px,#fe8302 104px,#ffad00 106px,#f8da00 108px,#e5f000 110px,#9ec700 112px,#41a435 114px,#228591 116px,#1a71dd 118px,#1d66d4 120px,#1b72d9 122px,#1d79bd 124px,#2080a1 126px,#248b81 128px,#289663 130px,#349d4d 132px,#3da23c 134px,#42a533 136px,#44a630 138px,#44a630 140px,#42a533 142px,#3da23c 144px,#349d4d 146px,#289663 148px,#248b81 150px,#2080a1 152px,#1d79bd 154px,#1c75ce 156px,#1c76c9 158px,#1d78c1 160px,#1e7bb4 162px,#2080a1 164px,#248a84 166px)"></div><div style="top:138px;background:linear-gradient(90deg,#40a337 0px,#97c300 2px,#e2f000 4px,#f8d800 6px,#ffa100 8px,#fb7007 10px,#e25611 12px,#c34917 14px,#a03a14 16px,#852f11 18px,#73270f 20px,#67220c 22px,#611f0b 24px,#5d1e0b 26px,#5c1d0a 28px,#5c1d0a 30px,#5e1e0b 32px,#62200b 34px,#6a230d 36px,#76280f 38px,#8b3112 40px,#a73d15 42px,#c94c16 44px,#ea5a0f 46px,#fc7a04 48px,#ffaf00 50px,#f4e400 52px,#d1e500 54px,#80bb09 56px,#b0d000 58px,#ebf000 60px,#fbd000 62px,#ffa200 64px,#fd7b04 66px,#f8600c 68px,#e25611 70px,#d14f14 72px,#c64b17 74px,#be4718 76px,#b74417 78px,#b34317 80px,#b14216 82px,#b14216 84px,#b14216 86px,#b24216 88px,#b34317 90px,#b84417 92px,#bf4818 94px,#c74b17 96px,#d35014 98px,#e45710 100px,#f8620b 102px,#fd7e03 104px,#ffa600 106px,#f9d400 108px,#e9f000 110px,#a9cc00 112px,#48a829 114px,#248a85 116px,#1b73d4 118px,#293da3 120px,#244fb9 122px,#1e63d1 124px,#1b72da 126px,#1c76c6 128px,#1e7bb4 130px,#1f7fa5 132px,#218398 134px,#22868f 136px,#23878c 138px,#23878c 140px,#22868f 142px,#218398 144px,#1f7fa5 146px,#1e7bb4 148px,#1c76c6 150px,#1b72da 152px,#1e63d1 154px,#1d65d2 156px,#1c69d8 158px,#1a71dd 160px,#1c75cd 162px,#1e7bb5 164px,#218398 166px)"></div><div style="top:140px;background:linear-gradient(90deg,#40a337 0px,#97c400 2px,#e2f000 4px,#f8d800 6px,#ffa000 8px,#fb6f08 10px,#e05611 12px,#c14918 14px,#9d3914 16px,#822e11 18px,#70260e 20px,#65210c 22px,#5e1e0b 24px,#5b1d0a 26px,#5a1c0a 28px,#5a1c0a 30px,#5b1d0a 32px,#5f1e0b 34px,#66220c 36px,#73270f 38px,#862f11 40px,#a23b15 42px,#c64a17 44px,#e65810 46px,#fc7506 48px,#ffa900 50px,#f6e000 52px,#d7ea00 54px,#89be04 56px,#abcd00 58px,#eaf000 60px,#fad300 62px,#ffa500 64px,#fd7c03 66px,#f8610c 68px,#e25711 70px,#d25014 72px,#c64b17 74px,#be4718 76px,#b64417 78px,#b34216 80px,#b14116 82px,#b04116 84px,#b04116 86px,#b14116 88px,#b24216 90px,#b64417 92px,#bd4718 94px,#c54a17 96px,#d04f15 98px,#e05611 100px,#f75f0c 102px,#fc7904 104px,#ffa000 106px,#fbcf00 108px,#ecf000 110px,#b2d100 112px,#55ac21 114px,#258f78 116px,#1c75cb 118px,#2744ac 120px,#3235a0 122px,#2746ae 124px,#1f61ce 126px,#1b73d6 128px,#1d79bd 130px,#1f7eaa 132px,#21829a 134px,#228690 136px,#23878c 138px,#23878d 140px,#228494 142px,#2080a2 144px,#1e7bb3 146px,#1c76c9 148px,#1b6ddd 150px,#2158c4 152px,#215ac6 154px,#205dc9 156px,#1e62cf 158px,#1b6bda 160px,#1b73d4 162px,#1d79bc 164px,#20819e 166px)"></div><div style="top:142px;background:linear-gradient(90deg,#40a337 0px,#97c400 2px,#e2f000 4px,#f8d800 6px,#ff9f00 8px,#fa6e08 10px,#df5511 12px,#c04818 14px,#9b3814 16px,#802d11 18px,#6e250e 20px,#63200c 22px,#5c1d0a 24px,#591c0a 26px,#581b09 28px,#581b09 30px,#591c0a 32px,#5d1d0a 34px,#64200c 36px,#70260e 38px,#822d11 40px,#9e3914 42px,#c24918 44px,#e25711 46px,#fb7107 48px,#ffa400 50px,#f7dc00 52px,#ddee00 54px,#91c000 56px,#a5cb00 58px,#e8f000 60px,#f9d600 62px,#ffa800 64px,#fd7e03 66px,#f8620b 68px,#e35710 70px,#d25014 72px,#c64b17 74px,#be4718 76px,#b64417 78px,#b24216 80px,#b04116 82px,#b04116 84px,#b04116 86px,#b04116 88px,#b14216 90px,#b54317 92px,#bb4617 94px,#c34917 96px,#ce4e15 98px,#dd5512 100px,#f35e0d 102px,#fc7506 104px,#ff9a00 106px,#fdca00 108px,#eef000 110px,#bcd600 112px,#62b11a 114px,#27936d 116px,#1d78c2 118px,#254cb5 120px,#2353be 122px,#1a71db 124px,#1e7ab7 126px,#228593 128px,#27926e 130px,#329b52 132px,#3ca13e 134px,#42a533 136px,#44a630 138px,#43a531 140px,#40a338 142px,#389f47 144px,#2b985f 146px,#248c80 148px,#1f7fa6 150px,#1c76c8 152px,#1c68d7 154px,#1b6bda 156px,#1a70e0 158px,#1b72d7 160px,#1c76c7 162px,#1e7cb0 164px,#228593 166px)"></div><div style="top:144px;background:linear-gradient(90deg,#40a337 0px,#97c300 2px,#e2f000 4px,#f8d800 6px,#ff9f00 8px,#fa6d08 10px,#de5511 12px,#be4718 14px,#993714 16px,#7f2c11 18px,#6d240d 20px,#611f0b 22px,#5b1d0a 24px,#571b09 26px,#561b09 28px,#561b09 30px,#571b09 32px,#5b1d0a 34px,#611f0b 36px,#6d240d 38px,#7f2c11 40px,#993714 42px,#be4718 44px,#de5511 46px,#fa6d08 48px,#ff9f00 50px,#f8d800 52px,#e2f000 54px,#97c300 56px,#9fc700 58px,#e6f000 60px,#f8d900 62px,#ffac00 64px,#fe8102 66px,#f9640b 68px,#e45810 70px,#d35014 72px,#c64b17 74px,#be4718 76px,#b64417 78px,#b24216 80px,#b04116 82px,#af4116 84px,#af4116 86px,#b04116 88px,#b14116 90px,#b44317 92px,#b94517 94px,#c24918 96px,#cc4d15 98px,#db5312 100px,#f05c0e 102px,#fb7107 104px,#ff9400 106px,#ffc500 108px,#f0ef00 110px,#c5dc00 112px,#6fb512 114px,#299761 116px,#1e7ab9 118px,#1b72d8 120px,#1b74d2 122px,#1f7ea6 124px,#269173 126px,#39a044 128px,#56ad20 130px,#7cb90b 132px,#95c300 134px,#a0c800 136px,#a3ca00 138px,#a2c900 140px,#9cc600 142px,#8bbe03 144px,#6bb415 146px,#44a62f 148px,#2d995a 150px,#23878d 152px,#1d79bc 154px,#1d77c2 156px,#1d79be 158px,#1e7ab6 160px,#1f7daa 162px,#218397 164px,#258d7d 166px)"></div><div style="top:146px;background:linear-gradient(90deg,#40a337 0px,#96c300 2px,#e1f000 4px,#f8d800 6px,#ff9f00 8px,#fa6d08 10px,#de5512 12px,#bd4718 14px,#983713 16px,#7d2b10 18px,#6b240d 20px,#601f0b 22px,#591c0a 24px,#561b09 26px,#551a09 28px,#551a09 30px,#561a09 32px,#591c0a 34px,#5f1e0b 36px,#6a230d 38px,#7b2b10 40px,#963613 42px,#ba4517 44px,#db5412 46px,#fa6a09 48px,#ff9a00 50px,#fad400 52px,#e4f000 54px,#9cc600 56px,#99c400 58px,#e3f000 60px,#f7dc00 62px,#ffaf00 64px,#fe8301 66px,#f9660a 68px,#e65810 70px,#d45014 72px,#c74b17 74px,#be4718 76px,#b64417 78px,#b24216 80px,#b04116 82px,#af4116 84px,#af4116 86px,#af4116 88px,#b04116 90px,#b34216 92px,#b84517 94px,#c14818 96px,#ca4c16 98px,#d85213 100px,#ec5b0e 102px,#fa6e08 104px,#ff8f00 106px,#ffbf00 108px,#f2e900 110px,#cee300 112px,#7cb90b 114px,#2f9a57 116px,#218398 118px,#20819e 120px,#2080a0 122px,#289566 124px,#44a62f 126px,#7eba0a 128px,#aacd00 130px,#cae000 132px,#e0f000 134px,#e6f000 136px,#e8f000 138px,#e7f000 140px,#e4f000 142px,#d7e900 144px,#bbd600 146px,#98c400 148px,#60b01b 150px,#369e4a 152px,#248a85 154px,#218397 156px,#228593 158px,#23878d 160px,#248b83 162px,#269074 164px,#289663 166px)"></div><div style="top:148px;background:linear-gradient(90deg,#40a337 0px,#95c200 2px,#e1f000 4px,#f8d800 6px,#ff9f00 8px,#fa6d08 10px,#de5512 12px,#bd4718 14px,#973613 16px,#7c2b10 18px,#6a230d 20px,#5f1e0b 22px,#581b0a 24px,#551a09 26px,#541a09 28px,#541a09 30px,#541a09 32px,#571b09 34px,#5d1e0b 36px,#68220d 38px,#782910 40px,#923413 42px,#b64417 44px,#d85213 46px,#f9670a 48px,#ff9500 50px,#fbd100 52px,#e7f000 54px,#a1c900 56px,#92c100 58px,#dfef00 60px,#f5e000 62px,#ffb400 64px,#ff8601 66px,#f9680a 68px,#e75910 70px,#d55114 72px,#c84b16 74px,#be4718 76px,#b64417 78px,#b24216 80px,#b04116 82px,#af4116 84px,#af4116 86px,#af4116 88px,#b04116 90px,#b24216 92px,#b74417 94px,#bf4818 96px,#c94c16 98px,#d65213 100px,#e95a0f 102px,#fa6a09 104px,#ff8a00 106px,#ffb900 108px,#f4e400 110px,#d7e900 112px,#88bd05 114px,#349d4d 116px,#279468 118px,#27936b 120px,#27936d 122px,#46a72d 124px,#8cbf02 126px,#bfd800 128px,#e6f000 130px,#edf000 132px,#f0ef00 134px,#f2eb00 136px,#f2ea00 138px,#f2ea00 140px,#f1ed00 142px,#eff000 144px,#eaf000 146px,#d6e900 148px,#a7cb00 150px,#68b316 152px,#359d4c 154px,#27946b 156px,#279469 158px,#289665 160px,#2a9760 162px,#2e9a58 164px,#339c4f 166px)"></div><div style="top:150px;background:linear-gradient(90deg,#40a337 0px,#94c200 2px,#e0f000 4px,#f8d900 6px,#ff9f00 8px,#fa6d08 10px,#de5512 12px,#bc4618 14px,#963613 16px,#7b2a10 18px,#69230d 20px,#5e1e0b 22px,#571b09 24px,#541a09 26px,#531908 28px,#531908 30px,#531909 32px,#561b09 34px,#5c1d0a 36px,#66210c 38px,#76280f 40px,#8f3312 42px,#b24216 44px,#d55113 46px,#f9640b 48px,#ff9100 50px,#fccd00 52px,#e9f000 54px,#a6cb00 56px,#89be04 58px,#d8ea00 60px,#f4e400 62px,#ffb800 64px,#ff8900 66px,#fa6a09 68px,#e95a0f 70px,#d65113 72px,#c84c16 74px,#bf4818 76px,#b64417 78px,#b24216 80px,#af4116 82px,#af4116 84px,#af4116 86px,#af4116 88px,#af4116 90px,#b14216 92px,#b64417 94px,#be4718 96px,#c74b16 98px,#d45114 100px,#e75910 102px,#f9670a 104px,#ff8501 106px,#ffb300 108px,#f6df00 110px,#dff000 112px,#93c100 114px,#3aa043 116px,#349d4d 118px,#339c4f 120px,#3ea23c 122px,#83bc07 124px,#c0d800 126px,#e9f000 128px,#f1ee00 130px,#f5e100 132px,#f8da00 134px,#f9d600 136px,#f9d500 138px,#f9d500 140px,#f8d700 142px,#f7dd00 144px,#f3e700 146px,#eef000 148px,#dced00 150px,#a4ca00 152px,#5aae1e 154px,#339c4f 156px,#349d4e 158px,#359d4d 160px,#369e4a 162px,#389f47 164px,#3aa042 166px)"></div><div style="top:152px;background:linear-gradient(90deg,#40a337 0px,#92c100 2px,#dfef00 4px,#f8da00 6px,#ffa000 8px,#fa6e08 10px,#de5512 12px,#bc4618 14px,#963613 16px,#7a2a10 18px,#68220d 20px,#5d1d0a 22px,#561b09 24px,#531909 26px,#521908 28px,#521908 30px,#521908 32px,#551a09 34px,#5a1c0a 36px,#64210c 38px,#74270f 40px,#8c3212 42px,#af4116 44px,#d35014 46px,#f8610c 48px,#ff8d00 50px,#fdca00 52px,#eaf000 54px,#abcd00 56px,#7fba09 58px,#d1e400 60px,#f3e800 62px,#ffbd00 64px,#ff8d00 66px,#fa6c08 68px,#eb5a0f 70px,#d75213 72px,#c94c16 74px,#c04818 76px,#b74417 78px,#b24216 80px,#af4116 82px,#af4116 84px,#af4116 86px,#af4116 88px,#af4116 90px,#b14216 92px,#b54317 94px,#bd4718 96px,#c64b17 98px,#d25014 100px,#e45810 102px,#f9640b 104px,#fe8202 106px,#ffad00 108px,#f7db00 110px,#e4f000 112px,#9bc500 114px,#3fa339 116px,#3ba140 118px,#3ba140 120px,#66b217 122px,#b1d000 124px,#e8f000 126px,#f2eb00 128px,#f8da00 130px,#fbce00 132px,#fec800 134px,#ffc400 136px,#ffc300 138px,#ffc300 140px,#fec600 142px,#fdca00 144px,#fad300 146px,#f5e100 148px,#edf000 150px,#d0e400 152px,#92c100 154px,#42a533 156px,#3ba140 158px,#3ba140 160px,#3ca13f 162px,#3da23d 164px,#3ea23c 166px)"></div><div style="top:154px;background:linear-gradient(90deg,#40a337 0px,#90c000 2px,#ddee00 4px,#f7db00 6px,#ffa200 8px,#fb6e08 10px,#de5512 12px,#bc4618 14px,#963613 16px,#7a2a10 18px,#68220d 20px,#5c1d0a 22px,#561a09 24px,#521908 26px,#511908 28px,#511908 30px,#521908 32px,#541a09 34px,#591c0a 36px,#62200c 38px,#72270e 40px,#8a3112 42px,#ab3f16 44px,#d04f15 46px,#f65f0c 48px,#ff8a00 50px,#fec800 52px,#ecf000 54px,#afd000 56px,#75b70f 58px,#c9df00 60px,#f1ec00 62px,#ffc200 64px,#ff9100 66px,#fb6f08 68px,#ed5b0e 70px,#d95313 72px,#ca4c16 74px,#c04818 76px,#b74417 78px,#b24216 80px,#b04116 82px,#af4116 84px,#af4116 86px,#af4116 88px,#af4116 90px,#b04116 92px,#b44317 94px,#bb4617 96px,#c54a17 98px,#d14f14 100px,#e25711 102px,#f8620b 104px,#fd7e03 106px,#ffa800 108px,#f9d600 110px,#e8f000 112px,#a3c900 114px,#44a630 116px,#3ea33a 118px,#42a533 120px,#95c300 122px,#d7e900 124px,#f0f000 126px,#f8d900 128px,#fdc900 130px,#ffbd00 132px,#ffb400 134px,#ffaf00 136px,#ffae00 138px,#ffae00 140px,#ffb100 142px,#ffb800 144px,#ffc300 146px,#fbd000 148px,#f4e300 150px,#eaf000 152px,#b6d300 154px,#69b316 156px,#3ea33a 158px,#3ea33a 160px,#3fa33a 162px,#3fa339 164px,#3fa339 166px)"></div><div style="top:156px;background:linear-gradient(90deg,#40a337 0px,#8ebf01 2px,#dbec00 4px,#f7dc00 6px,#ffa300 8px,#fb6f07 10px,#df5511 12px,#bd4718 14px,#963613 16px,#7a2a10 18px,#68220c 20px,#5c1d0a 22px,#551a09 24px,#521908 26px,#511808 28px,#511808 30px,#511908 32px,#531909 34px,#581b0a 36px,#611f0b 38px,#70260e 40px,#873012 42px,#a93e15 44px,#ce4e15 46px,#f45e0d 48px,#ff8700 50px,#ffc500 52px,#edf000 54px,#b3d200 56px,#6ab315 58px,#c2d900 60px,#f0f000 62px,#fec700 64px,#ff9500 66px,#fb7207 68px,#ef5c0e 70px,#da5312 72px,#cb4d16 74px,#c14818 76px,#b84517 78px,#b24216 80px,#b04116 82px,#af4116 84px,#af4116 86px,#af4116 88px,#af4116 90px,#b04116 92px,#b44317 94px,#ba4617 96px,#c44a17 98px,#cf4f15 100px,#e05611 102px,#f7600c 104px,#fd7b04 106px,#ffa300 108px,#fad200 110px,#eaf000 112px,#abcd00 114px,#4aa927 116px,#40a338 118px,#63b119 120px,#b5d200 122px,#eaf000 124px,#f6df00 126px,#fdca00 128px,#ffb800 130px,#ffaa00 132px,#ffa200 134px,#ff9f00 136px,#ff9e00 138px,#ff9e00 140px,#ffa000 142px,#ffa600 144px,#ffb000 146px,#ffc100 148px,#fad400 150px,#f1ee00 152px,#d7e900 154px,#92c100 156px,#40a338 158px,#40a338 160px,#40a338 162px,#40a338 164px,#40a337 166px)"></div><div style="top:158px;background:linear-gradient(90deg,#40a337 0px,#8bbe03 2px,#d9eb00 4px,#f6de00 6px,#ffa500 8px,#fb7007 10px,#e05611 12px,#be4718 14px,#963613 16px,#7a2a10 18px,#67220c 20px,#5c1d0a 22px,#551a09 24px,#521908 26px,#511808 28px,#501808 30px,#511808 32px,#531909 34px,#571b09 36px,#601f0b 38px,#6f250e 40px,#852f11 42px,#a63d15 44px,#cc4d15 46px,#f15d0d 48px,#fe8401 50px,#ffc200 52px,#eef000 54px,#b7d400 56px,#5fb01b 58px,#bad500 60px,#eef000 62px,#fdca00 64px,#ff9a00 66px,#fc7506 68px,#f25d0d 70px,#dc5412 72px,#cd4d15 74px,#c24918 76px,#b94517 78px,#b34216 80px,#b04116 82px,#af4116 84px,#af4116 86px,#af4116 88px,#af4116 90px,#b04116 92px,#b34217 94px,#b94517 96px,#c34917 98px,#ce4e15 100px,#de5512 102px,#f45e0d 104px,#fc7805 106px,#ff9e00 108px,#fcce00 110px,#ecf000 112px,#b3d100 114px,#55ac21 116px,#40a337 118px,#88bd05 120px,#d1e400 122px,#f1ee00 124px,#fad200 126px,#ffbb00 128px,#ffa800 130px,#ff9c00 132px,#ff9500 134px,#ff9200 136px,#ff9100 138px,#ff9100 140px,#ff9300 142px,#ff9800 144px,#ffa100 146px,#ffb000 148px,#fec700 150px,#f6df00 152px,#e9f000 154px,#adcf00 156px,#56ad20 158px,#40a337 160px,#40a337 162px,#40a337 164px,#40a337 166px)"></div><div style="top:160px;background:linear-gradient(90deg,#40a337 0px,#87bd05 2px,#d6e900 4px,#f6df00 6px,#ffa700 8px,#fb7107 10px,#e15611 12px,#bf4718 14px,#973613 16px,#7a2a10 18px,#67220c 20px,#5b1d0a 22px,#551a09 24px,#511908 26px,#501808 28px,#501808 30px,#511808 32px,#521908 34px,#571b09 36px,#5f1e0b 38px,#6d250e 40px,#842e11 42px,#a43c15 44px,#ca4c16 46px,#ef5c0e 48px,#fe8202 50px,#ffbe00 52px,#eff000 54px,#bbd500 56px,#60b01b 58px,#b3d100 60px,#ecf000 62px,#fcce00 64px,#ff9e00 66px,#fc7805 68px,#f45e0d 70px,#de5512 72px,#ce4e15 74px,#c34917 76px,#b94517 78px,#b34217 80px,#b04116 82px,#af4116 84px,#af4116 86px,#af4116 88px,#af4116 90px,#b04116 92px,#b34216 94px,#b94517 96px,#c24918 98px,#cd4d15 100px,#dc5412 102px,#f25d0d 104px,#fc7506 106px,#ff9a00 108px,#fdca00 110px,#eef000 112px,#bad500 114px,#5fb01b 116px,#46a72c 118px,#a1c800 120px,#e5f000 122px,#f5e100 124px,#fec600 126px,#ffac00 128px,#ff9b00 130px,#ff9000 132px,#ff8a00 134px,#ff8800 136px,#ff8700 138px,#ff8700 140px,#ff8900 142px,#ff8d00 144px,#ff9500 146px,#ffa300 148px,#ffb800 150px,#fad200 152px,#eff000 154px,#c5dc00 156px,#75b70f 158px,#40a337 160px,#40a337 162px,#40a337 164px,#40a337 166px)"></div><div style="top:162px;background:linear-gradient(90deg,#40a337 0px,#83bc07 2px,#d4e700 4px,#f5e100 6px,#ffa900 8px,#fb7306 10px,#e25611 12px,#c04818 14px,#983713 16px,#7b2a10 18px,#68220d 20px,#5c1d0a 22px,#551a09 24px,#511908 26px,#501808 28px,#501808 30px,#501808 32px,#521908 34px,#561b09 36px,#5e1e0b 38px,#6c240d 40px,#822d11 42px,#a23b15 44px,#c94c16 46px,#ed5b0e 48px,#fd7f03 50px,#ffbb00 52px,#f0f000 54px,#bed700 56px,#65b218 58px,#abcd00 60px,#eaf000 62px,#fad200 64px,#ffa300 66px,#fd7b04 68px,#f7600c 70px,#e05611 72px,#cf4f15 74px,#c44a17 76px,#ba4617 78px,#b44317 80px,#b04116 82px,#af4116 84px,#af4116 86px,#af4116 88px,#af4116 90px,#b04116 92px,#b24216 94px,#b84517 96px,#c14818 98px,#cb4d16 100px,#da5312 102px,#ef5c0e 104px,#fb7207 106px,#ff9500 108px,#fec700 110px,#f0f000 112px,#c2d900 114px,#6ab315 116px,#5daf1c 118px,#b5d200 120px,#ecf000 122px,#f9d600 124px,#ffb900 126px,#ffa000 128px,#ff9100 130px,#ff8800 132px,#fe8301 134px,#fe8102 136px,#fe8102 138px,#fe8102 140px,#fe8202 142px,#ff8501 144px,#ff8c00 146px,#ff9800 148px,#ffab00 150px,#fec800 152px,#f3e700 154px,#d9eb00 156px,#90c000 158px,#40a337 160px,#40a337 162px,#40a337 164px,#40a337 166px)"></div><div style="top:164px;background:linear-gradient(90deg,#40a337 0px,#7fba09 2px,#d1e500 4px,#f4e300 6px,#ffab00 8px,#fc7406 10px,#e35710 12px,#c14818 14px,#993714 16px,#7c2b10 18px,#68220d 20px,#5c1d0a 22px,#551a09 24px,#511908 26px,#501808 28px,#501808 30px,#501808 32px,#521908 34px,#561a09 36px,#5e1e0b 38px,#6b240d 40px,#812d11 42px,#a03a14 44px,#c74b16 46px,#eb5a0f 48px,#fd7d03 50px,#ffb800 52px,#f1ee00 54px,#c2d900 56px,#6ab315 58px,#a3c900 60px,#e8f000 62px,#f9d600 64px,#ffa800 66px,#fd7e03 68px,#f8620b 70px,#e25711 72px,#d14f14 74px,#c54a17 76px,#bb4617 78px,#b44317 80px,#b04116 82px,#af4116 84px,#af4116 86px,#af4116 88px,#af4116 90px,#b04116 92px,#b24216 94px,#b74417 96px,#c04818 98px,#ca4c16 100px,#d95313 102px,#ed5b0e 104px,#fb6f08 106px,#ff9100 108px,#ffc200 110px,#f1ec00 112px,#c9df00 114px,#75b70f 116px,#74b710 118px,#c6dc00 120px,#f0f000 122px,#fccd00 124px,#ffae00 126px,#ff9700 128px,#ff8900 130px,#fe8202 132px,#fd7f03 134px,#fd7d03 136px,#fd7c03 138px,#fd7c03 140px,#fd7d03 142px,#fe8002 144px,#fe8501 146px,#ff8f00 148px,#ffa100 150px,#ffbe00 152px,#f7dd00 154px,#e6f000 156px,#a1c800 158px,#44a62f 160px,#40a337 162px,#40a337 164px,#40a337 166px)"></div></div><div class="hm" style="left:26px;top:14px;width:80px;height:79px"><div style="top:0px;background:linear-gradient(90deg,#070314 0px,#070314 2px,#070314 4px,#070314 6px,#070314 8px,#070314 10px,#070314 12px,#070314 14px,#070314 16px,#070314 18px,#070314 20px,#070314 22px,#070314 24px,#070314 26px,#070314 28px,#070314 30px,#070314 32px,#070314 34px,#070314 36px,#11082c 38px,#f37819 40px,#070314 42px,#070314 44px,#070314 46px,#070314 48px,#070314 50px,#070314 52px,#070314 54px,#070314 56px,#070314 58px,#070314 60px,#070314 62px,#070314 64px,#070314 66px,#070314 68px,#070314 70px,#070314 72px,#070314 74px,#070314 76px,#070314 78px,#070314 80px)"></div><div style="top:2px;background:linear-gradient(90deg,#070314 0px,#070314 2px,#070314 4px,#070314 6px,#070314 8px,#070314 10px,#070314 12px,#070314 14px,#070314 16px,#070314 18px,#070314 20px,#070314 22px,#070314 24px,#070314 26px,#070314 28px,#070314 30px,#070314 32px,#070314 34px,#070314 36px,#11082c 38px,#f37819 40px,#070314 42px,#070314 44px,#070314 46px,#070314 48px,#070314 50px,#070314 52px,#070314 54px,#070314 56px,#070314 58px,#070314 60px,#070314 62px,#070314 64px,#070314 66px,#070314 68px,#070314 70px,#070314 72px,#070314 74px,#070314 76px,#070314 78px,#070314 80px)"></div><div style="top:4px;background:linear-gradient(90deg,#070314 0px,#070314 2px,#070314 4px,#070314 6px,#070314 8px,#070314 10px,#070314 12px,#070314 14px,#070314 16px,#070314 18px,#070314 20px,#070314 22px,#070314 24px,#070314 26px,#070314 28px,#070314 30px,#070314 32px,#070314 34px,#070314 36px,#5c126c 38px,#f47d17 40px,#310a56 42px,#070314 44px,#070314 46px,#070314 48px,#070314 50px,#070314 52px,#070314 54px,#070314 56px,#070314 58px,#070314 60px,#070314 62px,#070314 64px,#070314 66px,#070314 68px,#070314 70px,#070314 72px,#070314 74px,#070314 76px,#070314 78px,#070314 80px)"></div><div style="top:6px;background:linear-gradient(90deg,#070314 0px,#070314 2px,#070314 4px,#070314 6px,#070314 8px,#070314 10px,#070314 12px,#070314 14px,#070314 16px,#070314 18px,#070314 20px,#070314 22px,#070314 24px,#070416 26px,#080418 28px,#0a051b 30px,#0b061f 32px,#0d0724 34px,#12092e 36px,#962766 38px,#f47d17 40px,#6e186d 42px,#0f0829 44px,#0c0621 46px,#0a051d 48px,#09051a 50px,#080417 52px,#070315 54px,#070314 56px,#070314 58px,#070314 60px,#070314 62px,#070314 64px,#070314 66px,#070314 68px,#070314 70px,#070314 72px,#070314 74px,#070314 76px,#070314 78px,#070314 80px)"></div><div style="top:8px;background:linear-gradient(90deg,#070314 0px,#070314 2px,#070314 4px,#070314 6px,#070314 8px,#070314 10px,#070314 12px,#070415 14px,#080417 16px,#090419 18px,#0a051c 20px,#0b061f 22px,#0e0725 24px,#11092e 26px,#170b3a 28px,#250b49 30px,#370a5c 32px,#4c0d69 34px,#62146d 36px,#b63457 38px,#f1751c 40px,#952766 42px,#57116b 44px,#410a67 46px,#2d0a52 48px,#1d0b41 50px,#140a34 52px,#100829 54px,#0d0622 56px,#0a051d 58px,#09051a 60px,#080418 62px,#080416 64px,#070315 66px,#070314 68px,#070314 70px,#070314 72px,#070314 74px,#070314 76px,#070314 78px,#070314 80px)"></div><div style="top:10px;background:linear-gradient(90deg,#080417 0px,#080418 2px,#09041a 4px,#0a051b 6px,#0a051d 8px,#0b0620 10px,#0d0623 12px,#0f0727 14px,#11082d 16px,#140a34 18px,#1b0b3e 20px,#270b4b 22px,#370a5c 24px,#4b0d69 26px,#63156d 28px,#801f6a 30px,#9e2b62 32px,#ba3655 34px,#cd4447 36px,#da4e3d 38px,#de5239 40px,#d44a41 42px,#c43d4e 44px,#ad315b 46px,#8f2568 48px,#711a6d 50px,#57116b 52px,#410a67 54px,#2e0a53 56px,#200b44 58px,#160b39 60px,#120930 62px,#10082a 64px,#0e0725 66px,#0c0621 68px,#0b051e 70px,#0a051c 72px,#09051a 74px,#090419 76px,#080418 78px,#080417 80px)"></div><div style="top:12px;background:linear-gradient(90deg,#0c0622 0px,#0e0725 2px,#0f0728 4px,#11082c 6px,#130931 8px,#150b37 10px,#1c0b3f 12px,#250b49 14px,#310a55 16px,#400a66 18px,#530f6b 20px,#6a176e 22px,#862169 24px,#a42d5f 26px,#c03a51 28px,#d54b40 30px,#e25a32 32px,#e96727 34px,#ee6f20 36px,#f1741c 38px,#f2761b 40px,#f0721e 42px,#ec6c23 44px,#e6612c 46px,#dd513a 48px,#cb4348 50px,#b33358 52px,#952766 54px,#771c6c 56px,#5e136c 58px,#490c69 60px,#380a5d 62px,#2a0b4f 64px,#200b43 66px,#180b3b 68px,#140a34 70px,#12092e 72px,#10082a 74px,#0e0726 76px,#0d0623 78px,#0c0621 80px)"></div><div style="top:14px;background:linear-gradient(90deg,#130932 0px,#150b37 2px,#1a0b3d 4px,#210b44 6px,#290b4e 8px,#340a59 10px,#420a68 12px,#520f6a 14px,#66166d 16px,#7e1e6b 18px,#992864 20px,#b53457 22px,#cc4348 24px,#dd5239 26px,#e7622c 28px,#ed6d22 30px,#f1751c 32px,#f37919 34px,#f47d17 36px,#f47e17 38px,#f47f17 40px,#f47e17 42px,#f47b18 44px,#f3771a 46px,#ef711f 48px,#ea6826 50px,#e25b32 52px,#d54b40 54px,#c13b50 56px,#a72e5e 58px,#8b2368 60px,#711a6d 62px,#5b126c 64px,#4a0d69 66px,#3b0a60 68px,#2f0a53 70px,#250b49 72px,#1d0b41 74px,#170b3a 76px,#140a34 78px,#12092f 80px)"></div><div style="top:16px;background:linear-gradient(90deg,#220b46 0px,#2a0b4e 2px,#330a58 4px,#3f0a65 6px,#4d0d6a 8px,#5d136c 10px,#70196d 12px,#872269 14px,#a02b61 16px,#b93655 18px,#cd4447 20px,#dd5239 22px,#e6612d 24px,#ec6c23 26px,#f0731d 28px,#f37819 30px,#f47c18 32px,#f47e17 34px,#f58016 36px,#f58016 38px,#f58116 40px,#f58016 42px,#f47f17 44px,#f47d17 46px,#f37a18 48px,#f2761b 50px,#ee7020 52px,#e96728 54px,#e25a33 56px,#d64b40 58px,#c43d4e 60px,#ad315b 62px,#932667 64px,#7b1d6b 66px,#66166d 68px,#54106b 70px,#460b69 72px,#390a5e 74px,#2e0a53 76px,#250b4a 78px,#1e0b42 80px)"></div><div style="top:18px;background:linear-gradient(90deg,#380a5e 0px,#440b68 2px,#510f6a 4px,#61146d 6px,#731a6c 8px,#882269 10px,#9f2b62 12px,#b63457 14px,#c9414a 16px,#d84d3e 18px,#e25b32 20px,#e96628 22px,#ed6e21 24px,#f1741d 26px,#f37819 28px,#f47b18 30px,#f47d17 32px,#f47f17 34px,#f58016 36px,#f58116 38px,#f58116 40px,#f58016 42px,#f58016 44px,#f47e17 46px,#f47c18 48px,#f37919 50px,#f2761b 52px,#ef711f 54px,#eb6a25 56px,#e6612d 58px,#de5438 60px,#d14744 62px,#c03a51 64px,#aa305c 66px,#932667 68px,#7d1e6b 70px,#69176e 72px,#59116b 74px,#4a0d69 76px,#3e0a64 78px,#330a58 80px)"></div><div style="top:20px;background:linear-gradient(90deg,#510f6a 0px,#60146c 2px,#70196d 4px,#83206a 6px,#982865 8px,#ad315b 10px,#c13b50 12px,#d04744 14px,#dd513a 16px,#e45d30 18px,#e96628 20px,#ed6d22 22px,#f0721e 24px,#f2761b 26px,#f37919 28px,#f47b18 30px,#f47d17 32px,#f47f17 34px,#f58016 36px,#f58116 38px,#f58116 40px,#f58016 42px,#f58016 44px,#f47e17 46px,#f47c18 48px,#f37a18 50px,#f3771a 52px,#f1741c 54px,#ee7020 56px,#eb6a25 58px,#e6622c 60px,#e05735 62px,#d74c3f 64px,#c8414a 66px,#b83556 68px,#a22c60 70px,#8d2468 72px,#7a1d6b 74px,#68166e 76px,#58116b 78px,#4b0d69 80px)"></div><div style="top:22px;background:linear-gradient(90deg,#69176e 0px,#7a1d6b 2px,#8d2468 4px,#a12c61 6px,#b43458 8px,#c43e4d 10px,#d24843 12px,#dd513a 14px,#e35b31 16px,#e7632a 18px,#eb6a25 20px,#ee6f21 22px,#f0731d 24px,#f2761b 26px,#f37919 28px,#f47b18 30px,#f47d17 32px,#f47f17 34px,#f58016 36px,#f58116 38px,#f58116 40px,#f58016 42px,#f47f17 44px,#f47e17 46px,#f47c18 48px,#f37a18 50px,#f3771a 52px,#f1741c 54px,#ef711f 56px,#ec6c23 58px,#e96728 60px,#e5602e 62px,#e05636 64px,#d74d3e 66px,#cb4348 68px,#bd3853 70px,#aa305c 72px,#972865 74px,#84206a 76px,#721a6d 78px,#61146d 80px)"></div><div style="top:24px;background:linear-gradient(90deg,#7f1f6a 0px,#912567 2px,#a32d60 4px,#b53457 6px,#c43d4e 8px,#d04645 10px,#da4e3d 12px,#e05735 14px,#e55f2e 16px,#e86529 18px,#eb6a25 20px,#ee6f21 22px,#f0721e 24px,#f2751b 26px,#f37819 28px,#f47b18 30px,#f47d17 32px,#f47f17 34px,#f58016 36px,#f58016 38px,#f58116 40px,#f58016 42px,#f47f17 44px,#f47e17 46px,#f47c18 48px,#f37a18 50px,#f2771a 52px,#f1741c 54px,#ef711f 56px,#ed6d23 58px,#ea6827 60px,#e7622b 62px,#e35b31 64px,#de5239 66px,#d54b40 68px,#ca4249 70px,#bd3853 72px,#ac305b 74px,#9a2964 76px,#882269 78px,#761c6c 80px)"></div><div style="top:26px;background:linear-gradient(90deg,#8f2568 0px,#a02b61 2px,#b13259 4px,#bf3a51 6px,#cb4249 8px,#d44a41 10px,#dc503b 12px,#e15834 14px,#e55f2e 16px,#e8642a 18px,#eb6925 20px,#ed6e22 22px,#ef711f 24px,#f1751c 26px,#f3771a 28px,#f37a18 30px,#f47c18 32px,#f47e17 34px,#f47f17 36px,#f58016 38px,#f58116 40px,#f58016 42px,#f47f17 44px,#f47d17 46px,#f47b18 48px,#f37919 50px,#f2761b 52px,#f0731d 54px,#ee7020 56px,#ec6c24 58px,#e96727 60px,#e6622c 62px,#e35c31 64px,#df5437 66px,#d84d3e 68px,#d04645 70px,#c53e4d 72px,#b93656 74px,#a92f5d 76px,#982865 78px,#872169 80px)"></div><div style="top:28px;background:linear-gradient(90deg,#982865 0px,#a82f5d 2px,#b63557 4px,#c23c4f 6px,#cc4348 8px,#d44a41 10px,#db503b 12px,#e05636 14px,#e35c30 16px,#e7622c 18px,#e96727 20px,#ec6c24 22px,#ee7020 24px,#f0731d 26px,#f2761b 28px,#f37919 30px,#f47b18 32px,#f47d17 34px,#f47f17 36px,#f58016 38px,#f58016 40px,#f47f17 42px,#f47e17 44px,#f47c18 46px,#f37a18 48px,#f37719 50px,#f1751c 52px,#ef711f 54px,#ed6e22 56px,#eb6925 58px,#e86529 60px,#e55f2e 62px,#e25933 64px,#de5339 66px,#d84d3e 68px,#d04744 70px,#c7404b 72px,#bd3853 74px,#af325a 76px,#a02b61 78px,#902568 80px)"></div><div style="top:30px;background:linear-gradient(90deg,#992964 0px,#a72e5e 2px,#b53457 4px,#c03a51 6px,#c9414a 8px,#d04744 10px,#d74c3f 12px,#dd513a 14px,#e15834 16px,#e45e2f 18px,#e7632a 20px,#ea6826 22px,#ed6d23 24px,#ef711f 26px,#f1741c 28px,#f2771a 30px,#f37a18 32px,#f47c18 34px,#f47e17 36px,#f47f17 38px,#f58016 40px,#f47f17 42px,#f47d17 44px,#f47b18 46px,#f37819 48px,#f2761b 50px,#f0721e 52px,#ee6f21 54px,#eb6b24 56px,#e96628 58px,#e6612d 60px,#e35b31 62px,#df5537 64px,#da4f3c 66px,#d44a41 68px,#cd4447 70px,#c43e4d 72px,#bb3755 74px,#ae315a 76px,#a02c61 78px,#922567 80px)"></div><div style="top:32px;background:linear-gradient(90deg,#932667 0px,#a02b61 2px,#ac315b 4px,#b83556 6px,#c13b50 8px,#c9414a 10px,#d04744 12px,#d74c3f 14px,#dd513a 16px,#e15834 18px,#e45e2f 20px,#e7632a 22px,#ea6826 24px,#ed6d22 26px,#ef711f 28px,#f1751c 30px,#f37819 32px,#f37a18 34px,#f47d17 36px,#f47e17 38px,#f47f17 40px,#f47e17 42px,#f47c18 44px,#f37919 46px,#f2761b 48px,#f0731d 50px,#ee6f21 52px,#ec6b24 54px,#e96628 56px,#e6612d 58px,#e35b32 60px,#df5437 62px,#da4f3c 64px,#d44a41 66px,#cd4447 68px,#c53e4d 70px,#bd3853 72px,#b23358 74px,#a62e5e 76px,#992964 78px,#8c2368 80px)"></div><div style="top:34px;background:linear-gradient(90deg,#862169 0px,#922667 2px,#9e2b62 4px,#aa2f5d 6px,#b43457 8px,#be3952 10px,#c63f4c 12px,#cd4546 14px,#d44a41 16px,#db4f3c 18px,#e05536 20px,#e35c31 22px,#e7622c 24px,#ea6827 26px,#ec6c23 28px,#ef711f 30px,#f1741c 32px,#f37819 34px,#f47b18 36px,#f47d17 38px,#f47e17 40px,#f47c18 42px,#f37919 44px,#f2761b 46px,#f0731e 48px,#ee6f21 50px,#eb6a25 52px,#e86529 54px,#e55f2e 56px,#e15933 58px,#de5239 60px,#d84d3e 62px,#d14744 64px,#ca4249 66px,#c23c4f 68px,#ba3655 70px,#af325a 72px,#a42d5f 74px,#982865 76px,#8c2368 78px,#7f1f6a 80px)"></div><div style="top:36px;background:linear-gradient(90deg,#731a6c 0px,#7f1f6a 2px,#8b2368 4px,#962766 6px,#a12c60 8px,#ac305b 10px,#b73556 12px,#c03a51 14px,#c8404b 16px,#d04645 18px,#d74c3f 20px,#dd513a 22px,#e15933 24px,#e5602e 26px,#e96629 28px,#ec6b24 30px,#ee7020 32px,#f1741c 34px,#f37719 36px,#f47b18 38px,#f47d17 40px,#f37919 42px,#f2761b 44px,#f0721e 46px,#ed6e22 48px,#ea6826 50px,#e7632b 52px,#e35c31 54px,#df5536 56px,#da4f3c 58px,#d34942 60px,#cc4348 62px,#c43d4e 64px,#bc3754 66px,#b23359 68px,#a72e5e 70px,#9c2a63 72px,#902567 74px,#852169 76px,#791c6b 78px,#6d186e 80px)"></div><div style="top:38px;background:linear-gradient(90deg,#5d136c 0px,#68166e 2px,#731a6c 4px,#7e1e6b 6px,#8a2369 8px,#952766 10px,#a02c61 12px,#ac305c 14px,#b73556 16px,#c13b50 18px,#c9414a 20px,#d14744 22px,#d84d3e 24px,#df5438 26px,#e35c31 28px,#e7632b 30px,#ea6926 32px,#ee6e21 34px,#f0731d 36px,#f37819 38px,#f37a18 40px,#f2761b 42px,#ef711f 44px,#ec6c23 46px,#e96628 48px,#e55f2e 50px,#e15834 52px,#dc503b 54px,#d54a41 56px,#cd4447 58px,#c53e4d 60px,#bc3754 62px,#b13359 64px,#a62e5e 66px,#9b2963 68px,#8f2568 70px,#84206a 72px,#791c6c 74px,#6d186d 76px,#62146d 78px,#5b126c 80px)"></div><div style="top:40px;background:linear-gradient(90deg,#57116b 0px,#57116b 2px,#5a126c 4px,#64156d 6px,#6f196d 8px,#7a1d6b 10px,#862169 12px,#922667 14px,#9e2a62 16px,#aa2f5c 18px,#b63457 20px,#c03a51 22px,#c9414a 24px,#d24843 26px,#da4f3c 28px,#e05635 30px,#e55f2e 32px,#e96628 34px,#ed6d22 36px,#f0731d 38px,#f2771a 40px,#ef7020 42px,#eb6a25 44px,#e7632b 46px,#e25b32 48px,#de5239 50px,#d64b40 52px,#ce4546 54px,#c53e4d 56px,#bb3754 58px,#b0325a 60px,#a42d5f 62px,#982865 64px,#8c2368 66px,#801f6a 68px,#751b6c 70px,#69176e 72px,#5f136c 74px,#57116b 76px,#57116b 78px,#56106b 80px)"></div><div style="top:42px;background:linear-gradient(90deg,#4f0e6a 0px,#500e6a 2px,#510f6a 4px,#510f6a 6px,#54106b 8px,#5f136c 10px,#6a176e 12px,#751b6c 14px,#81206a 16px,#8e2468 18px,#9b2964 20px,#a72e5e 22px,#b43458 24px,#c03a51 26px,#ca4249 28px,#d34942 30px,#dd513a 32px,#e25b32 34px,#e8642a 36px,#ed6d22 38px,#f0721e 40px,#ea6826 42px,#e55f2e 44px,#e15834 46px,#d84d3e 48px,#cf4645 50px,#c53e4d 52px,#bb3655 54px,#ae315b 56px,#a12c61 58px,#942666 60px,#882269 62px,#7b1d6b 64px,#6f196d 66px,#64156d 68px,#5a126c 70px,#57116b 72px,#5b126c 74px,#5e136c 76px,#60146d 78px,#62146d 80px)"></div><div style="top:44px;background:linear-gradient(90deg,#430a68 0px,#450b69 2px,#470c69 4px,#490c69 6px,#4a0d69 8px,#4b0d69 10px,#4e0e6a 12px,#59116b 14px,#64156d 16px,#70196d 18px,#7c1e6b 20px,#8a2369 22px,#982865 24px,#a62e5e 26px,#b43458 28px,#c13b50 30px,#cc4447 32px,#d74c3f 34px,#e05735 36px,#e7642a 38px,#eb6b24 40px,#e45d30 42px,#eb6a25 44px,#e96727 46px,#d74c3f 48px,#bb3754 50px,#ad315b 52px,#9f2b62 54px,#912567 56px,#83206a 58px,#761b6c 60px,#6a176e 62px,#5e136c 64px,#5b126c 66px,#5e136c 68px,#61146d 70px,#62146d 72px,#62146d 74px,#61146d 76px,#741b6c 78px,#8e2468 80px)"></div><div style="top:46px;background:linear-gradient(90deg,#350a5a 0px,#380a5d 2px,#3a0a60 4px,#3d0a63 6px,#3f0a65 8px,#410a67 10px,#430a68 12px,#440b68 14px,#480c69 16px,#53106b 18px,#5e136c 20px,#6b176e 22px,#781c6c 24px,#872269 26px,#962766 28px,#a62e5e 30px,#b63557 32px,#c53e4d 34px,#d34942 36px,#e05636 38px,#e6602d 40px,#e25a32 42px,#f1741c 44px,#ef711f 46px,#de5239 48px,#b33358 50px,#8e2468 52px,#7f1f6a 54px,#711a6d 56px,#64156d 58px,#5f136c 60px,#61146d 62px,#62146d 64px,#62146d 66px,#62146d 68px,#7b1d6b 70px,#972865 72px,#b33358 74px,#ca4249 76px,#dd523a 78px,#e86529 80px)"></div><div style="top:48px;background:linear-gradient(90deg,#240b48 0px,#280b4c 2px,#2b0b4f 4px,#2e0a53 6px,#310a56 8px,#340a59 10px,#370a5c 12px,#390a5f 14px,#3c0a61 16px,#3d0a63 18px,#430a68 20px,#4e0e6a 22px,#5a126c 24px,#67166e 26px,#761b6c 28px,#872169 30px,#982865 32px,#ab305c 34px,#bf3a51 36px,#d24843 38px,#dd513a 40px,#e6602d 42px,#f47b18 44px,#f3771a 46px,#e15834 48px,#b83556 50px,#7e1e6b 52px,#60146d 54px,#61146d 56px,#61146d 58px,#68176e 60px,#83206a 62px,#9f2b61 64px,#bc3754 66px,#d24843 68px,#e25b32 70px,#ed6d22 72px,#f47b18 74px,#f58315 76px,#f58315 78px,#f47b18 80px)"></div><div style="top:50px;background:linear-gradient(90deg,#160b38 0px,#180b3b 2px,#1b0b3f 4px,#1f0b42 6px,#220b46 8px,#250b49 10px,#290b4d 12px,#2c0b50 14px,#2f0a54 16px,#320a57 18px,#350a5a 20px,#370a5c 22px,#3f0a65 24px,#4b0d69 26px,#58116b 28px,#67166d 30px,#781c6c 32px,#8c2368 34px,#a32d60 36px,#be3952 38px,#cd4447 40px,#e8642a 42px,#f47f17 44px,#f47c18 46px,#e35c31 48px,#bb3755 50px,#801f6a 52px,#882269 54px,#a72e5e 56px,#c33c4f 58px,#d94e3d 60px,#e8642a 62px,#f2761b 64px,#f58415 66px,#f78b13 68px,#f78a13 70px,#f58016 72px,#ef7020 74px,#e35c31 76px,#d24843 78px,#bb3754 80px)"></div><div style="top:52px;background:linear-gradient(90deg,#0f0728 0px,#10082b 2px,#12092f 4px,#130a32 6px,#150a36 8px,#170b3a 10px,#1a0b3d 12px,#1e0b41 14px,#210b45 16px,#250b49 18px,#280b4c 20px,#2c0b50 22px,#2f0a54 24px,#320a57 26px,#3c0a62 28px,#4a0d69 30px,#59116b 32px,#6c186e 34px,#83206a 36px,#a12c61 38px,#c63f4c 40px,#e96628 42px,#f99410 44px,#f99410 46px,#e45e2f 48px,#bd3754 50px,#d54b40 52px,#e96727 54px,#f47d17 56px,#f78c12 58px,#f89210 60px,#f89011 62px,#f68515 64px,#f0731d 66px,#e45e2f 68px,#d24843 70px,#bb3655 72px,#9d2a62 74px,#801f6a 76px,#65156d 78px,#4d0e6a 80px)"></div><div style="top:54px;background:linear-gradient(90deg,#0a051c 0px,#0b051e 2px,#0c0621 4px,#0d0724 6px,#0f0727 8px,#10082a 10px,#11092e 12px,#130a32 14px,#150a36 16px,#170b3a 18px,#1b0b3e 20px,#1f0b42 22px,#230b46 24px,#260b4a 26px,#2a0b4f 28px,#300a54 30px,#3d0a63 32px,#4e0e6a 34px,#63156d 36px,#8e2468 38px,#c7404b 40px,#ea6827 42px,#fca40a 44px,#fca40a 46px,#e5602d 48px,#e96628 50px,#f68515 52px,#f78e12 54px,#f68614 56px,#f1751c 58px,#e55f2f 60px,#d24942 62px,#ba3655 64px,#9c2a63 66px,#7e1e6b 68px,#63156d 70px,#4b0d69 72px,#360a5b 74px,#230b47 76px,#150a36 78px,#0f0728 80px)"></div><div style="top:56px;background:linear-gradient(90deg,#070314 0px,#070415 2px,#080417 4px,#090419 6px,#0a051b 8px,#0b051e 10px,#0c0621 12px,#0d0724 14px,#0f0727 16px,#10082b 18px,#12092f 20px,#140a34 22px,#160b39 24px,#1a0b3d 26px,#1e0b42 28px,#230b47 30px,#2a0b4e 32px,#3b0a61 34px,#57116b 36px,#8e2468 38px,#c8404b 40px,#ea6926 42px,#fbad13 44px,#fbad13 46px,#e96628 48px,#dc503b 50px,#dd513a 52px,#ce4546 54px,#b73556 56px,#9a2964 58px,#7c1e6b 60px,#61146d 62px,#490c69 64px,#340a59 66px,#210b45 68px,#140a34 70px,#0e0726 72px,#0a051c 74px,#080416 76px,#070314 78px,#070314 80px)"></div><div style="top:58px;background:linear-gradient(90deg,#070314 0px,#070314 2px,#070314 4px,#070314 6px,#070314 8px,#070415 10px,#080417 12px,#090419 14px,#0a051c 16px,#0b061f 18px,#0d0622 20px,#0e0726 22px,#10082a 24px,#12092f 26px,#140a34 28px,#1a0b3e 30px,#2a0b4f 32px,#3c0a61 34px,#57116b 36px,#8e2468 38px,#c8404b 40px,#eb6926 42px,#fab21a 44px,#fab51d 46px,#f78a13 48px,#be3952 50px,#83206a 52px,#5d136c 54px,#470c69 56px,#320a56 58px,#1f0b43 60px,#130a33 62px,#0e0725 64px,#09051b 66px,#070416 68px,#070314 70px,#070314 72px,#070314 74px,#070314 76px,#070314 78px,#070314 80px)"></div><div style="top:60px;background:linear-gradient(90deg,#070314 0px,#070314 2px,#070314 4px,#070314 6px,#070314 8px,#070314 10px,#070314 12px,#070314 14px,#070314 16px,#070416 18px,#080418 20px,#0a051b 22px,#0b051e 24px,#0d0622 26px,#12092e 28px,#1b0b3e 30px,#2a0b4f 32px,#3c0a62 34px,#57116b 36px,#8f2468 38px,#c8414a 40px,#f37a18 42px,#f7db50 44px,#f7de55 46px,#fbac13 48px,#bf3952 50px,#83206a 52px,#4e0e6a 54px,#380a5e 56px,#270b4b 58px,#180b3b 60px,#10082c 62px,#0b061f 64px,#080416 66px,#070314 68px,#070314 70px,#070314 72px,#070314 74px,#070314 76px,#070314 78px,#070314 80px)"></div><div style="top:62px;background:linear-gradient(90deg,#070314 0px,#070314 2px,#070314 4px,#070314 6px,#070314 8px,#070314 10px,#070314 12px,#070314 14px,#070314 16px,#070314 18px,#070314 20px,#070314 22px,#080418 24px,#0c0622 26px,#12092f 28px,#1b0b3e 30px,#2b0b4f 32px,#3c0a62 34px,#57116b 36px,#8f2468 38px,#c8414a 40px,#f68913 42px,#f9ed79 44px,#faef7f 46px,#f9c02a 48px,#bf3952 50px,#83206a 52px,#4e0e6a 54px,#390a5e 56px,#270b4b 58px,#180b3b 60px,#10082c 62px,#0b061f 64px,#080416 66px,#070314 68px,#070314 70px,#070314 72px,#070314 74px,#070314 76px,#070314 78px,#070314 80px)"></div><div style="top:64px;background:linear-gradient(90deg,#070314 0px,#070314 2px,#070314 4px,#070314 6px,#070314 8px,#070314 10px,#070314 12px,#070314 14px,#070314 16px,#070314 18px,#070314 20px,#070314 22px,#080418 24px,#0c0622 26px,#12092f 28px,#1b0b3e 30px,#2b0b4f 32px,#3c0a62 34px,#57116b 36px,#8f2468 38px,#c8414a 40px,#f89011 42px,#fbf58d 44px,#fbf893 46px,#f8c935 48px,#bf3952 50px,#83206a 52px,#4e0e6a 54px,#390a5e 56px,#270b4c 58px,#180b3b 60px,#10082c 62px,#0b061f 64px,#080416 66px,#070314 68px,#070314 70px,#070314 72px,#070314 74px,#070314 76px,#070314 78px,#070314 80px)"></div><div style="top:66px;background:linear-gradient(90deg,#070314 0px,#070314 2px,#070314 4px,#070314 6px,#070314 8px,#070314 10px,#070314 12px,#070314 14px,#070314 16px,#070314 18px,#070314 20px,#070314 22px,#080418 24px,#0c0622 26px,#12092f 28px,#1b0b3e 30px,#2b0b4f 32px,#3c0a62 34px,#57116b 36px,#8f2568 38px,#c8414a 40px,#f89310 42px,#fbf996 44px,#fbfc9c 46px,#f7cd3a 48px,#bf3952 50px,#83206a 52px,#4e0e6a 54px,#390a5e 56px,#270b4c 58px,#180b3b 60px,#11082c 62px,#0b061f 64px,#080416 66px,#070314 68px,#070314 70px,#070314 72px,#070314 74px,#070314 76px,#070314 78px,#070314 80px)"></div><div style="top:68px;background:linear-gradient(90deg,#070314 0px,#070314 2px,#070314 4px,#070314 6px,#070314 8px,#070314 10px,#070314 12px,#070314 14px,#070314 16px,#070314 18px,#070314 20px,#070314 22px,#080418 24px,#0c0622 26px,#12092f 28px,#1b0b3e 30px,#2b0b4f 32px,#3c0a62 34px,#57116b 36px,#8f2568 38px,#c8414a 40px,#f9950f 42px,#fbfb9b 44px,#fcfda0 46px,#f7cf3d 48px,#bf3952 50px,#83206a 52px,#4e0e6a 54px,#390a5e 56px,#270b4c 58px,#180b3b 60px,#11082c 62px,#0b061f 64px,#080416 66px,#070314 68px,#070314 70px,#070314 72px,#070314 74px,#070314 76px,#070314 78px,#070314 80px)"></div><div style="top:70px;background:linear-gradient(90deg,#070314 0px,#070314 2px,#070314 4px,#070314 6px,#070314 8px,#070314 10px,#070314 12px,#070314 14px,#070314 16px,#070314 18px,#070314 20px,#070314 22px,#080418 24px,#0c0622 26px,#12092f 28px,#1b0b3e 30px,#2b0b4f 32px,#3c0a62 34px,#57116b 36px,#8f2568 38px,#c8414a 40px,#f9960f 42px,#fcfc9c 44px,#fcfea2 46px,#f7d03e 48px,#bf3952 50px,#83206a 52px,#4e0e6a 54px,#390a5e 56px,#270b4c 58px,#180b3b 60px,#11082c 62px,#0b061f 64px,#080416 66px,#070314 68px,#070314 70px,#070314 72px,#070314 74px,#070314 76px,#070314 78px,#070314 80px)"></div><div style="top:72px;background:linear-gradient(90deg,#070314 0px,#070314 2px,#070314 4px,#070314 6px,#070314 8px,#070314 10px,#070314 12px,#070314 14px,#070314 16px,#070314 18px,#070314 20px,#070314 22px,#080418 24px,#0c0622 26px,#12092f 28px,#1b0b3e 30px,#2b0b4f 32px,#3c0a62 34px,#57116b 36px,#8f2568 38px,#c9414a 40px,#f9960f 42px,#fcfc9d 44px,#fcfea3 46px,#f7d13e 48px,#bf3952 50px,#83206a 52px,#4e0e6a 54px,#390a5e 56px,#270b4c 58px,#180b3b 60px,#11082c 62px,#0b061f 64px,#080416 66px,#070314 68px,#070314 70px,#070314 72px,#070314 74px,#070314 76px,#070314 78px,#070314 80px)"></div><div style="top:74px;background:linear-gradient(90deg,#070314 0px,#070314 2px,#070314 4px,#070314 6px,#070314 8px,#070314 10px,#070314 12px,#070314 14px,#070314 16px,#070314 18px,#070314 20px,#070314 22px,#080418 24px,#0c0622 26px,#12092f 28px,#1b0b3e 30px,#2b0b4f 32px,#3c0a62 34px,#57116b 36px,#8f2568 38px,#c9414a 40px,#f9960f 42px,#fcfc9e 44px,#fcffa3 46px,#f7d13f 48px,#bf3952 50px,#83206a 52px,#4e0e6a 54px,#390a5e 56px,#270b4c 58px,#180b3b 60px,#11082c 62px,#0b061f 64px,#080416 66px,#070314 68px,#070314 70px,#070314 72px,#070314 74px,#070314 76px,#070314 78px,#070314 80px)"></div><div style="top:76px;background:linear-gradient(90deg,#070314 0px,#070314 2px,#070314 4px,#070314 6px,#070314 8px,#070314 10px,#070314 12px,#070314 14px,#070314 16px,#070314 18px,#070314 20px,#070314 22px,#080418 24px,#0c0622 26px,#12092f 28px,#1b0b3e 30px,#2b0b4f 32px,#3c0a62 34px,#57116b 36px,#8f2568 38px,#c9414a 40px,#f9960f 42px,#fcfc9e 44px,#fcffa3 46px,#f7d13f 48px,#bf3952 50px,#83206a 52px,#4e0e6a 54px,#390a5e 56px,#270b4c 58px,#180b3b 60px,#11082c 62px,#0b061f 64px,#080416 66px,#070314 68px,#070314 70px,#070314 72px,#070314 74px,#070314 76px,#070314 78px,#070314 80px)"></div><div style="top:78px;background:linear-gradient(90deg,#070314 0px,#070314 2px,#070314 4px,#070314 6px,#070314 8px,#070314 10px,#070314 12px,#070314 14px,#070314 16px,#070314 18px,#070314 20px,#070314 22px,#080418 24px,#0c0622 26px,#12092f 28px,#1b0b3e 30px,#2b0b4f 32px,#3c0a62 34px,#57116b 36px,#8f2568 38px,#c9414a 40px,#f9960f 42px,#fcfc9e 44px,#fcffa3 46px,#f7d13f 48px,#bf3952 50px,#83206a 52px,#4e0e6a 54px,#390a5e 56px,#270b4c 58px,#180b3b 60px,#11082c 62px,#0b061f 64px,#080416 66px,#070314 68px,#070314 70px,#070314 72px,#070314 74px,#070314 76px,#070314 78px,#070314 80px)"></div></div>
<svg width="675" height="344" style="position:absolute;left:0;top:0" font-family='"Liberation Serif", serif'><defs><linearGradient id="jetbar"><stop offset="0.000" stop-color="#000000"/><stop offset="0.020" stop-color="#140602"/><stop offset="0.043" stop-color="#501808"/><stop offset="0.060" stop-color="#7a2a10"/><stop offset="0.087" stop-color="#c04818"/><stop offset="0.120" stop-color="#f8600c"/><stop offset="0.147" stop-color="#ff8800"/><stop offset="0.180" stop-color="#ffc400"/><stop offset="0.217" stop-color="#f0f000"/><stop offset="0.250" stop-color="#e0f000"/><stop offset="0.283" stop-color="#c0d800"/><stop offset="0.333" stop-color="#90c000"/><stop offset="0.387" stop-color="#48a828"/><stop offset="0.440" stop-color="#289664"/><stop offset="0.490" stop-color="#2080a0"/><stop offset="0.560" stop-color="#1a70e0"/><stop offset="0.630" stop-color="#2a3aa0"/><stop offset="0.680" stop-color="#3a30a0"/><stop offset="0.733" stop-color="#6a3aa0"/><stop offset="0.800" stop-color="#b03090"/><stop offset="0.870" stop-color="#e01070"/><stop offset="0.957" stop-color="#f0104a"/><stop offset="1.000" stop-color="#f0104a"/></linearGradient><linearGradient id="infbar"><stop offset="0.000" stop-color="#000004"/><stop offset="0.100" stop-color="#160b39"/><stop offset="0.200" stop-color="#420a68"/><stop offset="0.300" stop-color="#6a176e"/><stop offset="0.400" stop-color="#932667"/><stop offset="0.500" stop-color="#bc3754"/><stop offset="0.600" stop-color="#dd513a"/><stop offset="0.700" stop-color="#f37819"/><stop offset="0.800" stop-color="#fca50a"/><stop offset="0.900" stop-color="#f6d746"/><stop offset="0.920" stop-color="#fcffa4"/><stop offset="1.000" stop-color="#ffffff"/></linearGradient></defs><line x1="467.7" y1="171.85000000000002" x2="646.4" y2="171.85000000000002" stroke="#444" stroke-width="1.3" stroke-dasharray="1.3,2.6"/><line x1="467.7" y1="205.2625" x2="646.4" y2="205.2625" stroke="#444" stroke-width="1.3" stroke-dasharray="1.3,2.6"/><path d="M467.7,260.9 L468.0,256.0 L468.2,250.8 L468.5,245.7 L468.8,240.7 L469.1,236.1 L469.5,232.0 L469.9,228.4 L470.3,225.3 L470.8,222.4 L471.3,219.9 L471.9,217.6 L472.6,215.5 L473.3,213.6 L474.1,212.0 L475.0,210.6 L475.9,209.4 L477.0,208.4 L478.3,207.5 L479.8,206.8 L481.5,206.4 L483.3,206.2 L485.2,206.0 L487.1,205.9 L488.8,205.7 L490.6,205.5 L492.3,205.3 L494.1,205.2 L495.7,205.0 L497.2,204.7 L498.6,204.4 L499.7,203.9 L500.6,203.3 L501.4,202.7 L502.1,202.0 L502.8,201.2 L503.4,200.4 L504.1,199.5 L504.8,198.7 L505.4,197.8 L506.0,196.8 L506.6,195.6 L507.3,194.1 L508.1,192.2 L509.0,190.0 L509.8,187.6 L510.7,185.1 L511.5,182.8 L512.4,180.8 L513.2,179.0 L514.0,177.2 L514.8,175.6 L515.6,174.3 L516.5,173.3 L517.3,172.7 L518.1,172.7 L518.9,173.1 L519.6,173.9 L520.5,174.9 L521.3,176.0 L522.1,177.2 L523.0,178.5 L524.0,180.0 L525.0,181.7 L526.0,183.5 L526.9,185.3 L527.8,187.0 L528.7,188.8 L529.6,190.7 L530.4,192.6 L531.2,194.4 L532.0,196.2 L532.7,197.7 L533.4,199.0 L534.0,200.2 L534.5,201.3 L535.1,202.3 L535.7,203.1 L536.4,203.9 L537.3,204.6 L538.2,205.1 L539.2,205.6 L540.2,205.9 L541.2,206.3 L542.1,206.6 L543.0,206.8 L543.9,207.0 L544.8,207.0 L545.7,207.2 L546.5,207.4 L547.3,207.9 L548.0,208.5 L548.6,209.1 L549.2,209.8 L549.7,210.8 L550.3,212.2 L551.1,214.2 L551.9,216.8 L552.8,220.0 L553.8,223.6 L554.8,227.6 L555.8,231.7 L556.8,236.0 L557.7,240.6 L558.7,245.6 L559.7,250.8 L560.6,256.0 L561.6,260.9 L562.6,265.4 L563.5,269.4 L564.4,273.2 L565.4,276.7 L566.3,280.0 L567.3,283.1 L568.4,285.9 L569.7,288.5 L571.1,290.8 L572.5,292.9 L574.0,294.8 L575.5,296.5 L577.1,297.9 L578.6,299.1 L580.2,300.0 L581.9,300.6 L583.6,301.1 L585.2,301.5 L586.8,301.9 L588.4,302.3 L590.0,302.5 L591.5,302.6 L593.1,302.7 L594.6,302.7 L596.1,302.8 L597.5,302.9 L598.8,303.1 L600.1,303.2 L601.4,303.2 L602.8,303.3 L604.2,303.3 L605.7,303.2 L607.3,303.2 L609.0,303.2 L610.6,303.0 L612.3,302.8 L614.0,302.4 L615.6,301.8 L617.3,301.2 L619.0,300.4 L620.7,299.6 L622.3,298.6 L623.9,297.5 L625.3,296.3 L626.8,295.0 L628.1,293.5 L629.4,292.0 L630.7,290.3 L631.8,288.6 L632.9,286.6 L633.8,284.5 L634.7,282.3 L635.5,280.1 L636.3,277.8 L637.0,275.7 L637.8,273.4 L638.4,271.1 L639.1,268.8 L639.7,266.7 L640.3,264.7 L640.8,263.2 L641.2,262.0 L641.5,261.0 L641.8,260.3 L642.1,259.9 L642.4,259.6 L642.7,259.6 L643.1,259.9 L643.4,260.5 L643.8,261.3 L644.2,262.2 L644.5,263.2 L644.8,264.1 L645.1,264.9 L645.4,265.8 L645.7,266.7 L645.9,267.6 L646.2,268.5 L646.5,269.4" fill="none" stroke="#3ddc84" stroke-width="2.2"/><path d="M467.7,276.1 L468.2,273.9 L468.7,271.6 L469.3,269.4 L469.8,267.2 L470.3,265.1 L470.9,263.2 L471.6,261.3 L472.3,259.3 L473.1,257.5 L473.8,256.0 L474.6,255.0 L475.3,254.7 L476.1,255.3 L476.8,256.6 L477.5,258.4 L478.3,260.6 L479.1,263.0 L480.1,265.4 L481.1,268.1 L482.3,271.2 L483.5,274.5 L484.8,277.8 L486.0,280.8 L487.2,283.2 L488.3,285.1 L489.5,286.7 L490.6,288.0 L491.7,289.1 L492.7,290.0 L493.7,290.8 L494.6,291.5 L495.3,292.0 L496.0,292.3 L496.8,292.5 L497.6,292.6 L498.6,292.6 L499.8,292.4 L501.1,292.2 L502.5,291.8 L504.0,291.3 L505.4,290.6 L506.7,289.9 L507.9,289.2 L508.9,288.4 L509.9,287.5 L510.9,286.4 L512.0,285.0 L513.2,283.2 L514.5,281.1 L516.0,278.7 L517.5,276.1 L519.0,273.0 L520.5,269.5 L522.0,265.4 L523.5,260.4 L525.0,254.4 L526.5,248.0 L527.9,241.6 L529.3,235.6 L530.6,230.7 L531.7,226.6 L532.7,223.2 L533.7,220.2 L534.6,217.7 L535.5,215.4 L536.4,213.3 L537.4,211.4 L538.3,209.9 L539.2,208.7 L540.2,207.7 L541.1,206.9 L542.1,206.2 L543.2,205.6 L544.4,205.3 L545.6,205.1 L546.8,205.0 L547.9,205.0 L549.0,204.8 L549.9,204.6 L550.7,204.5 L551.5,204.4 L552.3,204.3 L553.0,204.0 L553.8,203.5 L554.6,202.8 L555.5,202.0 L556.3,201.0 L557.1,199.9 L557.9,198.8 L558.7,197.7 L559.4,196.5 L560.1,195.3 L560.7,194.0 L561.3,192.7 L561.9,191.2 L562.6,189.7 L563.3,187.9 L564.0,186.0 L564.7,184.0 L565.4,182.0 L566.1,180.1 L566.8,178.5 L567.6,177.1 L568.3,175.7 L569.1,174.4 L569.9,173.4 L570.6,172.6 L571.4,172.3 L572.1,172.4 L572.9,172.9 L573.6,173.7 L574.3,174.8 L575.0,176.0 L575.8,177.2 L576.5,178.5 L577.1,180.0 L577.8,181.7 L578.5,183.4 L579.2,185.2 L580.0,187.0 L580.8,188.9 L581.7,190.9 L582.6,193.0 L583.6,195.1 L584.5,197.0 L585.5,198.6 L586.5,199.9 L587.5,201.1 L588.6,202.1 L589.6,203.0 L590.7,203.7 L591.7,204.4 L592.7,204.9 L593.7,205.2 L594.7,205.5 L595.7,205.7 L596.7,205.9 L597.7,206.2 L598.7,206.5 L599.6,206.7 L600.6,207.0 L601.5,207.3 L602.4,207.8 L603.2,208.4 L604.0,209.1 L604.7,210.0 L605.4,211.0 L606.1,212.1 L606.7,213.3 L607.5,214.6 L608.2,215.9 L608.9,217.0 L609.6,218.3 L610.4,219.9 L611.2,222.0 L612.0,224.9 L612.9,228.8 L613.9,233.6 L614.9,239.0 L616.0,244.4 L617.0,249.5 L617.9,253.8 L618.6,257.3 L619.4,260.2 L620.1,262.8 L620.7,265.2 L621.4,267.5 L622.1,269.9 L622.8,272.2 L623.4,274.5 L624.1,276.7 L624.8,278.9 L625.6,280.9 L626.5,282.8 L627.5,284.6 L628.6,286.3 L629.8,287.9 L631.0,289.4 L632.2,290.8 L633.5,292.1 L634.7,293.3 L636.0,294.3 L637.4,295.2 L638.7,296.0 L639.9,296.8 L641.1,297.5 L642.1,298.1 L643.0,298.6 L643.9,299.0 L644.7,299.4 L645.6,299.7 L646.5,300.2" fill="none" stroke="#121288" stroke-width="2.2"/><rect x="467.7" y="127.4" width="178.7" height="178.1" fill="none" stroke="#111" stroke-width="1.2"/><line x1="467.7" y1="305.5" x2="471.7" y2="305.5" stroke="#111" stroke-width="1"/><text x="463.7" y="309.5" font-size="12" text-anchor="end" fill="#222" stroke="#222" stroke-width="0.3"  >0</text><line x1="467.7" y1="260.95" x2="471.7" y2="260.95" stroke="#111" stroke-width="1"/><text x="463.7" y="264.95" font-size="12" text-anchor="end" fill="#222" stroke="#222" stroke-width="0.3"  >1</text><line x1="467.7" y1="216.4" x2="471.7" y2="216.4" stroke="#111" stroke-width="1"/><text x="463.7" y="220.4" font-size="12" text-anchor="end" fill="#222" stroke="#222" stroke-width="0.3"  >2</text><line x1="467.7" y1="171.85000000000002" x2="471.7" y2="171.85000000000002" stroke="#111" stroke-width="1"/><text x="463.7" y="175.85000000000002" font-size="12" text-anchor="end" fill="#222" stroke="#222" stroke-width="0.3"  >3</text><line x1="467.7" y1="127.30000000000001" x2="471.7" y2="127.30000000000001" stroke="#111" stroke-width="1"/><text x="463.7" y="131.3" font-size="12" text-anchor="end" fill="#222" stroke="#222" stroke-width="0.3"  >4</text><line x1="467.7" y1="305.5" x2="467.7" y2="301.5" stroke="#111" stroke-width="1"/><text x="467.7" y="318" font-size="11.8" text-anchor="middle" fill="#1a1a1a" stroke="#1a1a1a" stroke-width="0.3"  >&#8722;16</text><line x1="500.2" y1="305.5" x2="500.2" y2="301.5" stroke="#111" stroke-width="1"/><text x="500.2" y="318" font-size="11.8" text-anchor="middle" fill="#1a1a1a" stroke="#1a1a1a" stroke-width="0.3"  >&#8722;14</text><line x1="532.7" y1="305.5" x2="532.7" y2="301.5" stroke="#111" stroke-width="1"/><text x="532.7" y="318" font-size="11.8" text-anchor="middle" fill="#1a1a1a" stroke="#1a1a1a" stroke-width="0.3"  >&#8722;12</text><line x1="565.2" y1="305.5" x2="565.2" y2="301.5" stroke="#111" stroke-width="1"/><text x="565.2" y="318" font-size="11.8" text-anchor="middle" fill="#1a1a1a" stroke="#1a1a1a" stroke-width="0.3"  >&#8722;10</text><line x1="597.7" y1="305.5" x2="597.7" y2="301.5" stroke="#111" stroke-width="1"/><text x="597.7" y="318" font-size="11.8" text-anchor="middle" fill="#1a1a1a" stroke="#1a1a1a" stroke-width="0.3"  >&#8722;8</text><line x1="630.2" y1="305.5" x2="630.2" y2="301.5" stroke="#111" stroke-width="1"/><text x="630.2" y="318" font-size="11.8" text-anchor="middle" fill="#1a1a1a" stroke="#1a1a1a" stroke-width="0.3"  >&#8722;6</text><text x="551.5" y="332" font-size="11.8" text-anchor="middle" fill="#1a1a1a" stroke="#1a1a1a" stroke-width="0.3"  >Inter-shell energy level</text><text x="552.3" y="151.5" font-size="11.9" text-anchor="middle" fill="#a52a3c" stroke="#a52a3c" stroke-width="0.3"  >SU(3) Inter-shell Kondo effect</text><text transform="translate(457,229) rotate(-90)" font-size="12.5" text-anchor="middle" fill="#1a1a1a"><tspan font-style="italic">G</tspan>[<tspan font-style="italic">e</tspan><tspan font-size="8" dy="-5">2</tspan><tspan dy="5">/h]</tspan></text><line x1="45" y1="137.0" x2="49" y2="137.0" stroke="#111" stroke-width="1.2"/><text x="43.5" y="141.0" font-size="11.5" text-anchor="end" fill="#1a1a1a" stroke="#1a1a1a" stroke-width="0.3"  >0.7</text><line x1="45" y1="190.6" x2="49" y2="190.6" stroke="#111" stroke-width="1.2"/><text x="43.5" y="194.6" font-size="11.5" text-anchor="end" fill="#1a1a1a" stroke="#1a1a1a" stroke-width="0.3"  >0.5</text><line x1="45" y1="244.2" x2="49" y2="244.2" stroke="#111" stroke-width="1.2"/><text x="43.5" y="248.2" font-size="11.5" text-anchor="end" fill="#1a1a1a" stroke="#1a1a1a" stroke-width="0.3"  >0.3</text><line x1="45" y1="297.6" x2="49" y2="297.6" stroke="#111" stroke-width="1.2"/><text x="43.5" y="301.6" font-size="11.5" text-anchor="end" fill="#1a1a1a" stroke="#1a1a1a" stroke-width="0.3"  >0.1</text><line x1="45.0" y1="302.6" x2="45.0" y2="298.6" stroke="#111" stroke-width="1.2"/><text x="45.0" y="315" font-size="11.5" text-anchor="middle" fill="#1a1a1a" stroke="#1a1a1a" stroke-width="0.3"  letter-spacing="0.6">&#8722;16</text><line x1="78.2" y1="302.6" x2="78.2" y2="298.6" stroke="#111" stroke-width="1.2"/><text x="78.2" y="315" font-size="11.5" text-anchor="middle" fill="#1a1a1a" stroke="#1a1a1a" stroke-width="0.3"  letter-spacing="0.6">&#8722;14</text><line x1="111.4" y1="302.6" x2="111.4" y2="298.6" stroke="#111" stroke-width="1.2"/><text x="111.4" y="315" font-size="11.5" text-anchor="middle" fill="#1a1a1a" stroke="#1a1a1a" stroke-width="0.3"  letter-spacing="0.6">&#8722;12</text><line x1="144.6" y1="302.6" x2="144.6" y2="298.6" stroke="#111" stroke-width="1.2"/><text x="144.6" y="315" font-size="11.5" text-anchor="middle" fill="#1a1a1a" stroke="#1a1a1a" stroke-width="0.3"  letter-spacing="0.6">&#8722;10</text><line x1="177.8" y1="302.6" x2="177.8" y2="298.6" stroke="#111" stroke-width="1.2"/><text x="177.8" y="315" font-size="11.5" text-anchor="middle" fill="#1a1a1a" stroke="#1a1a1a" stroke-width="0.3"  letter-spacing="0.6">&#8722;8</text><line x1="211.0" y1="302.6" x2="211.0" y2="298.6" stroke="#111" stroke-width="1.2"/><text x="211.0" y="315" font-size="11.5" text-anchor="middle" fill="#1a1a1a" stroke="#1a1a1a" stroke-width="0.3"  letter-spacing="0.6">&#8722;6</text><rect x="45" y="137" width="166" height="165.60000000000002" fill="none" stroke="#111" stroke-width="1.4"/><text x="121" y="329" font-size="11.8" text-anchor="middle" fill="#1a1a1a" stroke="#1a1a1a" stroke-width="0.3"  >Inter-shell energy level</text><text transform="translate(25,219) rotate(-90)" font-size="12" text-anchor="middle" fill="#1a1a1a"><tspan font-style="italic">B</tspan><tspan font-size="8" dy="3">||</tspan></text><line x1="257.7" y1="137.0" x2="261.7" y2="137.0" stroke="#111" stroke-width="1.2"/><text x="256" y="141.0" font-size="11.5" text-anchor="end" fill="#1a1a1a" stroke="#1a1a1a" stroke-width="0.3"  >0.7</text><line x1="257.7" y1="190.6" x2="261.7" y2="190.6" stroke="#111" stroke-width="1.2"/><text x="256" y="194.6" font-size="11.5" text-anchor="end" fill="#1a1a1a" stroke="#1a1a1a" stroke-width="0.3"  >0.5</text><line x1="257.7" y1="244.2" x2="261.7" y2="244.2" stroke="#111" stroke-width="1.2"/><text x="256" y="248.2" font-size="11.5" text-anchor="end" fill="#1a1a1a" stroke="#1a1a1a" stroke-width="0.3"  >0.3</text><line x1="257.7" y1="297.6" x2="261.7" y2="297.6" stroke="#111" stroke-width="1.2"/><text x="256" y="301.6" font-size="11.5" text-anchor="end" fill="#1a1a1a" stroke="#1a1a1a" stroke-width="0.3"  >0.1</text><line x1="257.7" y1="302.7" x2="257.7" y2="298.7" stroke="#111" stroke-width="1.2"/><text x="257.7" y="315" font-size="11.5" text-anchor="middle" fill="#1a1a1a" stroke="#1a1a1a" stroke-width="0.3"  letter-spacing="0.6">&#8722;16</text><line x1="290.96" y1="302.7" x2="290.96" y2="298.7" stroke="#111" stroke-width="1.2"/><text x="290.96" y="315" font-size="11.5" text-anchor="middle" fill="#1a1a1a" stroke="#1a1a1a" stroke-width="0.3"  letter-spacing="0.6">&#8722;14</text><line x1="324.22" y1="302.7" x2="324.22" y2="298.7" stroke="#111" stroke-width="1.2"/><text x="324.22" y="315" font-size="11.5" text-anchor="middle" fill="#1a1a1a" stroke="#1a1a1a" stroke-width="0.3"  letter-spacing="0.6">&#8722;12</text><line x1="357.48" y1="302.7" x2="357.48" y2="298.7" stroke="#111" stroke-width="1.2"/><text x="357.48" y="315" font-size="11.5" text-anchor="middle" fill="#1a1a1a" stroke="#1a1a1a" stroke-width="0.3"  letter-spacing="0.6">&#8722;10</text><line x1="390.74" y1="302.7" x2="390.74" y2="298.7" stroke="#111" stroke-width="1.2"/><text x="390.74" y="315" font-size="11.5" text-anchor="middle" fill="#1a1a1a" stroke="#1a1a1a" stroke-width="0.3"  letter-spacing="0.6">&#8722;8</text><line x1="424.0" y1="302.7" x2="424.0" y2="298.7" stroke="#111" stroke-width="1.2"/><text x="424.0" y="315" font-size="11.5" text-anchor="middle" fill="#1a1a1a" stroke="#1a1a1a" stroke-width="0.3"  letter-spacing="0.6">&#8722;6</text><rect x="257.7" y="137.2" width="166.3" height="165.5" fill="none" stroke="#111" stroke-width="1.4"/><text x="333" y="329" font-size="11.8" text-anchor="middle" fill="#1a1a1a" stroke="#1a1a1a" stroke-width="0.3"  >Inter-shell energy level</text><text transform="translate(238,219) rotate(-90)" font-size="12" text-anchor="middle" fill="#1a1a1a"><tspan font-style="italic">B</tspan><tspan font-size="8" dy="3">||</tspan></text><rect x="148.8" y="152.5" width="58.19999999999999" height="11.099999999999994" fill="url(#jetbar)"/><text x="149.8" y="175.5" font-size="10" text-anchor="middle" fill="#f4f4f4"   >0</text><text x="168.53333333333333" y="175.5" font-size="10" text-anchor="middle" fill="#f4f4f4"   >1</text><text x="187.26666666666668" y="175.5" font-size="10" text-anchor="middle" fill="#f4f4f4"   >2</text><text x="206.0" y="175.5" font-size="10" text-anchor="middle" fill="#f4f4f4"   >3</text><text x="177.5" y="149.5" font-size="9.5" text-anchor="middle" fill="#f0f0f0"><tspan font-style="italic">G</tspan>[<tspan font-style="italic">e</tspan><tspan font-size="6.5" dy="-3.5">2</tspan><tspan dy="3.5">/h]</tspan></text><rect x="362" y="153" width="57.5" height="10.800000000000011" fill="url(#jetbar)"/><text x="363.0" y="176" font-size="10" text-anchor="middle" fill="#f4f4f4"   >0</text><text x="381.5" y="176" font-size="10" text-anchor="middle" fill="#f4f4f4"   >1</text><text x="400.0" y="176" font-size="10" text-anchor="middle" fill="#f4f4f4"   >2</text><text x="418.5" y="176" font-size="10" text-anchor="middle" fill="#f4f4f4"   >3</text><text x="390.5" y="150" font-size="9.5" text-anchor="middle" fill="#f0f0f0"><tspan font-style="italic">G</tspan>[<tspan font-style="italic">e</tspan><tspan font-size="6.5" dy="-3.5">2</tspan><tspan dy="3.5">/h]</tspan></text><line x1="162.2" y1="14.5" x2="162.2" y2="98.6" stroke="#999" stroke-width="0.9" stroke-dasharray="1,1.2"/><line x1="218" y1="14.5" x2="218" y2="98.6" stroke="#999" stroke-width="0.9" stroke-dasharray="1,1.2"/><path d="M143.7,14.5 L146.5,14.5 L149.4,14.5 L152.4,14.5 L155.2,14.5 L157.8,14.6 L160.0,14.6 L161.8,14.6 L163.3,14.7 L164.6,14.7 L165.7,14.7 L166.8,14.8 L168.0,15.0 L169.2,15.2 L170.3,15.4 L171.4,15.7 L172.5,16.0 L173.6,16.4 L174.7,17.0 L175.8,17.7 L177.0,18.6 L178.1,19.6 L179.3,20.6 L180.4,21.7 L181.4,22.8 L182.4,24.0 L183.3,25.2 L184.2,26.5 L185.1,27.8 L185.9,29.1 L186.8,30.2 L187.7,31.2 L188.6,32.1 L189.5,33.0 L190.3,33.8 L191.2,34.6 L192.1,35.3 L193.0,35.9 L193.9,36.4 L194.9,36.8 L195.8,37.3 L196.7,37.8 L197.5,38.5 L198.3,39.4 L199.0,40.3 L199.7,41.3 L200.3,42.5 L200.9,43.7 L201.5,45.0 L202.0,46.5 L202.5,48.1 L202.9,49.8 L203.3,51.5 L203.7,53.3 L204.1,55.0 L204.5,56.6 L204.8,58.2 L205.1,59.8 L205.4,61.4 L205.7,63.1 L206.0,65.0 L206.3,67.2 L206.7,69.5 L207.1,72.0 L207.4,74.5 L207.8,76.9 L208.2,79.0 L208.6,80.9 L209.0,82.5 L209.4,84.1 L209.8,85.6 L210.3,86.9 L210.8,88.2 L211.4,89.4 L211.9,90.5 L212.5,91.5 L213.2,92.4 L214.0,93.3 L214.8,94.0 L215.8,94.6 L216.8,95.2 L218.0,95.6 L219.2,96.0 L220.4,96.2 L221.5,96.5 L222.6,96.7 L223.7,96.8 L224.8,96.8 L225.9,96.8 L227.0,96.8 L228.1,96.8" fill="none" stroke="#a83cb8" stroke-width="1.5"/><rect x="143.7" y="14.5" width="84.4" height="84.1" fill="none" stroke="#222" stroke-width="1.1"/><line x1="143.7" y1="98.6" x2="146.2" y2="98.6" stroke="#333" stroke-width="0.8"/><text x="142.7" y="101.1" font-size="6.6" text-anchor="end" fill="#222"   >0</text><line x1="143.7" y1="81.78" x2="146.2" y2="81.78" stroke="#333" stroke-width="0.8"/><text x="142.7" y="84.28" font-size="6.6" text-anchor="end" fill="#222"   >0.2</text><line x1="143.7" y1="64.96" x2="146.2" y2="64.96" stroke="#333" stroke-width="0.8"/><text x="142.7" y="67.46" font-size="6.6" text-anchor="end" fill="#222"   >0.4</text><line x1="143.7" y1="48.14" x2="146.2" y2="48.14" stroke="#333" stroke-width="0.8"/><text x="142.7" y="50.64" font-size="6.6" text-anchor="end" fill="#222"   >0.6</text><line x1="143.7" y1="31.319999999999993" x2="146.2" y2="31.319999999999993" stroke="#333" stroke-width="0.8"/><text x="142.7" y="33.81999999999999" font-size="6.6" text-anchor="end" fill="#222"   >0.8</text><line x1="143.7" y1="14.5" x2="146.2" y2="14.5" stroke="#333" stroke-width="0.8"/><text x="142.7" y="17.0" font-size="6.6" text-anchor="end" fill="#222"   >1</text><line x1="143.7" y1="98.6" x2="143.7" y2="96.1" stroke="#333" stroke-width="0.8"/><text x="143.7" y="105.5" font-size="6.6" text-anchor="middle" fill="#222"   >10<tspan font-size="5" dy="-3">&#8722;3</tspan></text><line x1="171.9" y1="98.6" x2="171.9" y2="96.1" stroke="#333" stroke-width="0.8"/><text x="171.9" y="105.5" font-size="6.6" text-anchor="middle" fill="#222"   >10<tspan font-size="5" dy="-3">&#8722;1</tspan></text><line x1="200.1" y1="98.6" x2="200.1" y2="96.1" stroke="#333" stroke-width="0.8"/><text x="200.1" y="105.5" font-size="6.6" text-anchor="middle" fill="#222"   >10</text><line x1="228.1" y1="98.6" x2="228.1" y2="96.1" stroke="#333" stroke-width="0.8"/><text x="228.1" y="105.5" font-size="6.6" text-anchor="middle" fill="#222"   >10<tspan font-size="5" dy="-3">3</tspan></text><text x="185" y="114" font-size="7" text-anchor="middle" fill="#222">&#916;/<tspan font-style="italic">T</tspan><tspan font-size="4.5" dy="1.5">K</tspan><tspan font-size="4" dx="-2.5" dy="-5">SU(4)</tspan></text><text transform="translate(132,57.5) rotate(-90)" font-size="7" text-anchor="middle" fill="#222"><tspan font-style="italic">T</tspan><tspan font-size="4.5" dy="1.5">C</tspan><tspan dy="-1.5">/</tspan><tspan font-style="italic">T</tspan><tspan font-size="4.5" dy="1.5">K</tspan><tspan font-size="4" dx="-2.5" dy="-5">SU(4)</tspan></text><text transform="translate(156,56.5) rotate(-90)" font-size="6.6" text-anchor="middle" fill="#9a9a9a">SU(4)</text><text transform="translate(184.3,56.5) rotate(-90)" font-size="6.6" text-anchor="middle" fill="#9a9a9a">CROSSOVER</text><text transform="translate(225.7,57.4) rotate(-90)" font-size="6.6" text-anchor="middle" fill="#9a9a9a">SU(2)</text><path d="M253.5,29.3 L259.4,29.3 L265.8,29.3 L272.2,29.3 L278.1,29.3 L283.2,29.3 L287.0,29.3 L289.3,29.3 L290.2,29.3 L290.3,29.3 L290.1,29.4 L289.8,29.4 L290.0,29.5 L290.6,29.6 L291.3,29.8 L292.0,29.9 L292.7,30.1 L293.4,30.4 L294.0,30.7 L294.6,31.0 L295.2,31.3 L295.8,31.6 L296.4,32.1 L296.9,32.7 L297.5,33.5 L298.1,34.6 L298.7,35.9 L299.3,37.4 L299.9,38.9 L300.4,40.5 L301.0,42.0 L301.5,43.5 L302.0,45.1 L302.5,46.8 L303.0,48.3 L303.5,49.8 L304.0,51.0 L304.5,52.0 L305.0,53.0 L305.4,53.7 L305.9,54.4 L306.4,55.0 L307.0,55.5 L307.3,55.9 L307.4,56.2 L307.5,56.4 L307.9,56.6 L309.0,56.7 L311.0,56.8 L314.2,56.9 L318.4,56.9 L323.3,56.9 L328.5,56.8 L333.6,56.8 L338.5,56.8" fill="none" stroke="#a030c8" stroke-width="1.3"/><path d="M253.5,29.3 L259.4,29.3 L265.8,29.3 L272.1,29.3 L278.0,29.4 L283.1,29.3 L287.0,29.3 L289.3,29.3 L290.4,29.3 L290.7,29.3 L290.6,29.3 L290.5,29.0 L291.0,28.6 L291.9,27.9 L293.0,26.9 L294.1,25.8 L295.3,24.7 L296.4,23.5 L297.5,22.5 L298.5,21.5 L299.6,20.5 L300.6,19.5 L301.6,18.6 L302.5,17.8 L303.4,17.2 L304.2,16.7 L305.0,16.3 L305.7,16.1 L306.3,15.9 L306.9,15.8 L307.5,15.9 L308.0,16.0 L308.5,16.1 L309.0,16.3 L309.4,16.7 L309.8,17.4 L310.1,18.5 L310.4,19.8 L310.6,21.3 L310.8,23.1 L311.0,25.3 L311.2,28.0 L311.5,31.4 L311.9,35.8 L312.3,41.2 L312.7,47.1 L313.2,53.1 L313.6,58.7 L314.1,63.5 L314.5,67.5 L314.9,71.2 L315.4,74.4 L315.8,77.4 L316.3,79.9 L316.8,82.2 L317.4,84.1 L317.9,85.5 L318.6,86.6 L319.2,87.4 L320.0,88.2 L320.8,88.9 L321.7,89.6 L322.7,90.2 L323.7,90.6 L324.8,91.0 L326.1,91.3 L327.5,91.6 L329.1,91.8 L330.8,92.0 L332.7,92.1 L334.7,92.2 L336.6,92.3 L338.5,92.4" fill="none" stroke="#3cd2a0" stroke-width="1.3"/><path d="M253.5,29.3 L259.4,29.3 L265.8,29.3 L272.1,29.3 L278.0,29.3 L283.1,29.3 L287.0,29.3 L289.4,29.3 L290.5,29.3 L290.8,29.3 L290.7,29.2 L290.7,29.1 L291.0,29.0 L291.7,28.8 L292.5,28.5 L293.3,28.1 L294.1,27.8 L294.8,27.4 L295.4,27.2 L295.9,27.0 L296.4,26.7 L296.8,26.4 L297.2,26.3 L297.6,26.4 L298.0,26.8 L298.5,27.4 L298.9,28.1 L299.4,29.0 L299.9,30.3 L300.3,31.9 L300.8,34.0 L301.2,36.9 L301.7,40.5 L302.1,44.5 L302.5,48.5 L303.0,52.3 L303.4,55.5 L303.8,58.1 L304.2,60.4 L304.6,62.5 L305.0,64.3 L305.5,66.0 L306.0,67.5 L306.6,68.9 L307.2,70.1 L307.8,71.2 L308.5,72.1 L309.2,72.9 L310.0,73.5 L310.6,74.0 L311.1,74.2 L311.6,74.4 L312.3,74.4 L313.6,74.4 L315.5,74.5 L318.3,74.6 L321.9,74.6 L325.9,74.6 L330.2,74.5 L334.5,74.5 L338.5,74.5" fill="none" stroke="#5a4a90" stroke-width="1" stroke-dasharray="1.1,0.9"/><rect x="253.5" y="14.3" width="85.0" height="83.2" fill="none" stroke="#222" stroke-width="1.1"/><line x1="253.5" y1="29.4" x2="256.0" y2="29.4" stroke="#333" stroke-width="0.8"/><text x="252.0" y="31.9" font-size="6.6" text-anchor="end" fill="#222"   >1</text><line x1="253.5" y1="46.6" x2="256.0" y2="46.6" stroke="#333" stroke-width="0.8"/><text x="252.0" y="49.1" font-size="6.6" text-anchor="end" fill="#222"   >10<tspan font-size="5" dy="-3">&#8722;1</tspan></text><line x1="253.5" y1="63.8" x2="256.0" y2="63.8" stroke="#333" stroke-width="0.8"/><text x="252.0" y="66.3" font-size="6.6" text-anchor="end" fill="#222"   >10<tspan font-size="5" dy="-3">&#8722;2</tspan></text><line x1="253.5" y1="81" x2="256.0" y2="81" stroke="#333" stroke-width="0.8"/><text x="252.0" y="83.5" font-size="6.6" text-anchor="end" fill="#222"   >10<tspan font-size="5" dy="-3">&#8722;3</tspan></text><line x1="253.5" y1="97.5" x2="256.0" y2="97.5" stroke="#333" stroke-width="0.8"/><text x="252.0" y="100.0" font-size="6.6" text-anchor="end" fill="#222"   >10<tspan font-size="5" dy="-3">&#8722;4</tspan></text><line x1="253.5" y1="97.5" x2="253.5" y2="95.0" stroke="#333" stroke-width="0.8"/><text x="253.5" y="105" font-size="6.6" text-anchor="middle" fill="#222"   >10<tspan font-size="5" dy="-3">&#8722;3</tspan></text><line x1="272.4" y1="97.5" x2="272.4" y2="95.0" stroke="#333" stroke-width="0.8"/><text x="272.4" y="105" font-size="6.6" text-anchor="middle" fill="#222"   >10<tspan font-size="5" dy="-3">&#8722;1</tspan></text><line x1="291.3" y1="97.5" x2="291.3" y2="95.0" stroke="#333" stroke-width="0.8"/><text x="291.3" y="105" font-size="6.6" text-anchor="middle" fill="#222"   >10</text><line x1="310.2" y1="97.5" x2="310.2" y2="95.0" stroke="#333" stroke-width="0.8"/><text x="310.2" y="105" font-size="6.6" text-anchor="middle" fill="#222"   >10<tspan font-size="5" dy="-3">3</tspan></text><line x1="329.1" y1="97.5" x2="329.1" y2="95.0" stroke="#333" stroke-width="0.8"/><text x="329.1" y="105" font-size="6.6" text-anchor="middle" fill="#222"   >10<tspan font-size="5" dy="-3">5</tspan></text><text x="295" y="113.5" font-size="7" text-anchor="middle" fill="#222">&#916;/<tspan font-style="italic">T</tspan><tspan font-size="4.5" dy="1.5">K</tspan><tspan font-size="4" dx="-2.5" dy="-5">SU(4)</tspan></text><text transform="translate(239.5,55.5) rotate(-90)" font-size="7" text-anchor="middle" fill="#222"><tspan font-style="italic">T</tspan><tspan font-size="4.5" dy="1.5">C</tspan><tspan dy="-1.5">/</tspan><tspan font-style="italic">T</tspan><tspan font-size="4.5" dy="1.5">K</tspan><tspan font-size="4" dx="-2.5" dy="-5">SU(4)</tspan></text><rect x="264.1" y="49.3" width="34.0" height="32.5" fill="#fff" stroke="#222" stroke-width="0.9"/><path d="M264.1,71.6 L266.9,71.6 L269.9,71.7 L272.9,71.8 L275.7,71.8 L278.1,71.8 L280.0,71.8 L281.2,71.8 L281.9,71.8 L282.3,71.9 L282.4,71.8 L282.6,71.5 L283.0,71.0 L283.6,70.2 L284.1,69.2 L284.8,68.0 L285.4,66.7 L286.0,65.3 L286.7,64.0 L287.4,62.6 L288.2,61.0 L289.0,59.4 L289.9,57.8 L290.6,56.4 L291.3,55.3 L291.9,54.3 L292.4,53.4 L292.9,52.6 L293.4,52.1 L293.9,52.0 L294.3,52.3 L294.7,53.1 L295.2,54.3 L295.6,55.9 L296.0,57.8 L296.3,59.8 L296.6,62.0 L296.8,64.5 L297.0,67.6 L297.1,70.8 L297.2,73.9 L297.2,76.6 L297.3,78.7 L297.4,80.0 L297.4,80.7 L297.5,81.1 L297.5,81.3 L297.6,81.4 L297.6,81.8" fill="none" stroke="#b03030" stroke-width="1.5"/><path d="M264.1,72.0 L266.9,72.0 L269.9,72.1 L272.9,72.1 L275.7,72.1 L278.1,72.2 L280.0,72.2 L281.2,72.3 L282.0,72.4 L282.3,72.5 L282.5,72.6 L282.6,72.7 L283.0,72.6 L283.5,72.4 L284.0,72.1 L284.4,71.8 L284.9,71.4 L285.5,71.0 L286.0,70.5 L286.6,69.9 L287.2,69.3 L287.8,68.6 L288.5,67.9 L289.1,67.3 L289.8,66.7 L290.5,66.2 L291.3,65.6 L292.2,65.1 L293.0,64.7 L293.7,64.4 L294.3,64.4 L294.8,64.6 L295.2,64.9 L295.5,65.4 L295.7,66.1 L296.0,66.9 L296.2,68.0 L296.4,69.5 L296.7,71.3 L296.9,73.4 L297.0,75.4 L297.2,77.3 L297.3,78.7 L297.4,79.7 L297.5,80.3 L297.5,80.7 L297.5,81.0 L297.6,81.4 L297.6,81.8" fill="none" stroke="#111" stroke-width="1.5"/><path d="M264.1,77.2 L267.2,77.2 L270.6,77.2 L273.9,77.2 L277.1,77.3 L279.8,77.2 L282.0,77.2 L283.5,77.2 L284.3,77.1 L284.8,77.0 L285.1,76.9 L285.4,76.8 L286.0,76.5 L286.8,76.1 L287.7,75.7 L288.7,75.2 L289.6,74.6 L290.5,74.0 L291.3,73.5 L292.0,72.9 L292.7,72.2 L293.4,71.5 L294.0,70.9 L294.5,70.5 L295.0,70.4 L295.4,70.6 L295.8,70.9 L296.1,71.5 L296.4,72.2 L296.6,73.1 L296.8,74.0 L297.0,75.1 L297.1,76.3 L297.2,77.6 L297.3,79.0 L297.4,80.5 L297.5,81.8" fill="none" stroke="#2a2a8a" stroke-width="1" stroke-dasharray="1,1"/><text x="263" y="51.5" font-size="5" text-anchor="end" fill="#333"   >0.2</text><text x="263" y="67.5" font-size="5" text-anchor="end" fill="#333"   >0.1</text><text x="263" y="83.5" font-size="5" text-anchor="end" fill="#333"   >0</text><text x="264.1" y="87" font-size="5" text-anchor="middle" fill="#333"   >10<tspan font-size="3.5" dy="-2">&#8722;3</tspan></text><text x="275.4" y="87" font-size="5" text-anchor="middle" fill="#333"   >10<tspan font-size="3.5" dy="-2">&#8722;1</tspan></text><text x="286.7" y="87" font-size="5" text-anchor="middle" fill="#333"   >10</text><text x="296.6" y="87" font-size="5" text-anchor="middle" fill="#333"   >10<tspan font-size="3.5" dy="-2">3</tspan></text><text x="281" y="93" font-size="5.5" text-anchor="middle" fill="#333">&#916;/<tspan font-style="italic">T</tspan><tspan font-size="4.5" dy="2">K</tspan><tspan font-size="4.5" dy="-5">SU(4)</tspan></text><text x="287" y="56" font-size="5" text-anchor="middle" fill="#b03030" font-style="italic">T&#967;<tspan font-size="3.5" dy="1.5">imp</tspan></text><text x="275" y="68.5" font-size="5" text-anchor="middle" fill="#111" font-style="italic">&#961;<tspan font-size="4" dy="1.5">d</tspan><tspan dy="-1.5">A</tspan><tspan font-size="4" dy="1.5">t</tspan></text><text x="291" y="80" font-size="5" text-anchor="middle" fill="#2a2a8a" font-style="italic">&#961;<tspan font-size="4" dy="1.5">f</tspan><tspan dy="-1.5">A</tspan><tspan font-size="4" dy="1.5">f</tspan></text><rect x="26.2" y="13.7" width="80.1" height="79.6" fill="none" stroke="#222" stroke-width="0.8"/><rect x="31" y="81.2" width="27.4" height="4.8" fill="url(#infbar)"/><text x="44.5" y="80" font-size="4.8" text-anchor="middle" fill="#bbb"   >F(E)</text><text x="30.5" y="90.5" font-size="4.8" text-anchor="middle" fill="#bbb"   >0</text><text x="44.5" y="90.5" font-size="4.8" text-anchor="middle" fill="#bbb"   >2</text><text x="58" y="90.5" font-size="4.8" text-anchor="middle" fill="#bbb"   >4</text><text x="24.5" y="16.5" font-size="5.8" text-anchor="end" fill="#444"   >1</text><text x="24.5" y="52.5" font-size="5.8" text-anchor="end" fill="#444"   >10<tspan font-size="4" dy="-2.2">&#8722;1</tspan></text><text x="24.5" y="77.5" font-size="5.8" text-anchor="end" fill="#444"   >10<tspan font-size="4" dy="-2.2">&#8722;2</tspan></text><text x="24.5" y="95" font-size="5.8" text-anchor="end" fill="#444"   >10<tspan font-size="4" dy="-2.2">&#8722;3</tspan></text><text transform="translate(12.5,54) rotate(-90)" font-size="6.5" text-anchor="middle" fill="#444">&#916;</text><text x="26.5" y="98.5" font-size="5.8" text-anchor="middle" fill="#444"   >&#8722;2&#215;10<tspan font-size="4" dy="-2.2">&#8722;1</tspan></text><text x="42.5" y="98.5" font-size="5.8" text-anchor="middle" fill="#444"   >10<tspan font-size="4" dy="-2.2">&#8722;1</tspan></text><text x="64" y="98.5" font-size="5.8" text-anchor="middle" fill="#444"   >0</text><text x="82.5" y="98.5" font-size="5.8" text-anchor="middle" fill="#444"   >10<tspan font-size="4" dy="-2.2">&#8722;1</tspan></text><text x="105.5" y="98.5" font-size="5.8" text-anchor="middle" fill="#444"   >2&#215;10<tspan font-size="4" dy="-2.2">&#8722;1</tspan></text><text x="66" y="106.5" font-size="6.5" text-anchor="middle" fill="#444"   >E</text></svg>
</body></html>
